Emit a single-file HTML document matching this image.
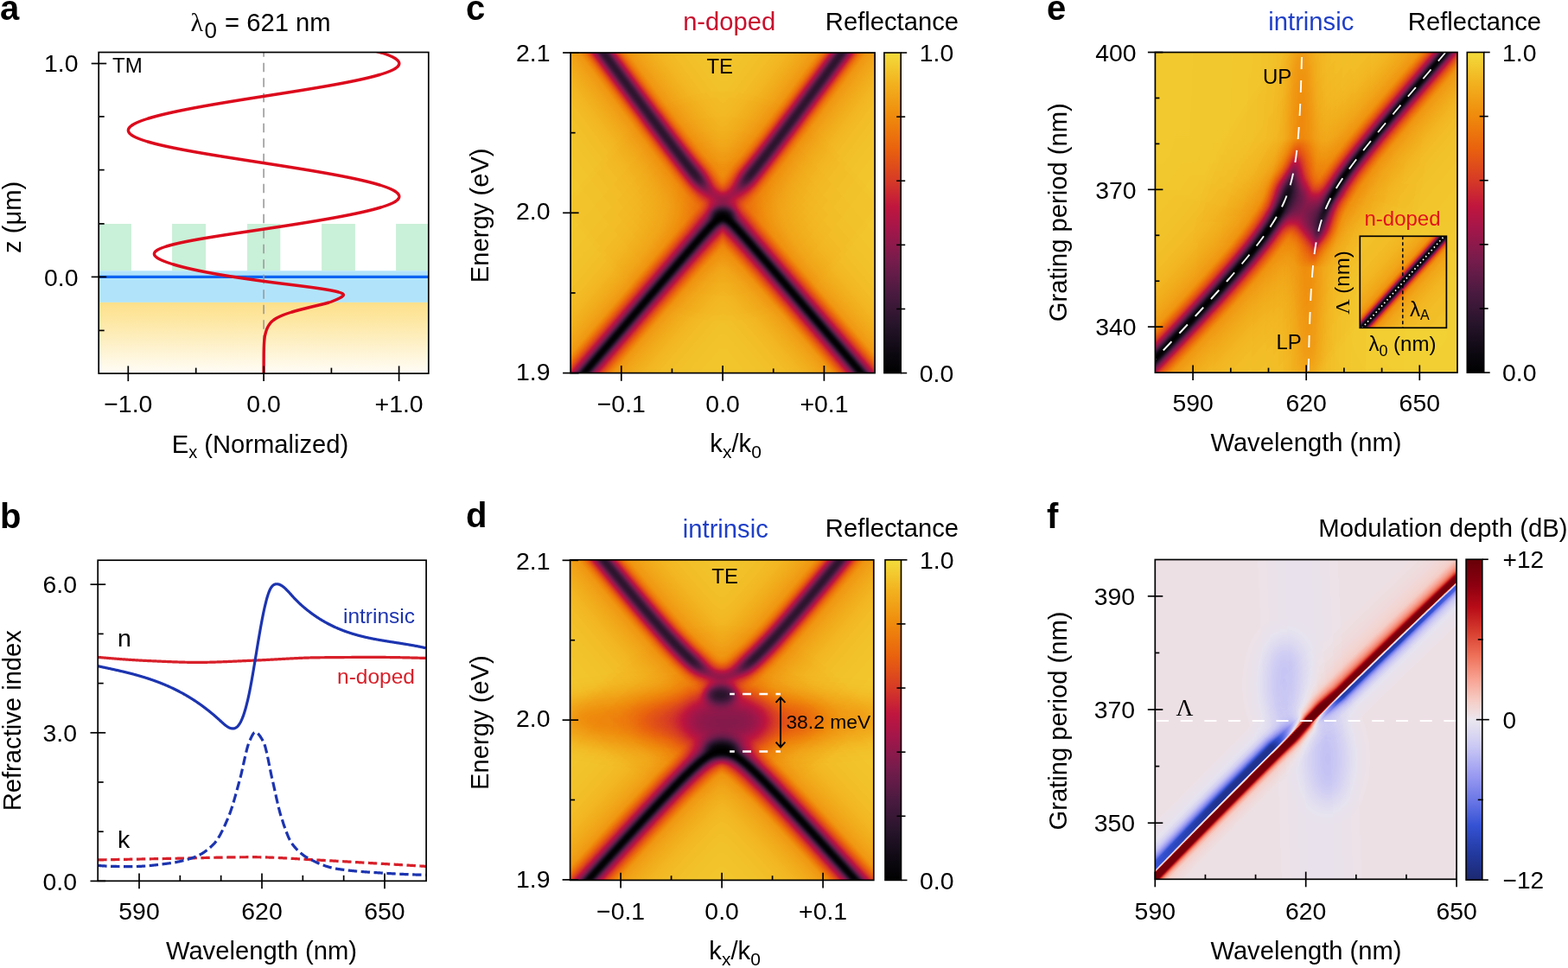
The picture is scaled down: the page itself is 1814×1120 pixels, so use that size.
<!DOCTYPE html>
<html><head><meta charset="utf-8"><title>figure</title>
<style>html,body{margin:0;padding:0;background:#fff;} svg{display:block;}</style></head>
<body><svg width="1814" height="1120" viewBox="0 0 1814 1120" font-family="'Liberation Sans', Arial, Helvetica, sans-serif">
<defs><filter id="cmR" x="0" y="0" width="1" height="1" color-interpolation-filters="sRGB"><feComponentTransfer><feFuncR type="table" tableValues="0 0.017 0.033 0.051 0.076 0.1 0.124 0.148 0.178 0.208 0.238 0.268 0.299 0.336 0.373 0.41 0.446 0.484 0.522 0.561 0.599 0.637 0.672 0.705 0.738 0.766 0.789 0.812 0.835 0.852 0.868 0.884 0.899 0.914 0.919 0.924 0.929 0.934 0.938 0.941 0.943 0.946 0.948 0.95 0.95 0.951 0.952 0.953"/><feFuncG type="table" tableValues="0 0.011 0.022 0.033 0.045 0.056 0.067 0.078 0.083 0.088 0.093 0.098 0.102 0.104 0.106 0.107 0.109 0.107 0.102 0.097 0.092 0.087 0.086 0.086 0.086 0.107 0.145 0.182 0.22 0.254 0.288 0.321 0.354 0.388 0.421 0.454 0.488 0.521 0.554 0.586 0.617 0.649 0.681 0.716 0.753 0.789 0.826 0.863"/><feFuncB type="table" tableValues="0 0.022 0.045 0.067 0.091 0.115 0.139 0.164 0.182 0.201 0.219 0.237 0.253 0.263 0.274 0.284 0.294 0.297 0.295 0.294 0.292 0.29 0.278 0.264 0.249 0.229 0.204 0.179 0.154 0.133 0.113 0.093 0.073 0.055 0.053 0.051 0.05 0.048 0.053 0.068 0.083 0.098 0.113 0.135 0.16 0.185 0.21 0.235"/></feComponentTransfer></filter><filter id="cmD" x="0" y="0" width="1" height="1" color-interpolation-filters="sRGB"><feComponentTransfer><feFuncR type="table" tableValues="0.11 0.116 0.122 0.129 0.138 0.155 0.173 0.19 0.208 0.266 0.323 0.381 0.436 0.486 0.536 0.586 0.634 0.678 0.723 0.767 0.808 0.841 0.873 0.905 0.929 0.945 0.96 0.966 0.969 0.971 0.968 0.956 0.944 0.931 0.904 0.878 0.852 0.82 0.787 0.753 0.719 0.666 0.614 0.562 0.519 0.479 0.44 0.4"/><feFuncG type="table" tableValues="0.157 0.175 0.192 0.21 0.229 0.252 0.275 0.299 0.322 0.362 0.401 0.441 0.48 0.518 0.555 0.593 0.633 0.675 0.718 0.761 0.8 0.83 0.861 0.891 0.887 0.85 0.812 0.764 0.712 0.659 0.605 0.548 0.491 0.433 0.376 0.319 0.262 0.207 0.153 0.099 0.046 0.032 0.018 0.003 0 0 0 0"/><feFuncB type="table" tableValues="0.439 0.487 0.535 0.583 0.632 0.682 0.732 0.782 0.832 0.85 0.869 0.888 0.905 0.918 0.93 0.943 0.95 0.952 0.954 0.955 0.956 0.95 0.945 0.94 0.907 0.848 0.788 0.726 0.664 0.603 0.539 0.472 0.405 0.34 0.293 0.245 0.197 0.168 0.143 0.118 0.094 0.084 0.075 0.065 0.056 0.048 0.04 0.031"/></feComponentTransfer></filter><linearGradient id="gR" x1="0" y1="1" x2="0" y2="0"><stop offset="0.000" stop-color="#000000"/><stop offset="0.060" stop-color="#0c0810"/><stop offset="0.150" stop-color="#26142a"/><stop offset="0.250" stop-color="#4a1a40"/><stop offset="0.350" stop-color="#761c4c"/><stop offset="0.450" stop-color="#a4164a"/><stop offset="0.520" stop-color="#c0163e"/><stop offset="0.600" stop-color="#d63a26"/><stop offset="0.700" stop-color="#e9620e"/><stop offset="0.800" stop-color="#ef8a0c"/><stop offset="0.900" stop-color="#f2b01e"/><stop offset="1.000" stop-color="#f3dc3c"/></linearGradient><linearGradient id="gD" x1="0" y1="1" x2="0" y2="0"><stop offset="0.000" stop-color="#1c2870"/><stop offset="0.080" stop-color="#22399e"/><stop offset="0.170" stop-color="#3552d4"/><stop offset="0.250" stop-color="#6c78e6"/><stop offset="0.330" stop-color="#9c9cf2"/><stop offset="0.420" stop-color="#cccaf4"/><stop offset="0.500" stop-color="#ebe7ef"/><stop offset="0.560" stop-color="#f6ccc4"/><stop offset="0.630" stop-color="#f8a090"/><stop offset="0.700" stop-color="#ee7058"/><stop offset="0.770" stop-color="#d84030"/><stop offset="0.850" stop-color="#b80c18"/><stop offset="0.920" stop-color="#8c0010"/><stop offset="1.000" stop-color="#660008"/></linearGradient><clipPath id="clipA"><rect x="114.2" y="60.5" width="381.6" height="371.6"/></clipPath><linearGradient id="gAu" x1="0" y1="0" x2="0" y2="1"><stop offset="0" stop-color="#fde08a"/><stop offset="0.25" stop-color="#fde7a2"/><stop offset="1" stop-color="#fffdf8"/></linearGradient><clipPath id="clipB"><rect x="113.2" y="648.2" width="379.9" height="371.1"/></clipPath><path id="cU" d="M510.1,-196.41 L512.1,-193.66 L514.1,-190.92 L516.1,-188.17 L518.1,-185.43 L520.1,-182.69 L522.1,-179.94 L524.1,-177.2 L526.1,-174.46 L528.1,-171.71 L530.1,-168.97 L532.1,-166.22 L534.1,-163.48 L536.1,-160.74 L538.1,-157.99 L540.1,-155.25 L542.1,-152.51 L544.1,-149.77 L546.1,-147.02 L548.1,-144.28 L550.1,-141.54 L552.1,-138.79 L554.1,-136.05 L556.1,-133.31 L558.1,-130.57 L560.1,-127.82 L562.1,-125.08 L564.1,-122.34 L566.1,-119.6 L568.1,-116.85 L570.1,-114.11 L572.1,-111.37 L574.1,-108.63 L576.1,-105.89 L578.1,-103.14 L580.1,-100.4 L582.1,-97.66 L584.1,-94.92 L586.1,-92.18 L588.1,-89.44 L590.1,-86.69 L592.1,-83.95 L594.1,-81.21 L596.1,-78.47 L598.1,-75.73 L600.1,-72.99 L602.1,-70.25 L604.1,-67.51 L606.1,-64.77 L608.1,-62.03 L610.1,-59.29 L612.1,-56.55 L614.1,-53.81 L616.1,-51.07 L618.1,-48.33 L620.1,-45.59 L622.1,-42.85 L624.1,-40.12 L626.1,-37.38 L628.1,-34.64 L630.1,-31.9 L632.1,-29.16 L634.1,-26.42 L636.1,-23.69 L638.1,-20.95 L640.1,-18.21 L642.1,-15.47 L644.1,-12.74 L646.1,-10 L648.1,-7.26 L650.1,-4.53 L652.1,-1.79 L654.1,0.94 L656.1,3.68 L658.1,6.41 L660.1,9.15 L662.1,11.88 L664.1,14.62 L666.1,17.35 L668.1,20.08 L670.1,22.82 L672.1,25.55 L674.1,28.28 L676.1,31.01 L678.1,33.75 L680.1,36.48 L682.1,39.21 L684.1,41.94 L686.1,44.67 L688.1,47.4 L690.1,50.13 L692.1,52.85 L694.1,55.58 L696.1,58.31 L698.1,61.04 L700.1,63.76 L702.1,66.49 L704.1,69.21 L706.1,71.93 L708.1,74.66 L710.1,77.38 L712.1,80.1 L714.1,82.82 L716.1,85.54 L718.1,88.26 L720.1,90.98 L722.1,93.7 L724.1,96.41 L726.1,99.13 L728.1,101.84 L730.1,104.55 L732.1,107.26 L734.1,109.97 L736.1,112.68 L738.1,115.39 L740.1,118.09 L742.1,120.79 L744.1,123.49 L746.1,126.19 L748.1,128.89 L750.1,131.58 L752.1,134.28 L754.1,136.96 L756.1,139.65 L758.1,142.33 L760.1,145.01 L762.1,147.69 L764.1,150.36 L766.1,153.03 L768.1,155.69 L770.1,158.35 L772.1,161.01 L774.1,163.66 L776.1,166.3 L778.1,168.93 L780.1,171.56 L782.1,174.18 L784.1,176.79 L786.1,179.39 L788.1,181.98 L790.1,184.55 L792.1,187.11 L794.1,189.66 L796.1,192.19 L798.1,194.7 L800.1,197.18 L802.1,199.64 L804.1,202.07 L806.1,204.46 L808.1,206.82 L810.1,209.12 L812.1,211.37 L814.1,213.56 L816.1,215.68 L818.1,217.7 L820.1,219.61 L822.1,221.4 L824.1,223.04 L826.1,224.51 L828.1,225.76 L830.1,226.78 L832.1,227.54 L834.1,228 L836.1,228.16 L838.1,228 L840.1,227.54 L842.1,226.78 L844.1,225.76 L846.1,224.51 L848.1,223.04 L850.1,221.4 L852.1,219.61 L854.1,217.7 L856.1,215.68 L858.1,213.56 L860.1,211.37 L862.1,209.12 L864.1,206.82 L866.1,204.46 L868.1,202.07 L870.1,199.64 L872.1,197.18 L874.1,194.7 L876.1,192.19 L878.1,189.66 L880.1,187.11 L882.1,184.55 L884.1,181.98 L886.1,179.39 L888.1,176.79 L890.1,174.18 L892.1,171.56 L894.1,168.93 L896.1,166.3 L898.1,163.66 L900.1,161.01 L902.1,158.35 L904.1,155.69 L906.1,153.03 L908.1,150.36 L910.1,147.69 L912.1,145.01 L914.1,142.33 L916.1,139.65 L918.1,136.96 L920.1,134.28 L922.1,131.58 L924.1,128.89 L926.1,126.19 L928.1,123.49 L930.1,120.79 L932.1,118.09 L934.1,115.39 L936.1,112.68 L938.1,109.97 L940.1,107.26 L942.1,104.55 L944.1,101.84 L946.1,99.13 L948.1,96.41 L950.1,93.7 L952.1,90.98 L954.1,88.26 L956.1,85.54 L958.1,82.82 L960.1,80.1 L962.1,77.38 L964.1,74.66 L966.1,71.93 L968.1,69.21 L970.1,66.49 L972.1,63.76 L974.1,61.04 L976.1,58.31 L978.1,55.58 L980.1,52.85 L982.1,50.13 L984.1,47.4 L986.1,44.67 L988.1,41.94 L990.1,39.21 L992.1,36.48 L994.1,33.75 L996.1,31.01 L998.1,28.28 L1000.1,25.55 L1002.1,22.82 L1004.1,20.08 L1006.1,17.35 L1008.1,14.62 L1010.1,11.88 L1012.1,9.15 L1014.1,6.41 L1016.1,3.68 L1018.1,0.94 L1020.1,-1.79 L1022.1,-4.53 L1024.1,-7.26 L1026.1,-10 L1028.1,-12.74 L1030.1,-15.47 L1032.1,-18.21 L1034.1,-20.95 L1036.1,-23.69 L1038.1,-26.42 L1040.1,-29.16 L1042.1,-31.9 L1044.1,-34.64 L1046.1,-37.38 L1048.1,-40.12 L1050.1,-42.85 L1052.1,-45.59 L1054.1,-48.33 L1056.1,-51.07 L1058.1,-53.81 L1060.1,-56.55 L1062.1,-59.29 L1064.1,-62.03 L1066.1,-64.77 L1068.1,-67.51 L1070.1,-70.25 L1072.1,-72.99 L1074.1,-75.73 L1076.1,-78.47 L1078.1,-81.21 L1080.1,-83.95 L1082.1,-86.69 L1084.1,-89.44 L1086.1,-92.18 L1088.1,-94.92 L1090.1,-97.66 L1092.1,-100.4 L1094.1,-103.14 L1096.1,-105.89 L1098.1,-108.63 L1100.1,-111.37 L1102.1,-114.11 L1104.1,-116.85 L1106.1,-119.6 L1108.1,-122.34 L1110.1,-125.08 L1112.1,-127.82 L1114.1,-130.57 L1116.1,-133.31 L1118.1,-136.05 L1120.1,-138.79 L1122.1,-141.54 L1124.1,-144.28 L1126.1,-147.02 L1128.1,-149.77 L1130.1,-152.51 L1132.1,-155.25 L1134.1,-157.99 L1136.1,-160.74 L1138.1,-163.48 L1140.1,-166.22 L1142.1,-168.97 L1144.1,-171.71 L1146.1,-174.46 L1148.1,-177.2 L1150.1,-179.94 L1152.1,-182.69 L1154.1,-185.43 L1156.1,-188.17 L1158.1,-190.92 L1160.1,-193.66 L1162.1,-196.41"/><path id="cL" d="M510.1,625.34 L512.1,623 L514.1,620.66 L516.1,618.32 L518.1,615.98 L520.1,613.64 L522.1,611.3 L524.1,608.96 L526.1,606.62 L528.1,604.28 L530.1,601.94 L532.1,599.6 L534.1,597.26 L536.1,594.92 L538.1,592.58 L540.1,590.24 L542.1,587.9 L544.1,585.56 L546.1,583.22 L548.1,580.89 L550.1,578.55 L552.1,576.21 L554.1,573.87 L556.1,571.53 L558.1,569.19 L560.1,566.85 L562.1,564.51 L564.1,562.17 L566.1,559.83 L568.1,557.49 L570.1,555.15 L572.1,552.81 L574.1,550.47 L576.1,548.13 L578.1,545.8 L580.1,543.46 L582.1,541.12 L584.1,538.78 L586.1,536.44 L588.1,534.1 L590.1,531.76 L592.1,529.42 L594.1,527.08 L596.1,524.74 L598.1,522.4 L600.1,520.06 L602.1,517.73 L604.1,515.39 L606.1,513.05 L608.1,510.71 L610.1,508.37 L612.1,506.03 L614.1,503.69 L616.1,501.35 L618.1,499.01 L620.1,496.67 L622.1,494.34 L624.1,492 L626.1,489.66 L628.1,487.32 L630.1,484.98 L632.1,482.64 L634.1,480.3 L636.1,477.96 L638.1,475.62 L640.1,473.29 L642.1,470.95 L644.1,468.61 L646.1,466.27 L648.1,463.93 L650.1,461.59 L652.1,459.25 L654.1,456.92 L656.1,454.58 L658.1,452.24 L660.1,449.9 L662.1,447.56 L664.1,445.22 L666.1,442.88 L668.1,440.55 L670.1,438.21 L672.1,435.87 L674.1,433.53 L676.1,431.19 L678.1,428.86 L680.1,426.52 L682.1,424.18 L684.1,421.84 L686.1,419.5 L688.1,417.17 L690.1,414.83 L692.1,412.49 L694.1,410.15 L696.1,407.82 L698.1,405.48 L700.1,403.14 L702.1,400.8 L704.1,398.47 L706.1,396.13 L708.1,393.79 L710.1,391.46 L712.1,389.12 L714.1,386.78 L716.1,384.45 L718.1,382.11 L720.1,379.77 L722.1,377.44 L724.1,375.1 L726.1,372.76 L728.1,370.43 L730.1,368.09 L732.1,365.76 L734.1,363.42 L736.1,361.09 L738.1,358.75 L740.1,356.42 L742.1,354.08 L744.1,351.75 L746.1,349.41 L748.1,347.08 L750.1,344.75 L752.1,342.41 L754.1,340.08 L756.1,337.75 L758.1,335.42 L760.1,333.08 L762.1,330.75 L764.1,328.42 L766.1,326.09 L768.1,323.76 L770.1,321.43 L772.1,319.1 L774.1,316.78 L776.1,314.45 L778.1,312.12 L780.1,309.8 L782.1,307.47 L784.1,305.15 L786.1,302.83 L788.1,300.51 L790.1,298.19 L792.1,295.88 L794.1,293.56 L796.1,291.25 L798.1,288.94 L800.1,286.64 L802.1,284.34 L804.1,282.04 L806.1,279.75 L808.1,277.47 L810.1,275.19 L812.1,272.93 L814.1,270.68 L816.1,268.44 L818.1,266.23 L820.1,264.04 L822.1,261.89 L824.1,259.8 L826.1,257.79 L828.1,255.89 L830.1,254.18 L832.1,252.76 L834.1,251.78 L836.1,251.43 L838.1,251.78 L840.1,252.76 L842.1,254.18 L844.1,255.89 L846.1,257.79 L848.1,259.8 L850.1,261.89 L852.1,264.04 L854.1,266.23 L856.1,268.44 L858.1,270.68 L860.1,272.93 L862.1,275.19 L864.1,277.47 L866.1,279.75 L868.1,282.04 L870.1,284.34 L872.1,286.64 L874.1,288.94 L876.1,291.25 L878.1,293.56 L880.1,295.88 L882.1,298.19 L884.1,300.51 L886.1,302.83 L888.1,305.15 L890.1,307.47 L892.1,309.8 L894.1,312.12 L896.1,314.45 L898.1,316.78 L900.1,319.1 L902.1,321.43 L904.1,323.76 L906.1,326.09 L908.1,328.42 L910.1,330.75 L912.1,333.08 L914.1,335.42 L916.1,337.75 L918.1,340.08 L920.1,342.41 L922.1,344.75 L924.1,347.08 L926.1,349.41 L928.1,351.75 L930.1,354.08 L932.1,356.42 L934.1,358.75 L936.1,361.09 L938.1,363.42 L940.1,365.76 L942.1,368.09 L944.1,370.43 L946.1,372.76 L948.1,375.1 L950.1,377.44 L952.1,379.77 L954.1,382.11 L956.1,384.45 L958.1,386.78 L960.1,389.12 L962.1,391.46 L964.1,393.79 L966.1,396.13 L968.1,398.47 L970.1,400.8 L972.1,403.14 L974.1,405.48 L976.1,407.82 L978.1,410.15 L980.1,412.49 L982.1,414.83 L984.1,417.17 L986.1,419.5 L988.1,421.84 L990.1,424.18 L992.1,426.52 L994.1,428.86 L996.1,431.19 L998.1,433.53 L1000.1,435.87 L1002.1,438.21 L1004.1,440.55 L1006.1,442.88 L1008.1,445.22 L1010.1,447.56 L1012.1,449.9 L1014.1,452.24 L1016.1,454.58 L1018.1,456.92 L1020.1,459.25 L1022.1,461.59 L1024.1,463.93 L1026.1,466.27 L1028.1,468.61 L1030.1,470.95 L1032.1,473.29 L1034.1,475.62 L1036.1,477.96 L1038.1,480.3 L1040.1,482.64 L1042.1,484.98 L1044.1,487.32 L1046.1,489.66 L1048.1,492 L1050.1,494.34 L1052.1,496.67 L1054.1,499.01 L1056.1,501.35 L1058.1,503.69 L1060.1,506.03 L1062.1,508.37 L1064.1,510.71 L1066.1,513.05 L1068.1,515.39 L1070.1,517.73 L1072.1,520.06 L1074.1,522.4 L1076.1,524.74 L1078.1,527.08 L1080.1,529.42 L1082.1,531.76 L1084.1,534.1 L1086.1,536.44 L1088.1,538.78 L1090.1,541.12 L1092.1,543.46 L1094.1,545.8 L1096.1,548.13 L1098.1,550.47 L1100.1,552.81 L1102.1,555.15 L1104.1,557.49 L1106.1,559.83 L1108.1,562.17 L1110.1,564.51 L1112.1,566.85 L1114.1,569.19 L1116.1,571.53 L1118.1,573.87 L1120.1,576.21 L1122.1,578.55 L1124.1,580.89 L1126.1,583.22 L1128.1,585.56 L1130.1,587.9 L1132.1,590.24 L1134.1,592.58 L1136.1,594.92 L1138.1,597.26 L1140.1,599.6 L1142.1,601.94 L1144.1,604.28 L1146.1,606.62 L1148.1,608.96 L1150.1,611.3 L1152.1,613.64 L1154.1,615.98 L1156.1,618.32 L1158.1,620.66 L1160.1,623 L1162.1,625.34"/><clipPath id="clipC"><rect x="660.1" y="61" width="352" height="370.6"/></clipPath><filter id="bl1" filterUnits="userSpaceOnUse" x="620.1" y="21" width="432" height="450.6" color-interpolation-filters="sRGB"><feGaussianBlur stdDeviation="5"/></filter><filter id="bl2" filterUnits="userSpaceOnUse" x="620.1" y="21" width="432" height="450.6" color-interpolation-filters="sRGB"><feGaussianBlur stdDeviation="1.0"/></filter><filter id="bl3" filterUnits="userSpaceOnUse" x="620.1" y="21" width="432" height="450.6" color-interpolation-filters="sRGB"><feGaussianBlur stdDeviation="9"/></filter><filter id="bl4" filterUnits="userSpaceOnUse" x="620.1" y="21" width="432" height="450.6" color-interpolation-filters="sRGB"><feGaussianBlur stdDeviation="5"/></filter><filter id="bl5" filterUnits="userSpaceOnUse" x="620.1" y="21" width="432" height="450.6" color-interpolation-filters="sRGB"><feGaussianBlur stdDeviation="1.0"/></filter><filter id="bl6" filterUnits="userSpaceOnUse" x="620.1" y="21" width="432" height="450.6" color-interpolation-filters="sRGB"><feGaussianBlur stdDeviation="4"/></filter><path id="dU" d="M509.6,412.62 L511.6,415.14 L513.6,417.65 L515.6,420.16 L517.6,422.68 L519.6,425.19 L521.6,427.7 L523.6,430.21 L525.6,432.73 L527.6,435.24 L529.6,437.75 L531.6,440.26 L533.6,442.77 L535.6,445.28 L537.6,447.79 L539.6,450.31 L541.6,452.82 L543.6,455.33 L545.6,457.84 L547.6,460.35 L549.6,462.86 L551.6,465.36 L553.6,467.87 L555.6,470.38 L557.6,472.89 L559.6,475.4 L561.6,477.91 L563.6,480.41 L565.6,482.92 L567.6,485.43 L569.6,487.94 L571.6,490.44 L573.6,492.95 L575.6,495.45 L577.6,497.96 L579.6,500.46 L581.6,502.97 L583.6,505.47 L585.6,507.98 L587.6,510.48 L589.6,512.98 L591.6,515.49 L593.6,517.99 L595.6,520.49 L597.6,522.99 L599.6,525.49 L601.6,527.99 L603.6,530.49 L605.6,532.99 L607.6,535.49 L609.6,537.99 L611.6,540.49 L613.6,542.99 L615.6,545.48 L617.6,547.98 L619.6,550.48 L621.6,552.97 L623.6,555.47 L625.6,557.96 L627.6,560.45 L629.6,562.95 L631.6,565.44 L633.6,567.93 L635.6,570.42 L637.6,572.91 L639.6,575.4 L641.6,577.89 L643.6,580.38 L645.6,582.86 L647.6,585.35 L649.6,587.84 L651.6,590.32 L653.6,592.8 L655.6,595.28 L657.6,597.77 L659.6,600.25 L661.6,602.73 L663.6,605.2 L665.6,607.68 L667.6,610.16 L669.6,612.63 L671.6,615.1 L673.6,617.58 L675.6,620.05 L677.6,622.52 L679.6,624.98 L681.6,627.45 L683.6,629.91 L685.6,632.38 L687.6,634.84 L689.6,637.3 L691.6,639.76 L693.6,642.21 L695.6,644.67 L697.6,647.12 L699.6,649.57 L701.6,652.01 L703.6,654.46 L705.6,656.9 L707.6,659.34 L709.6,661.78 L711.6,664.21 L713.6,666.65 L715.6,669.07 L717.6,671.5 L719.6,673.92 L721.6,676.34 L723.6,678.76 L725.6,681.17 L727.6,683.57 L729.6,685.98 L731.6,688.37 L733.6,690.77 L735.6,693.16 L737.6,695.54 L739.6,697.92 L741.6,700.29 L743.6,702.66 L745.6,705.02 L747.6,707.37 L749.6,709.71 L751.6,712.05 L753.6,714.38 L755.6,716.7 L757.6,719.01 L759.6,721.31 L761.6,723.6 L763.6,725.88 L765.6,728.15 L767.6,730.4 L769.6,732.64 L771.6,734.87 L773.6,737.08 L775.6,739.27 L777.6,741.44 L779.6,743.59 L781.6,745.72 L783.6,747.83 L785.6,749.91 L787.6,751.96 L789.6,753.99 L791.6,755.98 L793.6,757.93 L795.6,759.85 L797.6,761.73 L799.6,763.55 L801.6,765.33 L803.6,767.06 L805.6,768.73 L807.6,770.33 L809.6,771.86 L811.6,773.31 L813.6,774.68 L815.6,775.97 L817.6,777.15 L819.6,778.24 L821.6,779.21 L823.6,780.06 L825.6,780.79 L827.6,781.39 L829.6,781.85 L831.6,782.18 L833.6,782.36 L835.6,782.4 L837.6,782.29 L839.6,782.03 L841.6,781.64 L843.6,781.11 L845.6,780.44 L847.6,779.65 L849.6,778.74 L851.6,777.71 L853.6,776.57 L855.6,775.34 L857.6,774.01 L859.6,772.59 L861.6,771.1 L863.6,769.53 L865.6,767.9 L867.6,766.2 L869.6,764.45 L871.6,762.65 L873.6,760.79 L875.6,758.9 L877.6,756.96 L879.6,754.99 L881.6,752.98 L883.6,750.94 L885.6,748.87 L887.6,746.78 L889.6,744.66 L891.6,742.52 L893.6,740.36 L895.6,738.17 L897.6,735.97 L899.6,733.76 L901.6,731.52 L903.6,729.28 L905.6,727.02 L907.6,724.74 L909.6,722.46 L911.6,720.16 L913.6,717.86 L915.6,715.54 L917.6,713.22 L919.6,710.88 L921.6,708.54 L923.6,706.19 L925.6,703.84 L927.6,701.47 L929.6,699.11 L931.6,696.73 L933.6,694.35 L935.6,691.96 L937.6,689.57 L939.6,687.18 L941.6,684.78 L943.6,682.37 L945.6,679.96 L947.6,677.55 L949.6,675.13 L951.6,672.71 L953.6,670.29 L955.6,667.86 L957.6,665.43 L959.6,663 L961.6,660.56 L963.6,658.12 L965.6,655.68 L967.6,653.24 L969.6,650.79 L971.6,648.34 L973.6,645.89 L975.6,643.44 L977.6,640.98 L979.6,638.53 L981.6,636.07 L983.6,633.61 L985.6,631.15 L987.6,628.68 L989.6,626.22 L991.6,623.75 L993.6,621.28 L995.6,618.81 L997.6,616.34 L999.6,613.87 L1001.6,611.39 L1003.6,608.92 L1005.6,606.44 L1007.6,603.96 L1009.6,601.49 L1011.6,599.01 L1013.6,596.53 L1015.6,594.04 L1017.6,591.56 L1019.6,589.08 L1021.6,586.59 L1023.6,584.11 L1025.6,581.62 L1027.6,579.13 L1029.6,576.65 L1031.6,574.16 L1033.6,571.67 L1035.6,569.18 L1037.6,566.69 L1039.6,564.19 L1041.6,561.7 L1043.6,559.21 L1045.6,556.71 L1047.6,554.22 L1049.6,551.72 L1051.6,549.23 L1053.6,546.73 L1055.6,544.24 L1057.6,541.74 L1059.6,539.24 L1061.6,536.74 L1063.6,534.24 L1065.6,531.74 L1067.6,529.24 L1069.6,526.74 L1071.6,524.24 L1073.6,521.74 L1075.6,519.24 L1077.6,516.74 L1079.6,514.24 L1081.6,511.73 L1083.6,509.23 L1085.6,506.73 L1087.6,504.22 L1089.6,501.72 L1091.6,499.21 L1093.6,496.71 L1095.6,494.2 L1097.6,491.7 L1099.6,489.19 L1101.6,486.68 L1103.6,484.18 L1105.6,481.67 L1107.6,479.16 L1109.6,476.65 L1111.6,474.15 L1113.6,471.64 L1115.6,469.13 L1117.6,466.62 L1119.6,464.11 L1121.6,461.6 L1123.6,459.09 L1125.6,456.58 L1127.6,454.07 L1129.6,451.56 L1131.6,449.05 L1133.6,446.54 L1135.6,444.03 L1137.6,441.52 L1139.6,439.01 L1141.6,436.49 L1143.6,433.98 L1145.6,431.47 L1147.6,428.96 L1149.6,426.44 L1151.6,423.93 L1153.6,421.42 L1155.6,418.91 L1157.6,416.39 L1159.6,413.88"/><path id="dL" d="M509.6,1207.98 L511.6,1205.75 L513.6,1203.53 L515.6,1201.3 L517.6,1199.08 L519.6,1196.86 L521.6,1194.63 L523.6,1192.41 L525.6,1190.18 L527.6,1187.96 L529.6,1185.73 L531.6,1183.51 L533.6,1181.29 L535.6,1179.06 L537.6,1176.84 L539.6,1174.61 L541.6,1172.39 L543.6,1170.17 L545.6,1167.94 L547.6,1165.72 L549.6,1163.5 L551.6,1161.27 L553.6,1159.05 L555.6,1156.83 L557.6,1154.6 L559.6,1152.38 L561.6,1150.16 L563.6,1147.94 L565.6,1145.71 L567.6,1143.49 L569.6,1141.27 L571.6,1139.05 L573.6,1136.83 L575.6,1134.6 L577.6,1132.38 L579.6,1130.16 L581.6,1127.94 L583.6,1125.72 L585.6,1123.5 L587.6,1121.27 L589.6,1119.05 L591.6,1116.83 L593.6,1114.61 L595.6,1112.39 L597.6,1110.17 L599.6,1107.95 L601.6,1105.73 L603.6,1103.51 L605.6,1101.29 L607.6,1099.07 L609.6,1096.85 L611.6,1094.63 L613.6,1092.41 L615.6,1090.2 L617.6,1087.98 L619.6,1085.76 L621.6,1083.54 L623.6,1081.32 L625.6,1079.11 L627.6,1076.89 L629.6,1074.67 L631.6,1072.45 L633.6,1070.24 L635.6,1068.02 L637.6,1065.8 L639.6,1063.59 L641.6,1061.37 L643.6,1059.16 L645.6,1056.94 L647.6,1054.73 L649.6,1052.51 L651.6,1050.3 L653.6,1048.09 L655.6,1045.87 L657.6,1043.66 L659.6,1041.45 L661.6,1039.24 L663.6,1037.02 L665.6,1034.81 L667.6,1032.6 L669.6,1030.39 L671.6,1028.18 L673.6,1025.97 L675.6,1023.76 L677.6,1021.55 L679.6,1019.35 L681.6,1017.14 L683.6,1014.93 L685.6,1012.73 L687.6,1010.52 L689.6,1008.32 L691.6,1006.11 L693.6,1003.91 L695.6,1001.71 L697.6,999.51 L699.6,997.3 L701.6,995.1 L703.6,992.91 L705.6,990.71 L707.6,988.51 L709.6,986.31 L711.6,984.12 L713.6,981.92 L715.6,979.73 L717.6,977.54 L719.6,975.35 L721.6,973.16 L723.6,970.97 L725.6,968.79 L727.6,966.6 L729.6,964.42 L731.6,962.24 L733.6,960.06 L735.6,957.88 L737.6,955.71 L739.6,953.53 L741.6,951.36 L743.6,949.19 L745.6,947.03 L747.6,944.87 L749.6,942.71 L751.6,940.55 L753.6,938.4 L755.6,936.25 L757.6,934.1 L759.6,931.96 L761.6,929.82 L763.6,927.69 L765.6,925.56 L767.6,923.44 L769.6,921.33 L771.6,919.22 L773.6,917.12 L775.6,915.03 L777.6,912.94 L779.6,910.87 L781.6,908.8 L783.6,906.75 L785.6,904.71 L787.6,902.68 L789.6,900.67 L791.6,898.68 L793.6,896.7 L795.6,894.74 L797.6,892.81 L799.6,890.91 L801.6,889.04 L803.6,887.2 L805.6,885.39 L807.6,883.64 L809.6,881.93 L811.6,880.28 L813.6,878.69 L815.6,877.18 L817.6,875.76 L819.6,874.43 L821.6,873.21 L823.6,872.12 L825.6,871.17 L827.6,870.37 L829.6,869.75 L831.6,869.31 L833.6,869.06 L835.6,869.01 L837.6,869.16 L839.6,869.5 L841.6,870.04 L843.6,870.75 L845.6,871.62 L847.6,872.65 L849.6,873.8 L851.6,875.08 L853.6,876.46 L855.6,877.93 L857.6,879.48 L859.6,881.1 L861.6,882.78 L863.6,884.51 L865.6,886.29 L867.6,888.11 L869.6,889.97 L871.6,891.86 L873.6,893.78 L875.6,895.72 L877.6,897.68 L879.6,899.67 L881.6,901.67 L883.6,903.69 L885.6,905.73 L887.6,907.77 L889.6,909.83 L891.6,911.9 L893.6,913.98 L895.6,916.07 L897.6,918.17 L899.6,920.27 L901.6,922.38 L903.6,924.5 L905.6,926.63 L907.6,928.76 L909.6,930.89 L911.6,933.03 L913.6,935.17 L915.6,937.32 L917.6,939.47 L919.6,941.63 L921.6,943.78 L923.6,945.95 L925.6,948.11 L927.6,950.28 L929.6,952.45 L931.6,954.62 L933.6,956.79 L935.6,958.97 L937.6,961.15 L939.6,963.33 L941.6,965.51 L943.6,967.69 L945.6,969.88 L947.6,972.07 L949.6,974.25 L951.6,976.44 L953.6,978.63 L955.6,980.83 L957.6,983.02 L959.6,985.22 L961.6,987.41 L963.6,989.61 L965.6,991.81 L967.6,994 L969.6,996.2 L971.6,998.4 L973.6,1000.61 L975.6,1002.81 L977.6,1005.01 L979.6,1007.21 L981.6,1009.42 L983.6,1011.62 L985.6,1013.83 L987.6,1016.04 L989.6,1018.24 L991.6,1020.45 L993.6,1022.66 L995.6,1024.87 L997.6,1027.08 L999.6,1029.29 L1001.6,1031.5 L1003.6,1033.71 L1005.6,1035.92 L1007.6,1038.13 L1009.6,1040.34 L1011.6,1042.55 L1013.6,1044.77 L1015.6,1046.98 L1017.6,1049.19 L1019.6,1051.41 L1021.6,1053.62 L1023.6,1055.84 L1025.6,1058.05 L1027.6,1060.27 L1029.6,1062.48 L1031.6,1064.7 L1033.6,1066.91 L1035.6,1069.13 L1037.6,1071.35 L1039.6,1073.56 L1041.6,1075.78 L1043.6,1078 L1045.6,1080.21 L1047.6,1082.43 L1049.6,1084.65 L1051.6,1086.87 L1053.6,1089.09 L1055.6,1091.31 L1057.6,1093.52 L1059.6,1095.74 L1061.6,1097.96 L1063.6,1100.18 L1065.6,1102.4 L1067.6,1104.62 L1069.6,1106.84 L1071.6,1109.06 L1073.6,1111.28 L1075.6,1113.5 L1077.6,1115.72 L1079.6,1117.94 L1081.6,1120.16 L1083.6,1122.39 L1085.6,1124.61 L1087.6,1126.83 L1089.6,1129.05 L1091.6,1131.27 L1093.6,1133.49 L1095.6,1135.71 L1097.6,1137.94 L1099.6,1140.16 L1101.6,1142.38 L1103.6,1144.6 L1105.6,1146.83 L1107.6,1149.05 L1109.6,1151.27 L1111.6,1153.49 L1113.6,1155.72 L1115.6,1157.94 L1117.6,1160.16 L1119.6,1162.39 L1121.6,1164.61 L1123.6,1166.83 L1125.6,1169.06 L1127.6,1171.28 L1129.6,1173.5 L1131.6,1175.73 L1133.6,1177.95 L1135.6,1180.17 L1137.6,1182.4 L1139.6,1184.62 L1141.6,1186.85 L1143.6,1189.07 L1145.6,1191.29 L1147.6,1193.52 L1149.6,1195.74 L1151.6,1197.97 L1153.6,1200.19 L1155.6,1202.42 L1157.6,1204.64 L1159.6,1206.87"/><clipPath id="clipD"><rect x="659.6" y="647.8" width="351.2" height="370.6"/></clipPath><filter id="bl7" filterUnits="userSpaceOnUse" x="619.6" y="607.8" width="431.2" height="450.6" color-interpolation-filters="sRGB"><feGaussianBlur stdDeviation="14"/></filter><filter id="bl8" filterUnits="userSpaceOnUse" x="619.6" y="607.8" width="431.2" height="450.6" color-interpolation-filters="sRGB"><feGaussianBlur stdDeviation="5"/></filter><filter id="bl9" filterUnits="userSpaceOnUse" x="619.6" y="607.8" width="431.2" height="450.6" color-interpolation-filters="sRGB"><feGaussianBlur stdDeviation="1.0"/></filter><filter id="bl10" filterUnits="userSpaceOnUse" x="619.6" y="607.8" width="431.2" height="450.6" color-interpolation-filters="sRGB"><feGaussianBlur stdDeviation="9"/></filter><filter id="bl11" filterUnits="userSpaceOnUse" x="619.6" y="607.8" width="431.2" height="450.6" color-interpolation-filters="sRGB"><feGaussianBlur stdDeviation="12"/></filter><filter id="bl12" filterUnits="userSpaceOnUse" x="619.6" y="607.8" width="431.2" height="450.6" color-interpolation-filters="sRGB"><feGaussianBlur stdDeviation="15"/></filter><filter id="bl13" filterUnits="userSpaceOnUse" x="619.6" y="607.8" width="431.2" height="450.6" color-interpolation-filters="sRGB"><feGaussianBlur stdDeviation="5.5"/></filter><filter id="bl14" filterUnits="userSpaceOnUse" x="619.6" y="607.8" width="431.2" height="450.6" color-interpolation-filters="sRGB"><feGaussianBlur stdDeviation="5"/></filter><filter id="bl15" filterUnits="userSpaceOnUse" x="619.6" y="607.8" width="431.2" height="450.6" color-interpolation-filters="sRGB"><feGaussianBlur stdDeviation="1.0"/></filter><filter id="bl16" filterUnits="userSpaceOnUse" x="619.6" y="607.8" width="431.2" height="450.6" color-interpolation-filters="sRGB"><feGaussianBlur stdDeviation="5"/></filter><path id="eUP" d="M1283.39,470 L1285.35,468 L1287.3,466 L1289.26,464 L1291.21,462 L1293.16,460 L1295.11,458 L1297.05,456 L1299,454 L1300.94,452 L1302.89,450 L1304.83,448 L1306.77,446 L1308.7,444 L1310.64,442 L1312.57,440 L1314.5,438 L1316.43,436 L1318.36,434 L1320.29,432 L1322.21,430 L1324.14,428 L1326.06,426 L1327.98,424 L1329.89,422 L1331.81,420 L1333.72,418 L1335.63,416 L1337.54,414 L1339.45,412 L1341.36,410 L1343.26,408 L1345.16,406 L1347.06,404 L1348.96,402 L1350.85,400 L1352.74,398 L1354.63,396 L1356.52,394 L1358.4,392 L1360.29,390 L1362.17,388 L1364.05,386 L1365.92,384 L1367.79,382 L1369.66,380 L1371.53,378 L1373.39,376 L1375.26,374 L1377.11,372 L1378.97,370 L1380.82,368 L1382.67,366 L1384.52,364 L1386.36,362 L1388.2,360 L1390.04,358 L1391.87,356 L1393.7,354 L1395.52,352 L1397.35,350 L1399.16,348 L1400.98,346 L1402.78,344 L1404.59,342 L1406.39,340 L1408.18,338 L1409.97,336 L1411.76,334 L1413.54,332 L1415.31,330 L1417.08,328 L1418.85,326 L1420.6,324 L1422.36,322 L1424.1,320 L1425.84,318 L1427.57,316 L1429.29,314 L1431.01,312 L1432.71,310 L1434.41,308 L1436.1,306 L1437.78,304 L1439.45,302 L1441.11,300 L1442.76,298 L1444.4,296 L1446.03,294 L1447.64,292 L1449.24,290 L1450.83,288 L1452.4,286 L1453.96,284 L1455.5,282 L1457.03,280 L1458.54,278 L1460.03,276 L1461.5,274 L1462.95,272 L1464.38,270 L1465.79,268 L1467.17,266 L1468.53,264 L1469.87,262 L1471.18,260 L1472.46,258 L1473.71,256 L1474.94,254 L1476.14,252 L1477.3,250 L1478.44,248 L1479.54,246 L1480.61,244 L1481.65,242 L1482.65,240 L1483.62,238 L1484.55,236 L1485.46,234 L1486.33,232 L1487.16,230 L1487.96,228 L1488.73,226 L1489.47,224 L1490.18,222 L1490.86,220 L1491.5,218 L1492.12,216 L1492.71,214 L1493.28,212 L1493.82,210 L1494.33,208 L1494.83,206 L1495.29,204 L1495.74,202 L1496.17,200 L1496.58,198 L1496.97,196 L1497.34,194 L1497.69,192 L1498.03,190 L1498.36,188 L1498.67,186 L1498.96,184 L1499.25,182 L1499.52,180 L1499.78,178 L1500.03,176 L1500.27,174 L1500.5,172 L1500.72,170 L1500.93,168 L1501.13,166 L1501.33,164 L1501.51,162 L1501.69,160 L1501.87,158 L1502.04,156 L1502.2,154 L1502.35,152 L1502.5,150 L1502.65,148 L1502.79,146 L1502.92,144 L1503.05,142 L1503.18,140 L1503.3,138 L1503.42,136 L1503.53,134 L1503.64,132 L1503.75,130 L1503.85,128 L1503.95,126 L1504.05,124 L1504.14,122 L1504.24,120 L1504.33,118 L1504.41,116 L1504.5,114 L1504.58,112 L1504.66,110 L1504.73,108 L1504.81,106 L1504.88,104 L1504.95,102 L1505.02,100 L1505.09,98 L1505.16,96 L1505.22,94 L1505.28,92 L1505.35,90 L1505.41,88 L1505.46,86 L1505.52,84 L1505.58,82 L1505.63,80 L1505.68,78 L1505.73,76 L1505.79,74 L1505.83,72 L1505.88,70 L1505.93,68 L1505.98,66 L1506.02,64 L1506.07,62 L1506.11,60 L1506.15,58 L1506.19,56 L1506.23,54 L1506.27,52 L1506.31,50 L1506.35,48 L1506.39,46 L1506.43,44 L1506.46,42"/><path id="eLP" d="M1706.96,20 L1705.26,22 L1703.57,24 L1701.87,26 L1700.17,28 L1698.47,30 L1696.77,32 L1695.07,34 L1693.37,36 L1691.67,38 L1689.96,40 L1688.26,42 L1686.56,44 L1684.85,46 L1683.15,48 L1681.45,50 L1679.74,52 L1678.04,54 L1676.33,56 L1674.63,58 L1672.92,60 L1671.21,62 L1669.51,64 L1667.8,66 L1666.09,68 L1664.39,70 L1662.68,72 L1660.97,74 L1659.27,76 L1657.56,78 L1655.85,80 L1654.15,82 L1652.44,84 L1650.73,86 L1649.03,88 L1647.32,90 L1645.62,92 L1643.91,94 L1642.21,96 L1640.5,98 L1638.8,100 L1637.1,102 L1635.39,104 L1633.69,106 L1631.99,108 L1630.29,110 L1628.59,112 L1626.9,114 L1625.2,116 L1623.51,118 L1621.81,120 L1620.12,122 L1618.43,124 L1616.74,126 L1615.06,128 L1613.37,130 L1611.69,132 L1610.01,134 L1608.33,136 L1606.66,138 L1604.98,140 L1603.31,142 L1601.65,144 L1599.99,146 L1598.33,148 L1596.67,150 L1595.02,152 L1593.37,154 L1591.73,156 L1590.1,158 L1588.46,160 L1586.84,162 L1585.22,164 L1583.6,166 L1582,168 L1580.4,170 L1578.81,172 L1577.22,174 L1575.65,176 L1574.08,178 L1572.52,180 L1570.98,182 L1569.44,184 L1567.92,186 L1566.41,188 L1564.91,190 L1563.42,192 L1561.95,194 L1560.5,196 L1559.06,198 L1557.64,200 L1556.24,202 L1554.86,204 L1553.49,206 L1552.15,208 L1550.83,210 L1549.54,212 L1548.27,214 L1547.02,216 L1545.8,218 L1544.61,220 L1543.45,222 L1542.31,224 L1541.21,226 L1540.13,228 L1539.09,230 L1538.08,232 L1537.1,234 L1536.15,236 L1535.24,238 L1534.36,240 L1533.51,242 L1532.69,244 L1531.91,246 L1531.16,248 L1530.43,250 L1529.74,252 L1529.08,254 L1528.44,256 L1527.84,258 L1527.26,260 L1526.7,262 L1526.17,264 L1525.67,266 L1525.19,268 L1524.73,270 L1524.29,272 L1523.87,274 L1523.47,276 L1523.08,278 L1522.72,280 L1522.37,282 L1522.04,284 L1521.72,286 L1521.41,288 L1521.12,290 L1520.84,292 L1520.57,294 L1520.32,296 L1520.07,298 L1519.83,300 L1519.61,302 L1519.39,304 L1519.18,306 L1518.98,308 L1518.79,310 L1518.61,312 L1518.43,314 L1518.26,316 L1518.09,318 L1517.93,320 L1517.78,322 L1517.63,324 L1517.49,326 L1517.35,328 L1517.22,330 L1517.09,332 L1516.96,334 L1516.84,336 L1516.72,338 L1516.61,340 L1516.5,342 L1516.4,344 L1516.29,346 L1516.19,348 L1516.1,350 L1516,352 L1515.91,354 L1515.83,356 L1515.74,358 L1515.66,360 L1515.58,362 L1515.5,364 L1515.42,366 L1515.34,368 L1515.27,370 L1515.2,372 L1515.13,374 L1515.07,376 L1515,378 L1514.94,380 L1514.87,382 L1514.81,384 L1514.75,386 L1514.7,388 L1514.64,390 L1514.59,392 L1514.53,394 L1514.48,396 L1514.43,398 L1514.38,400 L1514.33,402 L1514.28,404 L1514.23,406 L1514.19,408 L1514.14,410 L1514.1,412 L1514.06,414 L1514.01,416 L1513.97,418 L1513.93,420 L1513.89,422 L1513.85,424 L1513.81,426 L1513.78,428 L1513.74,430 L1513.71,432 L1513.67,434 L1513.64,436 L1513.6,438 L1513.57,440 L1513.54,442 L1513.5,444 L1513.47,446 L1513.44,448 L1513.41,450 L1513.38,452 L1513.35,454 L1513.32,456 L1513.29,458"/><linearGradient id="lgmUP" gradientUnits="userSpaceOnUse" x1="0" y1="10.5" x2="0" y2="481.1"><stop offset="0.000" stop-color="#000000"/><stop offset="0.318" stop-color="#000000"/><stop offset="0.356" stop-color="#333333"/><stop offset="0.403" stop-color="#8c8c8c"/><stop offset="0.449" stop-color="#cccccc"/><stop offset="0.500" stop-color="#ffffff"/><stop offset="1.000" stop-color="#ffffff"/></linearGradient><mask id="mUP" maskUnits="userSpaceOnUse" x="1286.4" y="10.5" width="449.5999999999999" height="470.6"><rect x="1286.4" y="10.5" width="449.5999999999999" height="470.6" fill="url(#lgmUP)"/></mask><linearGradient id="lgmLP" gradientUnits="userSpaceOnUse" x1="0" y1="10.5" x2="0" y2="481.1"><stop offset="0.000" stop-color="#ffffff"/><stop offset="0.460" stop-color="#ffffff"/><stop offset="0.505" stop-color="#cccccc"/><stop offset="0.551" stop-color="#8c8c8c"/><stop offset="0.598" stop-color="#333333"/><stop offset="0.636" stop-color="#000000"/><stop offset="1.000" stop-color="#000000"/></linearGradient><mask id="mLP" maskUnits="userSpaceOnUse" x="1286.4" y="10.5" width="449.5999999999999" height="470.6"><rect x="1286.4" y="10.5" width="449.5999999999999" height="470.6" fill="url(#lgmLP)"/></mask><linearGradient id="lgmUPt" gradientUnits="userSpaceOnUse" x1="0" y1="10.5" x2="0" y2="481.1"><stop offset="0.000" stop-color="#333333"/><stop offset="0.318" stop-color="#404040"/><stop offset="0.403" stop-color="#999999"/><stop offset="0.449" stop-color="#d9d9d9"/><stop offset="0.500" stop-color="#ffffff"/><stop offset="1.000" stop-color="#ffffff"/></linearGradient><mask id="mUPt" maskUnits="userSpaceOnUse" x="1286.4" y="10.5" width="449.5999999999999" height="470.6"><rect x="1286.4" y="10.5" width="449.5999999999999" height="470.6" fill="url(#lgmUPt)"/></mask><linearGradient id="lgmLPt" gradientUnits="userSpaceOnUse" x1="0" y1="10.5" x2="0" y2="481.1"><stop offset="0.000" stop-color="#ffffff"/><stop offset="0.460" stop-color="#ffffff"/><stop offset="0.505" stop-color="#d9d9d9"/><stop offset="0.551" stop-color="#999999"/><stop offset="0.636" stop-color="#404040"/><stop offset="1.000" stop-color="#333333"/></linearGradient><mask id="mLPt" maskUnits="userSpaceOnUse" x="1286.4" y="10.5" width="449.5999999999999" height="470.6"><rect x="1286.4" y="10.5" width="449.5999999999999" height="470.6" fill="url(#lgmLPt)"/></mask><clipPath id="clipE"><rect x="1336.4" y="60.5" width="349.6" height="370.6"/></clipPath><filter id="bl17" filterUnits="userSpaceOnUse" x="1296.4" y="20.5" width="429.6" height="450.6" color-interpolation-filters="sRGB"><feGaussianBlur stdDeviation="8"/></filter><filter id="bl18" filterUnits="userSpaceOnUse" x="1296.4" y="20.5" width="429.6" height="450.6" color-interpolation-filters="sRGB"><feGaussianBlur stdDeviation="35"/></filter><filter id="bl19" filterUnits="userSpaceOnUse" x="1296.4" y="20.5" width="429.6" height="450.6" color-interpolation-filters="sRGB"><feGaussianBlur stdDeviation="9"/></filter><filter id="bl20" filterUnits="userSpaceOnUse" x="1296.4" y="20.5" width="429.6" height="450.6" color-interpolation-filters="sRGB"><feGaussianBlur stdDeviation="5"/></filter><filter id="bl21" filterUnits="userSpaceOnUse" x="1296.4" y="20.5" width="429.6" height="450.6" color-interpolation-filters="sRGB"><feGaussianBlur stdDeviation="1.0"/></filter><filter id="bl22" filterUnits="userSpaceOnUse" x="1296.4" y="20.5" width="429.6" height="450.6" color-interpolation-filters="sRGB"><feGaussianBlur stdDeviation="5"/></filter><filter id="bl23" filterUnits="userSpaceOnUse" x="1296.4" y="20.5" width="429.6" height="450.6" color-interpolation-filters="sRGB"><feGaussianBlur stdDeviation="1.0"/></filter><path id="eIN" d="M1553.3,404.68 L1693.4,247.92"/><clipPath id="clipEI"><rect x="1573.3" y="273.3" width="100.1" height="106"/></clipPath><filter id="bl24" filterUnits="userSpaceOnUse" x="1533.3" y="233.3" width="180.1" height="186" color-interpolation-filters="sRGB"><feGaussianBlur stdDeviation="2.5"/></filter><filter id="bl25" filterUnits="userSpaceOnUse" x="1533.3" y="233.3" width="180.1" height="186" color-interpolation-filters="sRGB"><feGaussianBlur stdDeviation="0.6"/></filter><linearGradient id="lgmBlo" gradientUnits="userSpaceOnUse" x1="1296.66" y1="1042.88" x2="1727.34" y2="625.12"><stop offset="0.000" stop-color="#8c8c8c"/><stop offset="0.133" stop-color="#cccccc"/><stop offset="0.267" stop-color="#ffffff"/><stop offset="0.417" stop-color="#ffffff"/><stop offset="0.470" stop-color="#666666"/><stop offset="0.503" stop-color="#000000"/><stop offset="1.000" stop-color="#000000"/></linearGradient><mask id="mBlo" maskUnits="userSpaceOnUse" x="1286.3" y="597.5" width="448.79999999999995" height="469.79999999999995"><rect x="1286.3" y="597.5" width="448.79999999999995" height="469.79999999999995" fill="url(#lgmBlo)"/></mask><linearGradient id="lgmBhi" gradientUnits="userSpaceOnUse" x1="1296.66" y1="1042.88" x2="1727.34" y2="625.12"><stop offset="0.000" stop-color="#000000"/><stop offset="0.497" stop-color="#000000"/><stop offset="0.530" stop-color="#666666"/><stop offset="0.583" stop-color="#ffffff"/><stop offset="0.733" stop-color="#ffffff"/><stop offset="0.850" stop-color="#cccccc"/><stop offset="1.000" stop-color="#999999"/></linearGradient><mask id="mBhi" maskUnits="userSpaceOnUse" x="1286.3" y="597.5" width="448.79999999999995" height="469.79999999999995"><rect x="1286.3" y="597.5" width="448.79999999999995" height="469.79999999999995" fill="url(#lgmBhi)"/></mask><linearGradient id="lgmHlo" gradientUnits="userSpaceOnUse" x1="1296.66" y1="1042.88" x2="1727.34" y2="625.12"><stop offset="0.000" stop-color="#ffffff"/><stop offset="0.458" stop-color="#ffffff"/><stop offset="0.500" stop-color="#666666"/><stop offset="0.533" stop-color="#000000"/><stop offset="1.000" stop-color="#000000"/></linearGradient><mask id="mHlo" maskUnits="userSpaceOnUse" x="1286.3" y="597.5" width="448.79999999999995" height="469.79999999999995"><rect x="1286.3" y="597.5" width="448.79999999999995" height="469.79999999999995" fill="url(#lgmHlo)"/></mask><linearGradient id="lgmRc" gradientUnits="userSpaceOnUse" x1="1296.66" y1="1042.88" x2="1727.34" y2="625.12"><stop offset="0.000" stop-color="#000000"/><stop offset="0.417" stop-color="#000000"/><stop offset="0.467" stop-color="#ffffff"/><stop offset="0.533" stop-color="#ffffff"/><stop offset="0.583" stop-color="#000000"/><stop offset="1.000" stop-color="#000000"/></linearGradient><mask id="mRc" maskUnits="userSpaceOnUse" x="1286.3" y="597.5" width="448.79999999999995" height="469.79999999999995"><rect x="1286.3" y="597.5" width="448.79999999999995" height="469.79999999999995" fill="url(#lgmRc)"/></mask><linearGradient id="lgmHhi" gradientUnits="userSpaceOnUse" x1="1296.66" y1="1042.88" x2="1727.34" y2="625.12"><stop offset="0.000" stop-color="#000000"/><stop offset="0.467" stop-color="#000000"/><stop offset="0.500" stop-color="#666666"/><stop offset="0.542" stop-color="#ffffff"/><stop offset="1.000" stop-color="#ffffff"/></linearGradient><mask id="mHhi" maskUnits="userSpaceOnUse" x="1286.3" y="597.5" width="448.79999999999995" height="469.79999999999995"><rect x="1286.3" y="597.5" width="448.79999999999995" height="469.79999999999995" fill="url(#lgmHhi)"/></mask><clipPath id="cpULlo"><path d="M1254.13,1093.48 L1256.13,1091.38 L1258.13,1089.29 L1260.13,1087.19 L1262.13,1085.09 L1264.13,1082.99 L1266.13,1080.9 L1268.13,1078.81 L1270.13,1076.71 L1272.13,1074.62 L1274.13,1072.53 L1276.13,1070.44 L1278.13,1068.35 L1280.13,1066.26 L1282.13,1064.18 L1284.14,1062.09 L1286.14,1060.01 L1288.14,1057.92 L1290.14,1055.84 L1292.14,1053.76 L1294.14,1051.68 L1296.14,1049.6 L1298.14,1047.52 L1300.14,1045.44 L1302.14,1043.36 L1304.14,1041.29 L1306.14,1039.21 L1308.14,1037.14 L1310.14,1035.06 L1312.14,1032.99 L1314.14,1030.92 L1316.14,1028.85 L1318.14,1026.78 L1320.14,1024.71 L1322.14,1022.65 L1324.14,1020.58 L1326.15,1018.51 L1328.15,1016.45 L1330.15,1014.39 L1332.15,1012.33 L1334.15,1010.26 L1336.15,1008.2 L1338.15,1006.14 L1340.15,1004.09 L1342.15,1002.03 L1344.15,999.97 L1346.15,997.92 L1348.15,995.86 L1350.15,993.81 L1352.15,991.76 L1354.15,989.71 L1356.15,987.66 L1358.15,985.61 L1360.15,983.56 L1362.15,981.51 L1364.15,979.46 L1366.16,977.42 L1368.16,975.37 L1370.16,973.33 L1372.16,971.29 L1374.16,969.25 L1376.16,967.21 L1378.16,965.17 L1380.16,963.13 L1382.16,961.09 L1384.16,959.05 L1386.16,957.02 L1388.16,954.98 L1390.16,952.95 L1392.16,950.92 L1394.16,948.88 L1396.16,946.85 L1398.16,944.82 L1400.16,942.8 L1402.16,940.77 L1404.17,938.74 L1406.17,936.72 L1408.17,934.69 L1410.17,932.67 L1412.17,930.64 L1414.17,928.62 L1416.17,926.6 L1418.17,924.58 L1420.17,922.56 L1422.17,920.55 L1424.17,918.53 L1426.17,916.51 L1428.17,914.5 L1430.17,912.48 L1432.17,910.47 L1434.17,908.46 L1436.17,906.45 L1438.17,904.44 L1440.17,902.43 L1442.18,900.42 L1444.18,898.41 L1446.18,896.41 L1448.18,894.4 L1450.18,892.4 L1452.18,890.4 L1454.18,888.39 L1456.18,886.39 L1458.18,884.39 L1460.18,882.39 L1462.18,880.4 L1464.18,878.4 L1466.18,876.4 L1468.18,874.41 L1470.18,872.41 L1472.18,870.42 L1474.18,868.43 L1476.18,866.44 L1478.18,864.45 L1480.18,862.46 L1482.19,860.47 L1484.19,858.48 L1486.19,856.5 L1488.19,854.51 L1490.19,852.53 L1492.19,850.54 L1494.19,848.56 L1496.19,846.58 L1498.19,844.6 L1500.19,842.62 L1502.19,840.64 L1504.19,838.66 L1506.19,836.69 L1508.19,834.71 L1510.19,832.74 L1512.19,830.76 L1514.19,828.79 L1516.19,826.82 L1518.2,824.85 L1520.2,822.88 L1522.2,820.91 L1524.2,818.94 L1526.2,816.98 L1528.2,815.01 L1530.2,813.05 L1532.2,811.08 L1534.2,809.12 L1536.2,807.16 L1538.2,805.2 L1540.2,803.24 L1542.2,801.28 L1544.2,799.32 L1546.2,797.37 L1548.2,795.41 L1550.2,793.46 L1552.2,791.5 L1554.2,789.55 L1556.21,787.6 L1558.21,785.65 L1560.21,783.7 L1562.21,781.75 L1564.21,779.8 L1566.21,777.85 L1568.21,775.91 L1570.21,773.96 L1572.21,772.02 L1574.21,770.08 L1576.21,768.14 L1578.21,766.19 L1580.21,764.25 L1582.21,762.32 L1584.21,760.38 L1586.21,758.44 L1588.21,756.5 L1590.21,754.57 L1592.22,752.64 L1594.22,750.7 L1596.22,748.77 L1598.22,746.84 L1600.22,744.91 L1602.22,742.98 L1604.22,741.05 L1606.22,739.13 L1608.22,737.2 L1610.22,735.27 L1612.22,733.35 L1614.22,731.43 L1616.22,729.51 L1618.22,727.58 L1620.22,725.66 L1622.22,723.74 L1624.22,721.83 L1626.22,719.91 L1628.23,717.99 L1630.23,716.08 L1632.23,714.16 L1634.23,712.25 L1636.23,710.34 L1638.23,708.43 L1640.23,706.52 L1642.23,704.61 L1644.23,702.7 L1646.23,700.79 L1648.23,698.89 L1650.23,696.98 L1652.23,695.08 L1654.23,693.17 L1656.23,691.27 L1658.23,689.37 L1660.23,687.47 L1662.23,685.57 L1664.24,683.67 L1666.24,681.77 L1668.24,679.88 L1670.24,677.98 L1672.24,676.09 L1674.24,674.19 L1676.24,672.3 L1678.24,670.41 L1680.24,668.52 L1682.24,666.63 L1684.24,664.74 L1686.24,662.85 L1688.24,660.97 L1690.24,659.08 L1692.24,657.2 L1694.24,655.31 L1696.24,653.43 L1698.24,651.55 L1700.25,649.67 L1702.25,647.79 L1704.25,645.91 L1706.25,644.03 L1708.25,642.15 L1710.25,640.28 L1712.25,638.4 L1714.25,636.53 L1716.25,634.66 L1718.25,632.79 L1720.25,630.91 L1722.25,629.04 L1724.25,627.18 L1726.25,625.31 L1728.25,623.44 L1730.25,621.58 L1732.25,619.71 L1734.26,617.85 L1736.26,615.98 L1738.26,614.12 L1740.26,612.26 L1742.26,610.4 L1744.26,608.54 L1746.26,606.68 L1748.26,604.83 L1750.26,602.97 L1752.26,601.12 L1754.26,599.26 L1756.26,597.41 L1758.26,595.56 L1760.26,593.71 L1762.26,591.86 L2062.26,291.86 L954.13,793.48Z"/></clipPath><clipPath id="cpLRlo"><path d="M1254.13,1093.48 L1256.13,1091.38 L1258.13,1089.29 L1260.13,1087.19 L1262.13,1085.09 L1264.13,1082.99 L1266.13,1080.9 L1268.13,1078.81 L1270.13,1076.71 L1272.13,1074.62 L1274.13,1072.53 L1276.13,1070.44 L1278.13,1068.35 L1280.13,1066.26 L1282.13,1064.18 L1284.14,1062.09 L1286.14,1060.01 L1288.14,1057.92 L1290.14,1055.84 L1292.14,1053.76 L1294.14,1051.68 L1296.14,1049.6 L1298.14,1047.52 L1300.14,1045.44 L1302.14,1043.36 L1304.14,1041.29 L1306.14,1039.21 L1308.14,1037.14 L1310.14,1035.06 L1312.14,1032.99 L1314.14,1030.92 L1316.14,1028.85 L1318.14,1026.78 L1320.14,1024.71 L1322.14,1022.65 L1324.14,1020.58 L1326.15,1018.51 L1328.15,1016.45 L1330.15,1014.39 L1332.15,1012.33 L1334.15,1010.26 L1336.15,1008.2 L1338.15,1006.14 L1340.15,1004.09 L1342.15,1002.03 L1344.15,999.97 L1346.15,997.92 L1348.15,995.86 L1350.15,993.81 L1352.15,991.76 L1354.15,989.71 L1356.15,987.66 L1358.15,985.61 L1360.15,983.56 L1362.15,981.51 L1364.15,979.46 L1366.16,977.42 L1368.16,975.37 L1370.16,973.33 L1372.16,971.29 L1374.16,969.25 L1376.16,967.21 L1378.16,965.17 L1380.16,963.13 L1382.16,961.09 L1384.16,959.05 L1386.16,957.02 L1388.16,954.98 L1390.16,952.95 L1392.16,950.92 L1394.16,948.88 L1396.16,946.85 L1398.16,944.82 L1400.16,942.8 L1402.16,940.77 L1404.17,938.74 L1406.17,936.72 L1408.17,934.69 L1410.17,932.67 L1412.17,930.64 L1414.17,928.62 L1416.17,926.6 L1418.17,924.58 L1420.17,922.56 L1422.17,920.55 L1424.17,918.53 L1426.17,916.51 L1428.17,914.5 L1430.17,912.48 L1432.17,910.47 L1434.17,908.46 L1436.17,906.45 L1438.17,904.44 L1440.17,902.43 L1442.18,900.42 L1444.18,898.41 L1446.18,896.41 L1448.18,894.4 L1450.18,892.4 L1452.18,890.4 L1454.18,888.39 L1456.18,886.39 L1458.18,884.39 L1460.18,882.39 L1462.18,880.4 L1464.18,878.4 L1466.18,876.4 L1468.18,874.41 L1470.18,872.41 L1472.18,870.42 L1474.18,868.43 L1476.18,866.44 L1478.18,864.45 L1480.18,862.46 L1482.19,860.47 L1484.19,858.48 L1486.19,856.5 L1488.19,854.51 L1490.19,852.53 L1492.19,850.54 L1494.19,848.56 L1496.19,846.58 L1498.19,844.6 L1500.19,842.62 L1502.19,840.64 L1504.19,838.66 L1506.19,836.69 L1508.19,834.71 L1510.19,832.74 L1512.19,830.76 L1514.19,828.79 L1516.19,826.82 L1518.2,824.85 L1520.2,822.88 L1522.2,820.91 L1524.2,818.94 L1526.2,816.98 L1528.2,815.01 L1530.2,813.05 L1532.2,811.08 L1534.2,809.12 L1536.2,807.16 L1538.2,805.2 L1540.2,803.24 L1542.2,801.28 L1544.2,799.32 L1546.2,797.37 L1548.2,795.41 L1550.2,793.46 L1552.2,791.5 L1554.2,789.55 L1556.21,787.6 L1558.21,785.65 L1560.21,783.7 L1562.21,781.75 L1564.21,779.8 L1566.21,777.85 L1568.21,775.91 L1570.21,773.96 L1572.21,772.02 L1574.21,770.08 L1576.21,768.14 L1578.21,766.19 L1580.21,764.25 L1582.21,762.32 L1584.21,760.38 L1586.21,758.44 L1588.21,756.5 L1590.21,754.57 L1592.22,752.64 L1594.22,750.7 L1596.22,748.77 L1598.22,746.84 L1600.22,744.91 L1602.22,742.98 L1604.22,741.05 L1606.22,739.13 L1608.22,737.2 L1610.22,735.27 L1612.22,733.35 L1614.22,731.43 L1616.22,729.51 L1618.22,727.58 L1620.22,725.66 L1622.22,723.74 L1624.22,721.83 L1626.22,719.91 L1628.23,717.99 L1630.23,716.08 L1632.23,714.16 L1634.23,712.25 L1636.23,710.34 L1638.23,708.43 L1640.23,706.52 L1642.23,704.61 L1644.23,702.7 L1646.23,700.79 L1648.23,698.89 L1650.23,696.98 L1652.23,695.08 L1654.23,693.17 L1656.23,691.27 L1658.23,689.37 L1660.23,687.47 L1662.23,685.57 L1664.24,683.67 L1666.24,681.77 L1668.24,679.88 L1670.24,677.98 L1672.24,676.09 L1674.24,674.19 L1676.24,672.3 L1678.24,670.41 L1680.24,668.52 L1682.24,666.63 L1684.24,664.74 L1686.24,662.85 L1688.24,660.97 L1690.24,659.08 L1692.24,657.2 L1694.24,655.31 L1696.24,653.43 L1698.24,651.55 L1700.25,649.67 L1702.25,647.79 L1704.25,645.91 L1706.25,644.03 L1708.25,642.15 L1710.25,640.28 L1712.25,638.4 L1714.25,636.53 L1716.25,634.66 L1718.25,632.79 L1720.25,630.91 L1722.25,629.04 L1724.25,627.18 L1726.25,625.31 L1728.25,623.44 L1730.25,621.58 L1732.25,619.71 L1734.26,617.85 L1736.26,615.98 L1738.26,614.12 L1740.26,612.26 L1742.26,610.4 L1744.26,608.54 L1746.26,606.68 L1748.26,604.83 L1750.26,602.97 L1752.26,601.12 L1754.26,599.26 L1756.26,597.41 L1758.26,595.56 L1760.26,593.71 L1762.26,591.86 L2062.26,891.86 L954.13,1393.48Z"/></clipPath><clipPath id="cpLRhi"><path d="M1259.92,1099 L1261.92,1096.9 L1263.92,1094.81 L1265.92,1092.71 L1267.92,1090.61 L1269.92,1088.52 L1271.92,1086.43 L1273.91,1084.33 L1275.91,1082.24 L1277.91,1080.15 L1279.91,1078.06 L1281.91,1075.97 L1283.91,1073.89 L1285.91,1071.8 L1287.91,1069.71 L1289.91,1067.63 L1291.91,1065.55 L1293.91,1063.46 L1295.91,1061.38 L1297.9,1059.3 L1299.9,1057.22 L1301.9,1055.14 L1303.9,1053.07 L1305.9,1050.99 L1307.9,1048.91 L1309.9,1046.84 L1311.9,1044.76 L1313.9,1042.69 L1315.9,1040.62 L1317.9,1038.55 L1319.9,1036.48 L1321.9,1034.41 L1323.89,1032.34 L1325.89,1030.28 L1327.89,1028.21 L1329.89,1026.15 L1331.89,1024.08 L1333.89,1022.02 L1335.89,1019.96 L1337.89,1017.9 L1339.89,1015.84 L1341.89,1013.78 L1343.89,1011.72 L1345.89,1009.66 L1347.88,1007.61 L1349.88,1005.55 L1351.88,1003.5 L1353.88,1001.44 L1355.88,999.39 L1357.88,997.34 L1359.88,995.29 L1361.88,993.24 L1363.88,991.19 L1365.88,989.15 L1367.88,987.1 L1369.88,985.06 L1371.87,983.01 L1373.87,980.97 L1375.87,978.93 L1377.87,976.89 L1379.87,974.85 L1381.87,972.81 L1383.87,970.77 L1385.87,968.73 L1387.87,966.7 L1389.87,964.66 L1391.87,962.63 L1393.86,960.59 L1395.86,958.56 L1397.86,956.53 L1399.86,954.5 L1401.86,952.47 L1403.86,950.44 L1405.86,948.41 L1407.86,946.39 L1409.86,944.36 L1411.86,942.34 L1413.86,940.31 L1415.86,938.29 L1417.85,936.27 L1419.85,934.25 L1421.85,932.23 L1423.85,930.21 L1425.85,928.2 L1427.85,926.18 L1429.85,924.16 L1431.85,922.15 L1433.85,920.14 L1435.85,918.12 L1437.85,916.11 L1439.85,914.1 L1441.84,912.09 L1443.84,910.08 L1445.84,908.07 L1447.84,906.07 L1449.84,904.06 L1451.84,902.06 L1453.84,900.05 L1455.84,898.05 L1457.84,896.05 L1459.84,894.05 L1461.84,892.05 L1463.83,890.05 L1465.83,888.05 L1467.83,886.06 L1469.83,884.06 L1471.83,882.07 L1473.83,880.07 L1475.83,878.08 L1477.83,876.09 L1479.83,874.1 L1481.83,872.11 L1483.83,870.12 L1485.83,868.13 L1487.82,866.14 L1489.82,864.16 L1491.82,862.17 L1493.82,860.19 L1495.82,858.21 L1497.82,856.22 L1499.82,854.24 L1501.82,852.26 L1503.82,850.28 L1505.82,848.31 L1507.82,846.33 L1509.81,844.35 L1511.81,842.38 L1513.81,840.41 L1515.81,838.43 L1517.81,836.46 L1519.81,834.49 L1521.81,832.52 L1523.81,830.55 L1525.81,828.58 L1527.81,826.61 L1529.81,824.65 L1531.8,822.68 L1533.8,820.72 L1535.8,818.76 L1537.8,816.79 L1539.8,814.83 L1541.8,812.87 L1543.8,810.91 L1545.8,808.96 L1547.8,807 L1549.8,805.04 L1551.8,803.09 L1553.79,801.13 L1555.79,799.18 L1557.79,797.23 L1559.79,795.28 L1561.79,793.33 L1563.79,791.38 L1565.79,789.43 L1567.79,787.48 L1569.79,785.53 L1571.79,783.59 L1573.79,781.64 L1575.78,779.7 L1577.78,777.76 L1579.78,775.82 L1581.78,773.88 L1583.78,771.94 L1585.78,770 L1587.78,768.06 L1589.78,766.12 L1591.78,764.19 L1593.78,762.25 L1595.78,760.32 L1597.77,758.39 L1599.77,756.46 L1601.77,754.53 L1603.77,752.6 L1605.77,750.67 L1607.77,748.74 L1609.77,746.81 L1611.77,744.89 L1613.77,742.96 L1615.77,741.04 L1617.77,739.12 L1619.76,737.2 L1621.76,735.27 L1623.76,733.36 L1625.76,731.44 L1627.76,729.52 L1629.76,727.6 L1631.76,725.69 L1633.76,723.77 L1635.76,721.86 L1637.76,719.94 L1639.76,718.03 L1641.75,716.12 L1643.75,714.21 L1645.75,712.3 L1647.75,710.4 L1649.75,708.49 L1651.75,706.58 L1653.75,704.68 L1655.75,702.77 L1657.75,700.87 L1659.75,698.97 L1661.75,697.07 L1663.74,695.17 L1665.74,693.27 L1667.74,691.37 L1669.74,689.47 L1671.74,687.58 L1673.74,685.68 L1675.74,683.79 L1677.74,681.9 L1679.74,680 L1681.74,678.11 L1683.73,676.22 L1685.73,674.33 L1687.73,672.45 L1689.73,670.56 L1691.73,668.67 L1693.73,666.79 L1695.73,664.9 L1697.73,663.02 L1699.73,661.14 L1701.73,659.26 L1703.73,657.38 L1705.72,655.5 L1707.72,653.62 L1709.72,651.74 L1711.72,649.86 L1713.72,647.99 L1715.72,646.12 L1717.72,644.24 L1719.72,642.37 L1721.72,640.5 L1723.72,638.63 L1725.71,636.76 L1727.71,634.89 L1729.71,633.02 L1731.71,631.16 L1733.71,629.29 L1735.71,627.43 L1737.71,625.56 L1739.71,623.7 L1741.71,621.84 L1743.71,619.98 L1745.7,618.12 L1747.7,616.26 L1749.7,614.4 L1751.7,612.55 L1753.7,610.69 L1755.7,608.84 L1757.7,606.98 L1759.7,605.13 L1761.7,603.28 L1763.7,601.43 L1765.7,599.58 L1767.69,597.73 L2067.69,897.73 L959.92,1399Z"/></clipPath><clipPath id="cpULhi"><path d="M1259.92,1099 L1261.92,1096.9 L1263.92,1094.81 L1265.92,1092.71 L1267.92,1090.61 L1269.92,1088.52 L1271.92,1086.43 L1273.91,1084.33 L1275.91,1082.24 L1277.91,1080.15 L1279.91,1078.06 L1281.91,1075.97 L1283.91,1073.89 L1285.91,1071.8 L1287.91,1069.71 L1289.91,1067.63 L1291.91,1065.55 L1293.91,1063.46 L1295.91,1061.38 L1297.9,1059.3 L1299.9,1057.22 L1301.9,1055.14 L1303.9,1053.07 L1305.9,1050.99 L1307.9,1048.91 L1309.9,1046.84 L1311.9,1044.76 L1313.9,1042.69 L1315.9,1040.62 L1317.9,1038.55 L1319.9,1036.48 L1321.9,1034.41 L1323.89,1032.34 L1325.89,1030.28 L1327.89,1028.21 L1329.89,1026.15 L1331.89,1024.08 L1333.89,1022.02 L1335.89,1019.96 L1337.89,1017.9 L1339.89,1015.84 L1341.89,1013.78 L1343.89,1011.72 L1345.89,1009.66 L1347.88,1007.61 L1349.88,1005.55 L1351.88,1003.5 L1353.88,1001.44 L1355.88,999.39 L1357.88,997.34 L1359.88,995.29 L1361.88,993.24 L1363.88,991.19 L1365.88,989.15 L1367.88,987.1 L1369.88,985.06 L1371.87,983.01 L1373.87,980.97 L1375.87,978.93 L1377.87,976.89 L1379.87,974.85 L1381.87,972.81 L1383.87,970.77 L1385.87,968.73 L1387.87,966.7 L1389.87,964.66 L1391.87,962.63 L1393.86,960.59 L1395.86,958.56 L1397.86,956.53 L1399.86,954.5 L1401.86,952.47 L1403.86,950.44 L1405.86,948.41 L1407.86,946.39 L1409.86,944.36 L1411.86,942.34 L1413.86,940.31 L1415.86,938.29 L1417.85,936.27 L1419.85,934.25 L1421.85,932.23 L1423.85,930.21 L1425.85,928.2 L1427.85,926.18 L1429.85,924.16 L1431.85,922.15 L1433.85,920.14 L1435.85,918.12 L1437.85,916.11 L1439.85,914.1 L1441.84,912.09 L1443.84,910.08 L1445.84,908.07 L1447.84,906.07 L1449.84,904.06 L1451.84,902.06 L1453.84,900.05 L1455.84,898.05 L1457.84,896.05 L1459.84,894.05 L1461.84,892.05 L1463.83,890.05 L1465.83,888.05 L1467.83,886.06 L1469.83,884.06 L1471.83,882.07 L1473.83,880.07 L1475.83,878.08 L1477.83,876.09 L1479.83,874.1 L1481.83,872.11 L1483.83,870.12 L1485.83,868.13 L1487.82,866.14 L1489.82,864.16 L1491.82,862.17 L1493.82,860.19 L1495.82,858.21 L1497.82,856.22 L1499.82,854.24 L1501.82,852.26 L1503.82,850.28 L1505.82,848.31 L1507.82,846.33 L1509.81,844.35 L1511.81,842.38 L1513.81,840.41 L1515.81,838.43 L1517.81,836.46 L1519.81,834.49 L1521.81,832.52 L1523.81,830.55 L1525.81,828.58 L1527.81,826.61 L1529.81,824.65 L1531.8,822.68 L1533.8,820.72 L1535.8,818.76 L1537.8,816.79 L1539.8,814.83 L1541.8,812.87 L1543.8,810.91 L1545.8,808.96 L1547.8,807 L1549.8,805.04 L1551.8,803.09 L1553.79,801.13 L1555.79,799.18 L1557.79,797.23 L1559.79,795.28 L1561.79,793.33 L1563.79,791.38 L1565.79,789.43 L1567.79,787.48 L1569.79,785.53 L1571.79,783.59 L1573.79,781.64 L1575.78,779.7 L1577.78,777.76 L1579.78,775.82 L1581.78,773.88 L1583.78,771.94 L1585.78,770 L1587.78,768.06 L1589.78,766.12 L1591.78,764.19 L1593.78,762.25 L1595.78,760.32 L1597.77,758.39 L1599.77,756.46 L1601.77,754.53 L1603.77,752.6 L1605.77,750.67 L1607.77,748.74 L1609.77,746.81 L1611.77,744.89 L1613.77,742.96 L1615.77,741.04 L1617.77,739.12 L1619.76,737.2 L1621.76,735.27 L1623.76,733.36 L1625.76,731.44 L1627.76,729.52 L1629.76,727.6 L1631.76,725.69 L1633.76,723.77 L1635.76,721.86 L1637.76,719.94 L1639.76,718.03 L1641.75,716.12 L1643.75,714.21 L1645.75,712.3 L1647.75,710.4 L1649.75,708.49 L1651.75,706.58 L1653.75,704.68 L1655.75,702.77 L1657.75,700.87 L1659.75,698.97 L1661.75,697.07 L1663.74,695.17 L1665.74,693.27 L1667.74,691.37 L1669.74,689.47 L1671.74,687.58 L1673.74,685.68 L1675.74,683.79 L1677.74,681.9 L1679.74,680 L1681.74,678.11 L1683.73,676.22 L1685.73,674.33 L1687.73,672.45 L1689.73,670.56 L1691.73,668.67 L1693.73,666.79 L1695.73,664.9 L1697.73,663.02 L1699.73,661.14 L1701.73,659.26 L1703.73,657.38 L1705.72,655.5 L1707.72,653.62 L1709.72,651.74 L1711.72,649.86 L1713.72,647.99 L1715.72,646.12 L1717.72,644.24 L1719.72,642.37 L1721.72,640.5 L1723.72,638.63 L1725.71,636.76 L1727.71,634.89 L1729.71,633.02 L1731.71,631.16 L1733.71,629.29 L1735.71,627.43 L1737.71,625.56 L1739.71,623.7 L1741.71,621.84 L1743.71,619.98 L1745.7,618.12 L1747.7,616.26 L1749.7,614.4 L1751.7,612.55 L1753.7,610.69 L1755.7,608.84 L1757.7,606.98 L1759.7,605.13 L1761.7,603.28 L1763.7,601.43 L1765.7,599.58 L1767.69,597.73 L2067.69,297.73 L959.92,799Z"/></clipPath><path id="fR" d="M1256.3,1095.55 L1258.3,1093.45 L1260.3,1091.36 L1262.3,1089.26 L1264.3,1087.16 L1266.3,1085.07 L1268.3,1082.97 L1270.3,1080.88 L1272.3,1078.79 L1274.3,1076.7 L1276.3,1074.61 L1278.3,1072.52 L1280.3,1070.43 L1282.3,1068.34 L1284.3,1066.25 L1286.3,1064.17 L1288.3,1062.08 L1290.3,1060 L1292.3,1057.92 L1294.3,1055.84 L1296.3,1053.76 L1298.3,1051.68 L1300.3,1049.6 L1302.3,1047.52 L1304.3,1045.44 L1306.3,1043.37 L1308.3,1041.29 L1310.3,1039.22 L1312.3,1037.15 L1314.3,1035.08 L1316.3,1033.01 L1318.3,1030.94 L1320.3,1028.87 L1322.3,1026.8 L1324.3,1024.73 L1326.3,1022.67 L1328.3,1020.6 L1330.3,1018.54 L1332.3,1016.48 L1334.3,1014.41 L1336.3,1012.35 L1338.3,1010.29 L1340.3,1008.23 L1342.3,1006.18 L1344.3,1004.12 L1346.3,1002.06 L1348.3,1000.01 L1350.3,997.96 L1352.3,995.9 L1354.3,993.85 L1356.3,991.8 L1358.3,989.75 L1360.3,987.7 L1362.3,985.65 L1364.3,983.61 L1366.3,981.56 L1368.3,979.52 L1370.3,977.47 L1372.3,975.43 L1374.3,973.39 L1376.3,971.35 L1378.3,969.31 L1380.3,967.27 L1382.3,965.23 L1384.3,963.19 L1386.3,961.16 L1388.3,959.12 L1390.3,957.09 L1392.3,955.05 L1394.3,953.02 L1396.3,950.99 L1398.3,948.96 L1400.3,946.93 L1402.3,944.9 L1404.3,942.88 L1406.3,940.85 L1408.3,938.82 L1410.3,936.8 L1412.3,934.78 L1414.3,932.75 L1416.3,930.73 L1418.3,928.71 L1420.3,926.69 L1422.3,924.68 L1424.3,922.66 L1426.3,920.64 L1428.3,918.63 L1430.3,916.61 L1432.3,914.6 L1434.3,912.59 L1436.3,910.57 L1438.3,908.56 L1440.3,906.55 L1442.3,904.55 L1444.3,902.54 L1446.3,900.53 L1448.3,898.53 L1450.3,896.52 L1452.3,894.52 L1454.3,892.52 L1456.3,890.51 L1458.3,888.51 L1460.3,886.51 L1462.3,884.52 L1464.3,882.52 L1466.3,880.52 L1468.3,878.53 L1470.3,876.53 L1472.3,874.54 L1474.3,872.55 L1476.3,870.55 L1478.3,868.56 L1480.3,866.57 L1482.3,864.58 L1484.3,862.6 L1486.3,860.61 L1488.3,858.62 L1490.3,856.64 L1492.3,854.66 L1494.3,852.67 L1496.3,850.69 L1498.3,848.71 L1500.3,846.73 L1502.3,844.75 L1504.3,842.77 L1506.3,840.8 L1508.3,838.82 L1510.3,836.85 L1512.3,834.87 L1514.3,832.9 L1516.3,830.93 L1518.3,828.96 L1520.3,826.99 L1522.3,825.02 L1524.3,823.05 L1526.3,821.08 L1528.3,819.12 L1530.3,817.15 L1532.3,815.19 L1534.3,813.23 L1536.3,811.26 L1538.3,809.3 L1540.3,807.34 L1542.3,805.38 L1544.3,803.42 L1546.3,801.47 L1548.3,799.51 L1550.3,797.56 L1552.3,795.6 L1554.3,793.65 L1556.3,791.7 L1558.3,789.75 L1560.3,787.8 L1562.3,785.85 L1564.3,783.9 L1566.3,781.95 L1568.3,780 L1570.3,778.06 L1572.3,776.11 L1574.3,774.17 L1576.3,772.23 L1578.3,770.29 L1580.3,768.35 L1582.3,766.41 L1584.3,764.47 L1586.3,762.53 L1588.3,760.6 L1590.3,758.66 L1592.3,756.73 L1594.3,754.79 L1596.3,752.86 L1598.3,750.93 L1600.3,749 L1602.3,747.07 L1604.3,745.14 L1606.3,743.21 L1608.3,741.29 L1610.3,739.36 L1612.3,737.44 L1614.3,735.51 L1616.3,733.59 L1618.3,731.67 L1620.3,729.75 L1622.3,727.83 L1624.3,725.91 L1626.3,723.99 L1628.3,722.08 L1630.3,720.16 L1632.3,718.25 L1634.3,716.33 L1636.3,714.42 L1638.3,712.51 L1640.3,710.6 L1642.3,708.69 L1644.3,706.78 L1646.3,704.87 L1648.3,702.96 L1650.3,701.06 L1652.3,699.15 L1654.3,697.25 L1656.3,695.35 L1658.3,693.44 L1660.3,691.54 L1662.3,689.64 L1664.3,687.74 L1666.3,685.85 L1668.3,683.95 L1670.3,682.05 L1672.3,680.16 L1674.3,678.26 L1676.3,676.37 L1678.3,674.48 L1680.3,672.59 L1682.3,670.7 L1684.3,668.81 L1686.3,666.92 L1688.3,665.03 L1690.3,663.15 L1692.3,661.26 L1694.3,659.38 L1696.3,657.5 L1698.3,655.61 L1700.3,653.73 L1702.3,651.85 L1704.3,649.97 L1706.3,648.1 L1708.3,646.22 L1710.3,644.34 L1712.3,642.47 L1714.3,640.59 L1716.3,638.72 L1718.3,636.85 L1720.3,634.98 L1722.3,633.11 L1724.3,631.24 L1726.3,629.37 L1728.3,627.5 L1730.3,625.63 L1732.3,623.77 L1734.3,621.91 L1736.3,620.04 L1738.3,618.18 L1740.3,616.32 L1742.3,614.46 L1744.3,612.6 L1746.3,610.74 L1748.3,608.88 L1750.3,607.03 L1752.3,605.17 L1754.3,603.32 L1756.3,601.46 L1758.3,599.61 L1760.3,597.76 L1762.3,595.91 L1764.3,594.06"/><path id="fH1" d="M1254.13,1093.48 L1256.13,1091.38 L1258.13,1089.29 L1260.13,1087.19 L1262.13,1085.09 L1264.13,1082.99 L1266.13,1080.9 L1268.13,1078.81 L1270.13,1076.71 L1272.13,1074.62 L1274.13,1072.53 L1276.13,1070.44 L1278.13,1068.35 L1280.13,1066.26 L1282.13,1064.18 L1284.14,1062.09 L1286.14,1060.01 L1288.14,1057.92 L1290.14,1055.84 L1292.14,1053.76 L1294.14,1051.68 L1296.14,1049.6 L1298.14,1047.52 L1300.14,1045.44 L1302.14,1043.36 L1304.14,1041.29 L1306.14,1039.21 L1308.14,1037.14 L1310.14,1035.06 L1312.14,1032.99 L1314.14,1030.92 L1316.14,1028.85 L1318.14,1026.78 L1320.14,1024.71 L1322.14,1022.65 L1324.14,1020.58 L1326.15,1018.51 L1328.15,1016.45 L1330.15,1014.39 L1332.15,1012.33 L1334.15,1010.26 L1336.15,1008.2 L1338.15,1006.14 L1340.15,1004.09 L1342.15,1002.03 L1344.15,999.97 L1346.15,997.92 L1348.15,995.86 L1350.15,993.81 L1352.15,991.76 L1354.15,989.71 L1356.15,987.66 L1358.15,985.61 L1360.15,983.56 L1362.15,981.51 L1364.15,979.46 L1366.16,977.42 L1368.16,975.37 L1370.16,973.33 L1372.16,971.29 L1374.16,969.25 L1376.16,967.21 L1378.16,965.17 L1380.16,963.13 L1382.16,961.09 L1384.16,959.05 L1386.16,957.02 L1388.16,954.98 L1390.16,952.95 L1392.16,950.92 L1394.16,948.88 L1396.16,946.85 L1398.16,944.82 L1400.16,942.8 L1402.16,940.77 L1404.17,938.74 L1406.17,936.72 L1408.17,934.69 L1410.17,932.67 L1412.17,930.64 L1414.17,928.62 L1416.17,926.6 L1418.17,924.58 L1420.17,922.56 L1422.17,920.55 L1424.17,918.53 L1426.17,916.51 L1428.17,914.5 L1430.17,912.48 L1432.17,910.47 L1434.17,908.46 L1436.17,906.45 L1438.17,904.44 L1440.17,902.43 L1442.18,900.42 L1444.18,898.41 L1446.18,896.41 L1448.18,894.4 L1450.18,892.4 L1452.18,890.4 L1454.18,888.39 L1456.18,886.39 L1458.18,884.39 L1460.18,882.39 L1462.18,880.4 L1464.18,878.4 L1466.18,876.4 L1468.18,874.41 L1470.18,872.41 L1472.18,870.42 L1474.18,868.43 L1476.18,866.44 L1478.18,864.45 L1480.18,862.46 L1482.19,860.47 L1484.19,858.48 L1486.19,856.5 L1488.19,854.51 L1490.19,852.53 L1492.19,850.54 L1494.19,848.56 L1496.19,846.58 L1498.19,844.6 L1500.19,842.62 L1502.19,840.64 L1504.19,838.66 L1506.19,836.69 L1508.19,834.71 L1510.19,832.74 L1512.19,830.76 L1514.19,828.79 L1516.19,826.82 L1518.2,824.85 L1520.2,822.88 L1522.2,820.91 L1524.2,818.94 L1526.2,816.98 L1528.2,815.01 L1530.2,813.05 L1532.2,811.08 L1534.2,809.12 L1536.2,807.16 L1538.2,805.2 L1540.2,803.24 L1542.2,801.28 L1544.2,799.32 L1546.2,797.37 L1548.2,795.41 L1550.2,793.46 L1552.2,791.5 L1554.2,789.55 L1556.21,787.6 L1558.21,785.65 L1560.21,783.7 L1562.21,781.75 L1564.21,779.8 L1566.21,777.85 L1568.21,775.91 L1570.21,773.96 L1572.21,772.02 L1574.21,770.08 L1576.21,768.14 L1578.21,766.19 L1580.21,764.25 L1582.21,762.32 L1584.21,760.38 L1586.21,758.44 L1588.21,756.5 L1590.21,754.57 L1592.22,752.64 L1594.22,750.7 L1596.22,748.77 L1598.22,746.84 L1600.22,744.91 L1602.22,742.98 L1604.22,741.05 L1606.22,739.13 L1608.22,737.2 L1610.22,735.27 L1612.22,733.35 L1614.22,731.43 L1616.22,729.51 L1618.22,727.58 L1620.22,725.66 L1622.22,723.74 L1624.22,721.83 L1626.22,719.91 L1628.23,717.99 L1630.23,716.08 L1632.23,714.16 L1634.23,712.25 L1636.23,710.34 L1638.23,708.43 L1640.23,706.52 L1642.23,704.61 L1644.23,702.7 L1646.23,700.79 L1648.23,698.89 L1650.23,696.98 L1652.23,695.08 L1654.23,693.17 L1656.23,691.27 L1658.23,689.37 L1660.23,687.47 L1662.23,685.57 L1664.24,683.67 L1666.24,681.77 L1668.24,679.88 L1670.24,677.98 L1672.24,676.09 L1674.24,674.19 L1676.24,672.3 L1678.24,670.41 L1680.24,668.52 L1682.24,666.63 L1684.24,664.74 L1686.24,662.85 L1688.24,660.97 L1690.24,659.08 L1692.24,657.2 L1694.24,655.31 L1696.24,653.43 L1698.24,651.55 L1700.25,649.67 L1702.25,647.79 L1704.25,645.91 L1706.25,644.03 L1708.25,642.15 L1710.25,640.28 L1712.25,638.4 L1714.25,636.53 L1716.25,634.66 L1718.25,632.79 L1720.25,630.91 L1722.25,629.04 L1724.25,627.18 L1726.25,625.31 L1728.25,623.44 L1730.25,621.58 L1732.25,619.71 L1734.26,617.85 L1736.26,615.98 L1738.26,614.12 L1740.26,612.26 L1742.26,610.4 L1744.26,608.54 L1746.26,606.68 L1748.26,604.83 L1750.26,602.97 L1752.26,601.12 L1754.26,599.26 L1756.26,597.41 L1758.26,595.56 L1760.26,593.71 L1762.26,591.86"/><path id="fB1" d="M1254.13,1093.48 L1256.13,1091.38 L1258.13,1089.29 L1260.13,1087.19 L1262.13,1085.09 L1264.13,1082.99 L1266.13,1080.9 L1268.13,1078.81 L1270.13,1076.71 L1272.13,1074.62 L1274.13,1072.53 L1276.13,1070.44 L1278.13,1068.35 L1280.13,1066.26 L1282.13,1064.18 L1284.14,1062.09 L1286.14,1060.01 L1288.14,1057.92 L1290.14,1055.84 L1292.14,1053.76 L1294.14,1051.68 L1296.14,1049.6 L1298.14,1047.52 L1300.14,1045.44 L1302.14,1043.36 L1304.14,1041.29 L1306.14,1039.21 L1308.14,1037.14 L1310.14,1035.06 L1312.14,1032.99 L1314.14,1030.92 L1316.14,1028.85 L1318.14,1026.78 L1320.14,1024.71 L1322.14,1022.65 L1324.14,1020.58 L1326.15,1018.51 L1328.15,1016.45 L1330.15,1014.39 L1332.15,1012.33 L1334.15,1010.26 L1336.15,1008.2 L1338.15,1006.14 L1340.15,1004.09 L1342.15,1002.03 L1344.15,999.97 L1346.15,997.92 L1348.15,995.86 L1350.15,993.81 L1352.15,991.76 L1354.15,989.71 L1356.15,987.66 L1358.15,985.61 L1360.15,983.56 L1362.15,981.51 L1364.15,979.46 L1366.16,977.42 L1368.16,975.37 L1370.16,973.33 L1372.16,971.29 L1374.16,969.25 L1376.16,967.21 L1378.16,965.17 L1380.16,963.13 L1382.16,961.09 L1384.16,959.05 L1386.16,957.02 L1388.16,954.98 L1390.16,952.95 L1392.16,950.92 L1394.16,948.88 L1396.16,946.85 L1398.16,944.82 L1400.16,942.8 L1402.16,940.77 L1404.17,938.74 L1406.17,936.72 L1408.17,934.69 L1410.17,932.67 L1412.17,930.64 L1414.17,928.62 L1416.17,926.6 L1418.17,924.58 L1420.17,922.56 L1422.17,920.55 L1424.17,918.53 L1426.17,916.51 L1428.17,914.5 L1430.17,912.48 L1432.17,910.47 L1434.17,908.46 L1436.17,906.45 L1438.17,904.44 L1440.17,902.43 L1442.18,900.42 L1444.18,898.41 L1446.18,896.41 L1448.18,894.4 L1450.18,892.4 L1452.18,890.4 L1454.18,888.39 L1456.18,886.39 L1458.18,884.39 L1460.18,882.39 L1462.18,880.4 L1464.18,878.4 L1466.18,876.4 L1468.18,874.41 L1470.18,872.41 L1472.18,870.42 L1474.18,868.43 L1476.18,866.44 L1478.18,864.45 L1480.18,862.46 L1482.19,860.47 L1484.19,858.48 L1486.19,856.5 L1488.19,854.51 L1490.19,852.53 L1492.19,850.54 L1494.19,848.56 L1496.19,846.58 L1498.19,844.6 L1500.19,842.62 L1502.19,840.64 L1504.19,838.66 L1506.19,836.69 L1508.19,834.71 L1510.19,832.74 L1512.19,830.76 L1514.19,828.79 L1516.19,826.82 L1518.2,824.85 L1520.2,822.88 L1522.2,820.91 L1524.2,818.94 L1526.2,816.98 L1528.2,815.01 L1530.2,813.05 L1532.2,811.08 L1534.2,809.12 L1536.2,807.16 L1538.2,805.2 L1540.2,803.24 L1542.2,801.28 L1544.2,799.32 L1546.2,797.37 L1548.2,795.41 L1550.2,793.46 L1552.2,791.5 L1554.2,789.55 L1556.21,787.6 L1558.21,785.65 L1560.21,783.7 L1562.21,781.75 L1564.21,779.8 L1566.21,777.85 L1568.21,775.91 L1570.21,773.96 L1572.21,772.02 L1574.21,770.08 L1576.21,768.14 L1578.21,766.19 L1580.21,764.25 L1582.21,762.32 L1584.21,760.38 L1586.21,758.44 L1588.21,756.5 L1590.21,754.57 L1592.22,752.64 L1594.22,750.7 L1596.22,748.77 L1598.22,746.84 L1600.22,744.91 L1602.22,742.98 L1604.22,741.05 L1606.22,739.13 L1608.22,737.2 L1610.22,735.27 L1612.22,733.35 L1614.22,731.43 L1616.22,729.51 L1618.22,727.58 L1620.22,725.66 L1622.22,723.74 L1624.22,721.83 L1626.22,719.91 L1628.23,717.99 L1630.23,716.08 L1632.23,714.16 L1634.23,712.25 L1636.23,710.34 L1638.23,708.43 L1640.23,706.52 L1642.23,704.61 L1644.23,702.7 L1646.23,700.79 L1648.23,698.89 L1650.23,696.98 L1652.23,695.08 L1654.23,693.17 L1656.23,691.27 L1658.23,689.37 L1660.23,687.47 L1662.23,685.57 L1664.24,683.67 L1666.24,681.77 L1668.24,679.88 L1670.24,677.98 L1672.24,676.09 L1674.24,674.19 L1676.24,672.3 L1678.24,670.41 L1680.24,668.52 L1682.24,666.63 L1684.24,664.74 L1686.24,662.85 L1688.24,660.97 L1690.24,659.08 L1692.24,657.2 L1694.24,655.31 L1696.24,653.43 L1698.24,651.55 L1700.25,649.67 L1702.25,647.79 L1704.25,645.91 L1706.25,644.03 L1708.25,642.15 L1710.25,640.28 L1712.25,638.4 L1714.25,636.53 L1716.25,634.66 L1718.25,632.79 L1720.25,630.91 L1722.25,629.04 L1724.25,627.18 L1726.25,625.31 L1728.25,623.44 L1730.25,621.58 L1732.25,619.71 L1734.26,617.85 L1736.26,615.98 L1738.26,614.12 L1740.26,612.26 L1742.26,610.4 L1744.26,608.54 L1746.26,606.68 L1748.26,604.83 L1750.26,602.97 L1752.26,601.12 L1754.26,599.26 L1756.26,597.41 L1758.26,595.56 L1760.26,593.71 L1762.26,591.86"/><path id="fH2" d="M1259.92,1099 L1261.92,1096.9 L1263.92,1094.81 L1265.92,1092.71 L1267.92,1090.61 L1269.92,1088.52 L1271.92,1086.43 L1273.91,1084.33 L1275.91,1082.24 L1277.91,1080.15 L1279.91,1078.06 L1281.91,1075.97 L1283.91,1073.89 L1285.91,1071.8 L1287.91,1069.71 L1289.91,1067.63 L1291.91,1065.55 L1293.91,1063.46 L1295.91,1061.38 L1297.9,1059.3 L1299.9,1057.22 L1301.9,1055.14 L1303.9,1053.07 L1305.9,1050.99 L1307.9,1048.91 L1309.9,1046.84 L1311.9,1044.76 L1313.9,1042.69 L1315.9,1040.62 L1317.9,1038.55 L1319.9,1036.48 L1321.9,1034.41 L1323.89,1032.34 L1325.89,1030.28 L1327.89,1028.21 L1329.89,1026.15 L1331.89,1024.08 L1333.89,1022.02 L1335.89,1019.96 L1337.89,1017.9 L1339.89,1015.84 L1341.89,1013.78 L1343.89,1011.72 L1345.89,1009.66 L1347.88,1007.61 L1349.88,1005.55 L1351.88,1003.5 L1353.88,1001.44 L1355.88,999.39 L1357.88,997.34 L1359.88,995.29 L1361.88,993.24 L1363.88,991.19 L1365.88,989.15 L1367.88,987.1 L1369.88,985.06 L1371.87,983.01 L1373.87,980.97 L1375.87,978.93 L1377.87,976.89 L1379.87,974.85 L1381.87,972.81 L1383.87,970.77 L1385.87,968.73 L1387.87,966.7 L1389.87,964.66 L1391.87,962.63 L1393.86,960.59 L1395.86,958.56 L1397.86,956.53 L1399.86,954.5 L1401.86,952.47 L1403.86,950.44 L1405.86,948.41 L1407.86,946.39 L1409.86,944.36 L1411.86,942.34 L1413.86,940.31 L1415.86,938.29 L1417.85,936.27 L1419.85,934.25 L1421.85,932.23 L1423.85,930.21 L1425.85,928.2 L1427.85,926.18 L1429.85,924.16 L1431.85,922.15 L1433.85,920.14 L1435.85,918.12 L1437.85,916.11 L1439.85,914.1 L1441.84,912.09 L1443.84,910.08 L1445.84,908.07 L1447.84,906.07 L1449.84,904.06 L1451.84,902.06 L1453.84,900.05 L1455.84,898.05 L1457.84,896.05 L1459.84,894.05 L1461.84,892.05 L1463.83,890.05 L1465.83,888.05 L1467.83,886.06 L1469.83,884.06 L1471.83,882.07 L1473.83,880.07 L1475.83,878.08 L1477.83,876.09 L1479.83,874.1 L1481.83,872.11 L1483.83,870.12 L1485.83,868.13 L1487.82,866.14 L1489.82,864.16 L1491.82,862.17 L1493.82,860.19 L1495.82,858.21 L1497.82,856.22 L1499.82,854.24 L1501.82,852.26 L1503.82,850.28 L1505.82,848.31 L1507.82,846.33 L1509.81,844.35 L1511.81,842.38 L1513.81,840.41 L1515.81,838.43 L1517.81,836.46 L1519.81,834.49 L1521.81,832.52 L1523.81,830.55 L1525.81,828.58 L1527.81,826.61 L1529.81,824.65 L1531.8,822.68 L1533.8,820.72 L1535.8,818.76 L1537.8,816.79 L1539.8,814.83 L1541.8,812.87 L1543.8,810.91 L1545.8,808.96 L1547.8,807 L1549.8,805.04 L1551.8,803.09 L1553.79,801.13 L1555.79,799.18 L1557.79,797.23 L1559.79,795.28 L1561.79,793.33 L1563.79,791.38 L1565.79,789.43 L1567.79,787.48 L1569.79,785.53 L1571.79,783.59 L1573.79,781.64 L1575.78,779.7 L1577.78,777.76 L1579.78,775.82 L1581.78,773.88 L1583.78,771.94 L1585.78,770 L1587.78,768.06 L1589.78,766.12 L1591.78,764.19 L1593.78,762.25 L1595.78,760.32 L1597.77,758.39 L1599.77,756.46 L1601.77,754.53 L1603.77,752.6 L1605.77,750.67 L1607.77,748.74 L1609.77,746.81 L1611.77,744.89 L1613.77,742.96 L1615.77,741.04 L1617.77,739.12 L1619.76,737.2 L1621.76,735.27 L1623.76,733.36 L1625.76,731.44 L1627.76,729.52 L1629.76,727.6 L1631.76,725.69 L1633.76,723.77 L1635.76,721.86 L1637.76,719.94 L1639.76,718.03 L1641.75,716.12 L1643.75,714.21 L1645.75,712.3 L1647.75,710.4 L1649.75,708.49 L1651.75,706.58 L1653.75,704.68 L1655.75,702.77 L1657.75,700.87 L1659.75,698.97 L1661.75,697.07 L1663.74,695.17 L1665.74,693.27 L1667.74,691.37 L1669.74,689.47 L1671.74,687.58 L1673.74,685.68 L1675.74,683.79 L1677.74,681.9 L1679.74,680 L1681.74,678.11 L1683.73,676.22 L1685.73,674.33 L1687.73,672.45 L1689.73,670.56 L1691.73,668.67 L1693.73,666.79 L1695.73,664.9 L1697.73,663.02 L1699.73,661.14 L1701.73,659.26 L1703.73,657.38 L1705.72,655.5 L1707.72,653.62 L1709.72,651.74 L1711.72,649.86 L1713.72,647.99 L1715.72,646.12 L1717.72,644.24 L1719.72,642.37 L1721.72,640.5 L1723.72,638.63 L1725.71,636.76 L1727.71,634.89 L1729.71,633.02 L1731.71,631.16 L1733.71,629.29 L1735.71,627.43 L1737.71,625.56 L1739.71,623.7 L1741.71,621.84 L1743.71,619.98 L1745.7,618.12 L1747.7,616.26 L1749.7,614.4 L1751.7,612.55 L1753.7,610.69 L1755.7,608.84 L1757.7,606.98 L1759.7,605.13 L1761.7,603.28 L1763.7,601.43 L1765.7,599.58 L1767.69,597.73"/><path id="fB2" d="M1259.92,1099 L1261.92,1096.9 L1263.92,1094.81 L1265.92,1092.71 L1267.92,1090.61 L1269.92,1088.52 L1271.92,1086.43 L1273.91,1084.33 L1275.91,1082.24 L1277.91,1080.15 L1279.91,1078.06 L1281.91,1075.97 L1283.91,1073.89 L1285.91,1071.8 L1287.91,1069.71 L1289.91,1067.63 L1291.91,1065.55 L1293.91,1063.46 L1295.91,1061.38 L1297.9,1059.3 L1299.9,1057.22 L1301.9,1055.14 L1303.9,1053.07 L1305.9,1050.99 L1307.9,1048.91 L1309.9,1046.84 L1311.9,1044.76 L1313.9,1042.69 L1315.9,1040.62 L1317.9,1038.55 L1319.9,1036.48 L1321.9,1034.41 L1323.89,1032.34 L1325.89,1030.28 L1327.89,1028.21 L1329.89,1026.15 L1331.89,1024.08 L1333.89,1022.02 L1335.89,1019.96 L1337.89,1017.9 L1339.89,1015.84 L1341.89,1013.78 L1343.89,1011.72 L1345.89,1009.66 L1347.88,1007.61 L1349.88,1005.55 L1351.88,1003.5 L1353.88,1001.44 L1355.88,999.39 L1357.88,997.34 L1359.88,995.29 L1361.88,993.24 L1363.88,991.19 L1365.88,989.15 L1367.88,987.1 L1369.88,985.06 L1371.87,983.01 L1373.87,980.97 L1375.87,978.93 L1377.87,976.89 L1379.87,974.85 L1381.87,972.81 L1383.87,970.77 L1385.87,968.73 L1387.87,966.7 L1389.87,964.66 L1391.87,962.63 L1393.86,960.59 L1395.86,958.56 L1397.86,956.53 L1399.86,954.5 L1401.86,952.47 L1403.86,950.44 L1405.86,948.41 L1407.86,946.39 L1409.86,944.36 L1411.86,942.34 L1413.86,940.31 L1415.86,938.29 L1417.85,936.27 L1419.85,934.25 L1421.85,932.23 L1423.85,930.21 L1425.85,928.2 L1427.85,926.18 L1429.85,924.16 L1431.85,922.15 L1433.85,920.14 L1435.85,918.12 L1437.85,916.11 L1439.85,914.1 L1441.84,912.09 L1443.84,910.08 L1445.84,908.07 L1447.84,906.07 L1449.84,904.06 L1451.84,902.06 L1453.84,900.05 L1455.84,898.05 L1457.84,896.05 L1459.84,894.05 L1461.84,892.05 L1463.83,890.05 L1465.83,888.05 L1467.83,886.06 L1469.83,884.06 L1471.83,882.07 L1473.83,880.07 L1475.83,878.08 L1477.83,876.09 L1479.83,874.1 L1481.83,872.11 L1483.83,870.12 L1485.83,868.13 L1487.82,866.14 L1489.82,864.16 L1491.82,862.17 L1493.82,860.19 L1495.82,858.21 L1497.82,856.22 L1499.82,854.24 L1501.82,852.26 L1503.82,850.28 L1505.82,848.31 L1507.82,846.33 L1509.81,844.35 L1511.81,842.38 L1513.81,840.41 L1515.81,838.43 L1517.81,836.46 L1519.81,834.49 L1521.81,832.52 L1523.81,830.55 L1525.81,828.58 L1527.81,826.61 L1529.81,824.65 L1531.8,822.68 L1533.8,820.72 L1535.8,818.76 L1537.8,816.79 L1539.8,814.83 L1541.8,812.87 L1543.8,810.91 L1545.8,808.96 L1547.8,807 L1549.8,805.04 L1551.8,803.09 L1553.79,801.13 L1555.79,799.18 L1557.79,797.23 L1559.79,795.28 L1561.79,793.33 L1563.79,791.38 L1565.79,789.43 L1567.79,787.48 L1569.79,785.53 L1571.79,783.59 L1573.79,781.64 L1575.78,779.7 L1577.78,777.76 L1579.78,775.82 L1581.78,773.88 L1583.78,771.94 L1585.78,770 L1587.78,768.06 L1589.78,766.12 L1591.78,764.19 L1593.78,762.25 L1595.78,760.32 L1597.77,758.39 L1599.77,756.46 L1601.77,754.53 L1603.77,752.6 L1605.77,750.67 L1607.77,748.74 L1609.77,746.81 L1611.77,744.89 L1613.77,742.96 L1615.77,741.04 L1617.77,739.12 L1619.76,737.2 L1621.76,735.27 L1623.76,733.36 L1625.76,731.44 L1627.76,729.52 L1629.76,727.6 L1631.76,725.69 L1633.76,723.77 L1635.76,721.86 L1637.76,719.94 L1639.76,718.03 L1641.75,716.12 L1643.75,714.21 L1645.75,712.3 L1647.75,710.4 L1649.75,708.49 L1651.75,706.58 L1653.75,704.68 L1655.75,702.77 L1657.75,700.87 L1659.75,698.97 L1661.75,697.07 L1663.74,695.17 L1665.74,693.27 L1667.74,691.37 L1669.74,689.47 L1671.74,687.58 L1673.74,685.68 L1675.74,683.79 L1677.74,681.9 L1679.74,680 L1681.74,678.11 L1683.73,676.22 L1685.73,674.33 L1687.73,672.45 L1689.73,670.56 L1691.73,668.67 L1693.73,666.79 L1695.73,664.9 L1697.73,663.02 L1699.73,661.14 L1701.73,659.26 L1703.73,657.38 L1705.72,655.5 L1707.72,653.62 L1709.72,651.74 L1711.72,649.86 L1713.72,647.99 L1715.72,646.12 L1717.72,644.24 L1719.72,642.37 L1721.72,640.5 L1723.72,638.63 L1725.71,636.76 L1727.71,634.89 L1729.71,633.02 L1731.71,631.16 L1733.71,629.29 L1735.71,627.43 L1737.71,625.56 L1739.71,623.7 L1741.71,621.84 L1743.71,619.98 L1745.7,618.12 L1747.7,616.26 L1749.7,614.4 L1751.7,612.55 L1753.7,610.69 L1755.7,608.84 L1757.7,606.98 L1759.7,605.13 L1761.7,603.28 L1763.7,601.43 L1765.7,599.58 L1767.69,597.73"/><filter id="bl26" filterUnits="userSpaceOnUse" x="1296.3" y="607.5" width="428.8" height="449.8" color-interpolation-filters="sRGB"><feGaussianBlur stdDeviation="0.6"/></filter><filter id="bl27" filterUnits="userSpaceOnUse" x="1296.3" y="607.5" width="428.8" height="449.8" color-interpolation-filters="sRGB"><feGaussianBlur stdDeviation="0.6"/></filter><filter id="bl28" filterUnits="userSpaceOnUse" x="1296.3" y="607.5" width="428.8" height="449.8" color-interpolation-filters="sRGB"><feGaussianBlur stdDeviation="0.8"/></filter><filter id="bl29" filterUnits="userSpaceOnUse" x="1296.3" y="607.5" width="428.8" height="449.8" color-interpolation-filters="sRGB"><feGaussianBlur stdDeviation="0.6"/></filter><filter id="bl30" filterUnits="userSpaceOnUse" x="1296.3" y="607.5" width="428.8" height="449.8" color-interpolation-filters="sRGB"><feGaussianBlur stdDeviation="0.6"/></filter><filter id="bl31" filterUnits="userSpaceOnUse" x="1296.3" y="607.5" width="428.8" height="449.8" color-interpolation-filters="sRGB"><feGaussianBlur stdDeviation="0.6"/></filter><filter id="bl32" filterUnits="userSpaceOnUse" x="1296.3" y="607.5" width="428.8" height="449.8" color-interpolation-filters="sRGB"><feGaussianBlur stdDeviation="0.6"/></filter><clipPath id="clipF"><rect x="1336.3" y="647.5" width="348.8" height="369.8"/></clipPath><filter id="bl33" filterUnits="userSpaceOnUse" x="1296.3" y="607.5" width="428.8" height="449.8" color-interpolation-filters="sRGB"><feGaussianBlur stdDeviation="18"/></filter><filter id="bl34" filterUnits="userSpaceOnUse" x="1296.3" y="607.5" width="428.8" height="449.8" color-interpolation-filters="sRGB"><feGaussianBlur stdDeviation="13"/></filter></defs>
<rect width="1814" height="1120" fill="#fff"/>
<g>
<g clip-path="url(#clipA)">
<rect x="114" y="259" width="37.9" height="54.4" fill="#c9f0d8"/>
<rect x="199.1" y="259" width="39" height="54.4" fill="#c9f0d8"/>
<rect x="286" y="259" width="38.3" height="54.4" fill="#c9f0d8"/>
<rect x="372.1" y="259" width="38.8" height="54.4" fill="#c9f0d8"/>
<rect x="458.1" y="259" width="38.9" height="54.4" fill="#c9f0d8"/>
<rect x="114" y="313.3" width="382" height="36.6" fill="#b1e4fb"/>
<rect x="114" y="349.9" width="382" height="83" fill="url(#gAu)"/>
<line x1="114" y1="320.4" x2="496" y2="320.4" stroke="#0a64f2" stroke-width="3.2"/>
<line x1="305.1" y1="60" x2="305.1" y2="432" stroke="#9a9a9a" stroke-width="1.6" stroke-dasharray="10.4 7.1" stroke-dashoffset="4.7"/>
<path d="M430.56,58 L432.48,58.5 L434.34,59 L436.15,59.5 L437.9,60 L439.6,60.5 L441.24,61 L442.82,61.5 L444.34,62 L445.8,62.5 L447.19,63 L448.53,63.5 L449.81,64 L451.02,64.5 L452.18,65 L453.27,65.5 L454.29,66 L455.25,66.5 L456.15,67 L456.98,67.5 L457.75,68 L458.45,68.5 L459.08,69 L459.65,69.5 L460.15,70 L460.59,70.5 L460.96,71 L461.26,71.5 L461.5,72 L461.67,72.5 L461.77,73 L461.8,73.5 L461.77,74 L461.66,74.5 L461.49,75 L461.24,75.5 L460.93,76 L460.55,76.5 L460.1,77 L459.58,77.5 L458.99,78 L458.34,78.5 L457.62,79 L456.83,79.5 L455.97,80 L455.05,80.5 L454.06,81 L453.01,81.5 L451.9,82 L450.72,82.5 L449.47,83 L448.17,83.5 L446.8,84 L445.37,84.5 L443.88,85 L442.33,85.5 L440.73,86 L439.06,86.5 L437.34,87 L435.56,87.5 L433.72,88 L431.83,88.5 L429.88,89 L427.89,89.5 L425.84,90 L423.74,90.5 L421.59,91 L419.39,91.5 L417.14,92 L414.84,92.5 L412.5,93 L410.12,93.5 L407.69,94 L405.21,94.5 L402.7,95 L400.15,95.5 L397.55,96 L394.92,96.5 L392.25,97 L389.55,97.5 L386.81,98 L384.04,98.5 L381.23,99 L378.4,99.5 L375.53,100 L372.64,100.5 L369.72,101 L366.77,101.5 L363.8,102 L360.81,102.5 L357.79,103 L354.76,103.5 L351.7,104 L348.63,104.5 L345.54,105 L342.43,105.5 L339.32,106 L336.18,106.5 L333.04,107 L329.89,107.5 L326.73,108 L323.56,108.5 L320.38,109 L317.2,109.5 L314.02,110 L310.83,110.5 L307.65,111 L304.46,111.5 L301.28,112 L298.11,112.5 L294.94,113 L291.78,113.5 L288.63,114 L285.49,114.5 L282.37,115 L279.25,115.5 L276.15,116 L273.07,116.5 L270,117 L266.95,117.5 L263.92,118 L260.91,118.5 L257.91,119 L254.94,119.5 L252,120 L249.07,120.5 L246.17,121 L243.3,121.5 L240.45,122 L237.63,122.5 L234.84,123 L232.08,123.5 L229.34,124 L226.64,124.5 L223.97,125 L221.34,125.5 L218.73,126 L216.17,126.5 L213.64,127 L211.14,127.5 L208.68,128 L206.26,128.5 L203.88,129 L201.54,129.5 L199.24,130 L196.98,130.5 L194.76,131 L192.59,131.5 L190.46,132 L188.37,132.5 L186.33,133 L184.34,133.5 L182.39,134 L180.49,134.5 L178.64,135 L176.83,135.5 L175.08,136 L173.37,136.5 L171.72,137 L170.12,137.5 L168.57,138 L167.07,138.5 L165.63,139 L164.24,139.5 L162.9,140 L161.62,140.5 L160.4,141 L159.23,141.5 L158.12,142 L157.07,142.5 L156.07,143 L155.13,143.5 L154.25,144 L153.44,144.5 L152.68,145 L151.98,145.5 L151.34,146 L150.76,146.5 L150.25,147 L149.8,147.5 L149.41,148 L149.08,148.5 L148.82,149 L148.62,149.5 L148.48,150 L148.41,150.5 L148.41,151 L148.46,151.5 L148.59,152 L148.78,152.5 L149.03,153 L149.35,153.5 L149.74,154 L150.19,154.5 L150.71,155 L151.29,155.5 L151.94,156 L152.66,156.5 L153.44,157 L154.29,157.5 L155.2,158 L156.18,158.5 L157.22,159 L158.33,159.5 L159.5,160 L160.74,160.5 L162.04,161 L163.4,161.5 L164.82,162 L166.31,162.5 L167.86,163 L169.46,163.5 L171.13,164 L172.86,164.5 L174.64,165 L176.49,165.5 L178.39,166 L180.34,166.5 L182.35,167 L184.42,167.5 L186.54,168 L188.71,168.5 L190.93,169 L193.21,169.5 L195.53,170 L197.9,170.5 L200.32,171 L202.79,171.5 L205.29,172 L207.85,172.5 L210.44,173 L213.08,173.5 L215.76,174 L218.47,174.5 L221.22,175 L224.01,175.5 L226.84,176 L229.69,176.5 L232.58,177 L235.5,177.5 L238.45,178 L241.42,178.5 L244.42,179 L247.45,179.5 L250.5,180 L253.57,180.5 L256.66,181 L259.77,181.5 L262.9,182 L266.05,182.5 L269.21,183 L272.38,183.5 L275.56,184 L278.75,184.5 L281.95,185 L285.16,185.5 L288.37,186 L291.59,186.5 L294.8,187 L298.02,187.5 L301.24,188 L304.46,188.5 L307.67,189 L310.88,189.5 L314.08,190 L317.28,190.5 L320.46,191 L323.64,191.5 L326.81,192 L329.97,192.5 L333.11,193 L336.24,193.5 L339.35,194 L342.45,194.5 L345.53,195 L348.59,195.5 L351.63,196 L354.65,196.5 L357.65,197 L360.62,197.5 L363.57,198 L366.5,198.5 L369.4,199 L372.27,199.5 L375.11,200 L377.92,200.5 L380.7,201 L383.45,201.5 L386.17,202 L388.85,202.5 L391.5,203 L394.12,203.5 L396.69,204 L399.23,204.5 L401.73,205 L404.19,205.5 L406.61,206 L408.99,206.5 L411.33,207 L413.62,207.5 L415.87,208 L418.08,208.5 L420.24,209 L422.35,209.5 L424.42,210 L426.44,210.5 L428.41,211 L430.33,211.5 L432.2,212 L434.02,212.5 L435.78,213 L437.5,213.5 L439.16,214 L440.77,214.5 L442.32,215 L443.82,215.5 L445.26,216 L446.65,216.5 L447.97,217 L449.25,217.5 L450.46,218 L451.61,218.5 L452.71,219 L453.74,219.5 L454.72,220 L455.63,220.5 L456.48,221 L457.27,221.5 L458,222 L458.67,222.5 L459.27,223 L459.81,223.5 L460.29,224 L460.7,224.5 L461.04,225 L461.33,225.5 L461.54,226 L461.69,226.5 L461.78,227 L461.8,227.5 L461.75,228 L461.64,228.5 L461.46,229 L461.22,229.5 L460.92,230 L460.54,230.5 L460.09,231 L459.57,231.5 L458.98,232 L458.31,232.5 L457.57,233 L456.77,233.5 L455.89,234 L454.95,234.5 L453.94,235 L452.86,235.5 L451.72,236 L450.51,236.5 L449.24,237 L447.9,237.5 L446.51,238 L445.05,238.5 L443.54,239 L441.96,239.5 L440.33,240 L438.64,240.5 L436.89,241 L435.09,241.5 L433.24,242 L431.33,242.5 L429.37,243 L427.35,243.5 L425.29,244 L423.18,244.5 L421.02,245 L418.81,245.5 L416.56,246 L414.26,246.5 L411.92,247 L409.53,247.5 L407.1,248 L404.63,248.5 L402.11,249 L399.56,249.5 L396.97,250 L394.34,250.5 L391.67,251 L388.97,251.5 L386.23,252 L383.46,252.5 L380.66,253 L377.82,253.5 L374.95,254 L372.05,254.5 L369.12,255 L366.16,255.5 L363.18,256 L360.16,256.5 L357.13,257 L354.06,257.5 L350.97,258 L347.86,258.5 L344.73,259 L341.58,259.5 L338.4,260 L335.21,260.5 L332,261 L328.76,261.5 L325.52,262 L322.25,262.5 L318.98,263 L315.69,263.5 L312.39,264 L309.08,264.5 L305.76,265 L302.44,265.5 L299.11,266 L295.76,266.5 L292.41,267 L289.06,267.5 L285.71,268 L282.36,268.5 L279.02,269 L275.69,269.5 L272.37,270 L269.06,270.5 L265.77,271 L262.5,271.5 L259.26,272 L256.04,272.5 L252.86,273 L249.7,273.5 L246.59,274 L243.51,274.5 L240.47,275 L237.48,275.5 L234.54,276 L231.64,276.5 L228.81,277 L226.02,277.5 L223.3,278 L220.63,278.5 L218.04,279 L215.5,279.5 L213.04,280 L210.65,280.5 L208.33,281 L206.09,281.5 L203.92,282 L201.83,282.5 L199.83,283 L197.91,283.5 L196.07,284 L194.32,284.5 L192.65,285 L191.08,285.5 L189.59,286 L188.2,286.5 L186.89,287 L185.68,287.5 L184.56,288 L183.54,288.5 L182.61,289 L181.77,289.5 L181.03,290 L180.38,290.5 L179.82,291 L179.36,291.5 L178.99,292 L178.71,292.5 L178.53,293 L178.44,293.5 L178.43,294 L178.52,294.5 L178.69,295 L178.96,295.5 L179.3,296 L179.74,296.5 L180.25,297 L180.84,297.5 L181.5,298 L182.24,298.5 L183.05,299 L183.92,299.5 L184.87,300 L185.87,300.5 L186.94,301 L188.07,301.5 L189.26,302 L190.51,302.5 L191.82,303 L193.18,303.5 L194.59,304 L196.06,304.5 L197.59,305 L199.16,305.5 L200.79,306 L202.47,306.5 L204.21,307 L205.99,307.5 L207.83,308 L209.72,308.5 L211.66,309 L213.65,309.5 L215.7,310 L217.79,310.5 L219.94,311 L222.15,311.5 L224.4,312 L226.71,312.5 L229.07,313 L231.49,313.5 L233.96,314 L236.48,314.5 L239.07,315 L241.7,315.5 L244.4,316 L247.15,316.5 L249.95,317 L252.81,317.5 L255.73,318 L258.71,318.5 L261.74,319 L264.82,319.5 L267.96,320 L271.16,320.5 L274.41,321 L277.71,321.5 L281.07,322 L284.47,322.5 L287.93,323 L291.43,323.5 L294.97,324 L298.55,324.5 L302.18,325 L305.84,325.5 L309.56,326 L313.36,326.5 L317.23,327 L321.14,327.5 L325.1,328 L329.1,328.5 L333.11,329 L337.12,329.5 L341.12,330 L345.11,330.5 L349.05,331 L352.94,331.5 L356.76,332 L360.5,332.5 L364.14,333 L367.66,333.5 L371.05,334 L374.3,334.5 L377.38,335 L380.3,335.5 L383.02,336 L385.54,336.5 L387.84,337 L389.92,337.5 L391.77,338 L393.36,338.5 L394.7,339 L395.78,339.5 L396.59,340 L397.13,340.5 L397.39,341 L397.38,341.5 L397.08,342 L396.55,342.5 L395.92,343 L395.22,343.5 L394.43,344 L393.58,344.5 L392.66,345 L391.67,345.5 L390.63,346 L389.54,346.5 L388.39,347 L387.21,347.5 L385.99,348 L384.73,348.5 L383.45,349 L382.07,349.5 L380.52,350 L378.83,350.5 L377.01,351 L375.09,351.5 L373.09,352 L371.03,352.5 L368.93,353 L366.81,353.5 L364.69,354 L362.59,354.5 L360.53,355 L358.53,355.5 L356.59,356 L354.61,356.5 L352.61,357 L350.59,357.5 L348.6,358 L346.63,358.5 L344.72,359 L342.88,359.5 L341.14,360 L339.46,360.5 L337.81,361 L336.19,361.5 L334.62,362 L333.09,362.5 L331.61,363 L330.2,363.5 L328.86,364 L327.59,364.5 L326.39,365 L325.23,365.5 L324.1,366 L323.01,366.5 L321.98,367 L320.99,367.5 L320.07,368 L319.21,368.5 L318.42,369 L317.68,369.5 L316.97,370 L316.28,370.5 L315.63,371 L315.02,371.5 L314.45,372 L313.92,372.5 L313.44,373 L313.01,373.5 L312.63,374 L312.26,374.5 L311.9,375 L311.55,375.5 L311.22,376 L310.9,376.5 L310.6,377 L310.3,377.5 L310.02,378 L309.76,378.5 L309.5,379 L309.26,379.5 L309.04,380 L308.82,380.5 L308.62,381 L308.42,381.5 L308.24,382 L308.08,382.5 L307.92,383 L307.76,383.5 L307.61,384 L307.47,384.5 L307.32,385 L307.19,385.5 L307.06,386 L306.93,386.5 L306.81,387 L306.7,387.5 L306.59,388 L306.49,388.5 L306.39,389 L306.31,389.5 L306.23,390 L306.15,390.5 L306.09,391 L306.03,391.5 L305.98,392 L305.92,392.5 L305.88,393 L305.83,393.5 L305.78,394 L305.74,394.5 L305.7,395 L305.66,395.5 L305.63,396 L305.59,396.5 L305.56,397 L305.53,397.5 L305.5,398 L305.48,398.5 L305.45,399 L305.43,399.5 L305.41,400 L305.4,400.5 L305.38,401 L305.36,401.5 L305.34,402 L305.33,402.5 L305.31,403 L305.3,403.5 L305.28,404 L305.27,404.5 L305.26,405 L305.25,405.5 L305.24,406 L305.23,406.5 L305.22,407 L305.21,407.5 L305.2,408 L305.19,408.5 L305.19,409 L305.18,409.5 L305.18,410 L305.18,410.5 L305.17,411 L305.17,411.5 L305.17,412 L305.16,412.5 L305.16,413 L305.16,413.5 L305.15,414 L305.15,414.5 L305.15,415 L305.15,415.5 L305.14,416 L305.14,416.5 L305.14,417 L305.14,417.5 L305.14,418 L305.13,418.5 L305.13,419 L305.13,419.5 L305.13,420 L305.13,420.5 L305.12,421 L305.12,421.5 L305.12,422 L305.12,422.5 L305.12,423 L305.12,423.5 L305.11,424 L305.11,424.5 L305.11,425 L305.11,425.5 L305.11,426 L305.11,426.5 L305.11,427 L305.11,427.5 L305.11,428 L305.1,428.5 L305.1,429 L305.1,429.5 L305.1,430 L305.1,430.5 L305.1,431 L305.1,431.5 L305.1,432 L305.1,432.5 L305.1,433 L305.1,433.5 L305.1,434" fill="none" stroke="#dc0a1c" stroke-width="3.4" stroke-linejoin="round"/>
</g>
<rect x="114.2" y="60.5" width="381.6" height="371.6" fill="none" stroke="#000" stroke-width="1.7"/>
<line x1="105.7" y1="73.5" x2="123.2" y2="73.5" stroke="#000" stroke-width="1.7"/>
<line x1="105.7" y1="320.4" x2="123.2" y2="320.4" stroke="#000" stroke-width="1.7"/>
<line x1="114.2" y1="134.9" x2="120.7" y2="134.9" stroke="#000" stroke-width="1.7"/>
<line x1="114.2" y1="196.6" x2="120.7" y2="196.6" stroke="#000" stroke-width="1.7"/>
<line x1="114.2" y1="258.9" x2="120.7" y2="258.9" stroke="#000" stroke-width="1.7"/>
<line x1="114.2" y1="382.4" x2="120.7" y2="382.4" stroke="#000" stroke-width="1.7"/>
<line x1="148.3" y1="423.4" x2="148.3" y2="441.1" stroke="#000" stroke-width="1.7"/>
<line x1="305.1" y1="423.4" x2="305.1" y2="441.1" stroke="#000" stroke-width="1.7"/>
<line x1="461.6" y1="423.4" x2="461.6" y2="441.1" stroke="#000" stroke-width="1.7"/>
<line x1="226.7" y1="425.6" x2="226.7" y2="432.1" stroke="#000" stroke-width="1.7"/>
<line x1="383.4" y1="425.6" x2="383.4" y2="432.1" stroke="#000" stroke-width="1.7"/>
<text x="90.5" y="83.3" font-size="28.4" text-anchor="end" fill="#000">1.0</text>
<text x="90.5" y="330.5" font-size="28.4" text-anchor="end" fill="#000">0.0</text>
<text x="148.3" y="476.8" font-size="28.4" text-anchor="middle" fill="#000">−1.0</text>
<text x="305.1" y="476.8" font-size="28.4" text-anchor="middle" fill="#000">0.0</text>
<text x="461.6" y="476.8" font-size="28.4" text-anchor="middle" fill="#000">+1.0</text>
<text x="130" y="83.5" font-size="24" text-anchor="start" fill="#000">TM</text>
<text x="301" y="524.3" font-size="29.2" text-anchor="middle">E<tspan font-size="20" dy="6">x</tspan><tspan dy="-6"> (Normalized)</tspan></text>
<text transform="translate(23.8,251.3) rotate(-90)" font-size="29.2" text-anchor="middle">z (μm)</text>
<text x="220.5" y="36" font-size="29.2"><tspan font-size="30" font-family="'Liberation Serif', 'Times New Roman', serif">λ</tspan><tspan font-size="26" dy="8.3" dx="1.5">0</tspan><tspan dy="-8.3" dx="1"> = 621 nm</tspan></text>
<text x="0" y="23" font-size="40" text-anchor="start" fill="#000" font-weight="bold">a</text>
</g>
<g clip-path="url(#clipB)" fill="none" stroke-width="3.2">
<path d="M113.2,994.9 L113.7,994.89 L114.2,994.88 L114.7,994.87 L115.2,994.86 L115.7,994.85 L116.2,994.84 L116.7,994.84 L117.2,994.83 L117.7,994.82 L118.2,994.81 L118.7,994.8 L119.2,994.79 L119.7,994.78 L120.2,994.77 L120.7,994.76 L121.2,994.75 L121.7,994.74 L122.2,994.73 L122.7,994.73 L123.2,994.72 L123.7,994.71 L124.2,994.7 L124.7,994.69 L125.2,994.68 L125.7,994.67 L126.2,994.66 L126.7,994.65 L127.2,994.64 L127.7,994.63 L128.2,994.63 L128.7,994.62 L129.2,994.61 L129.7,994.6 L130.2,994.59 L130.7,994.58 L131.2,994.57 L131.7,994.56 L132.2,994.55 L132.7,994.54 L133.2,994.53 L133.7,994.52 L134.2,994.52 L134.7,994.51 L135.2,994.5 L135.7,994.49 L136.2,994.48 L136.7,994.47 L137.2,994.46 L137.7,994.45 L138.2,994.44 L138.7,994.43 L139.2,994.42 L139.7,994.42 L140.2,994.41 L140.7,994.4 L141.2,994.39 L141.7,994.38 L142.2,994.37 L142.7,994.36 L143.2,994.35 L143.7,994.34 L144.2,994.33 L144.7,994.32 L145.2,994.32 L145.7,994.31 L146.2,994.3 L146.7,994.29 L147.2,994.28 L147.7,994.27 L148.2,994.26 L148.7,994.25 L149.2,994.24 L149.7,994.23 L150.2,994.22 L150.7,994.22 L151.2,994.21 L151.7,994.2 L152.2,994.19 L152.7,994.18 L153.2,994.17 L153.7,994.16 L154.2,994.15 L154.7,994.14 L155.2,994.13 L155.7,994.12 L156.2,994.12 L156.7,994.11 L157.2,994.1 L157.7,994.09 L158.2,994.08 L158.7,994.07 L159.2,994.06 L159.7,994.05 L160.2,994.04 L160.7,994.03 L161.2,994.03 L161.7,994.02 L162.2,994.01 L162.7,994 L163.2,993.99 L163.7,993.98 L164.2,993.97 L164.7,993.96 L165.2,993.95 L165.7,993.94 L166.2,993.93 L166.7,993.93 L167.2,993.92 L167.7,993.91 L168.2,993.9 L168.7,993.89 L169.2,993.88 L169.7,993.87 L170.2,993.86 L170.7,993.85 L171.2,993.84 L171.7,993.84 L172.2,993.83 L172.7,993.82 L173.2,993.81 L173.7,993.8 L174.2,993.79 L174.7,993.78 L175.2,993.77 L175.7,993.76 L176.2,993.75 L176.7,993.75 L177.2,993.74 L177.7,993.73 L178.2,993.72 L178.7,993.71 L179.2,993.7 L179.7,993.69 L180.2,993.68 L180.7,993.67 L181.2,993.66 L181.7,993.66 L182.2,993.65 L182.7,993.64 L183.2,993.63 L183.7,993.62 L184.2,993.61 L184.7,993.6 L185.2,993.59 L185.7,993.58 L186.2,993.58 L186.7,993.57 L187.2,993.56 L187.7,993.55 L188.2,993.54 L188.7,993.53 L189.2,993.52 L189.7,993.51 L190.2,993.5 L190.7,993.49 L191.2,993.49 L191.7,993.48 L192.2,993.47 L192.7,993.46 L193.2,993.45 L193.7,993.44 L194.2,993.43 L194.7,993.42 L195.2,993.41 L195.7,993.41 L196.2,993.4 L196.7,993.39 L197.2,993.38 L197.7,993.37 L198.2,993.36 L198.7,993.35 L199.2,993.34 L199.7,993.33 L200.2,993.32 L200.7,993.31 L201.2,993.3 L201.7,993.29 L202.2,993.28 L202.7,993.27 L203.2,993.26 L203.7,993.25 L204.2,993.24 L204.7,993.23 L205.2,993.22 L205.7,993.21 L206.2,993.2 L206.7,993.19 L207.2,993.18 L207.7,993.17 L208.2,993.16 L208.7,993.15 L209.2,993.14 L209.7,993.13 L210.2,993.12 L210.7,993.11 L211.2,993.09 L211.7,993.08 L212.2,993.07 L212.7,993.06 L213.2,993.05 L213.7,993.04 L214.2,993.03 L214.7,993.02 L215.2,993.01 L215.7,992.99 L216.2,992.98 L216.7,992.97 L217.2,992.96 L217.7,992.95 L218.2,992.94 L218.7,992.93 L219.2,992.91 L219.7,992.9 L220.2,992.89 L220.7,992.88 L221.2,992.87 L221.7,992.86 L222.2,992.85 L222.7,992.83 L223.2,992.82 L223.7,992.81 L224.2,992.8 L224.7,992.79 L225.2,992.78 L225.7,992.76 L226.2,992.75 L226.7,992.74 L227.2,992.73 L227.7,992.72 L228.2,992.7 L228.7,992.69 L229.2,992.68 L229.7,992.67 L230.2,992.66 L230.7,992.65 L231.2,992.63 L231.7,992.62 L232.2,992.61 L232.7,992.6 L233.2,992.59 L233.7,992.58 L234.2,992.56 L234.7,992.55 L235.2,992.54 L235.7,992.53 L236.2,992.52 L236.7,992.51 L237.2,992.5 L237.7,992.48 L238.2,992.47 L238.7,992.46 L239.2,992.45 L239.7,992.44 L240.2,992.43 L240.7,992.42 L241.2,992.41 L241.7,992.39 L242.2,992.38 L242.7,992.37 L243.2,992.36 L243.7,992.35 L244.2,992.34 L244.7,992.33 L245.2,992.32 L245.7,992.31 L246.2,992.3 L246.7,992.28 L247.2,992.27 L247.7,992.26 L248.2,992.25 L248.7,992.24 L249.2,992.23 L249.7,992.22 L250.2,992.21 L250.7,992.2 L251.2,992.19 L251.7,992.18 L252.2,992.17 L252.7,992.16 L253.2,992.15 L253.7,992.14 L254.2,992.13 L254.7,992.12 L255.2,992.11 L255.7,992.1 L256.2,992.09 L256.7,992.08 L257.2,992.07 L257.7,992.06 L258.2,992.05 L258.7,992.05 L259.2,992.04 L259.7,992.03 L260.2,992.02 L260.7,992.01 L261.2,992 L261.7,991.99 L262.2,991.98 L262.7,991.98 L263.2,991.97 L263.7,991.96 L264.2,991.95 L264.7,991.94 L265.2,991.94 L265.7,991.93 L266.2,991.92 L266.7,991.91 L267.2,991.9 L267.7,991.9 L268.2,991.89 L268.7,991.88 L269.2,991.88 L269.7,991.87 L270.2,991.86 L270.7,991.86 L271.2,991.85 L271.7,991.84 L272.2,991.84 L272.7,991.83 L273.2,991.82 L273.7,991.82 L274.2,991.81 L274.7,991.81 L275.2,991.8 L275.7,991.8 L276.2,991.79 L276.7,991.79 L277.2,991.78 L277.7,991.78 L278.2,991.77 L278.7,991.77 L279.2,991.76 L279.7,991.76 L280.2,991.75 L280.7,991.75 L281.2,991.75 L281.7,991.74 L282.2,991.74 L282.7,991.73 L283.2,991.73 L283.7,991.73 L284.2,991.73 L284.7,991.72 L285.2,991.72 L285.7,991.72 L286.2,991.72 L286.7,991.71 L287.2,991.71 L287.7,991.71 L288.2,991.71 L288.7,991.71 L289.2,991.7 L289.7,991.7 L290.2,991.7 L290.7,991.7 L291.2,991.7 L291.7,991.7 L292.2,991.7 L292.7,991.7 L293.2,991.7 L293.7,991.7 L294.2,991.7 L294.7,991.7 L295.2,991.71 L295.7,991.71 L296.2,991.71 L296.7,991.72 L297.2,991.72 L297.7,991.73 L298.2,991.73 L298.7,991.74 L299.2,991.74 L299.7,991.75 L300.2,991.76 L300.7,991.77 L301.2,991.78 L301.7,991.78 L302.2,991.79 L302.7,991.8 L303.2,991.81 L303.7,991.83 L304.2,991.84 L304.7,991.85 L305.2,991.86 L305.7,991.87 L306.2,991.89 L306.7,991.9 L307.2,991.91 L307.7,991.93 L308.2,991.94 L308.7,991.96 L309.2,991.97 L309.7,991.99 L310.2,992 L310.7,992.02 L311.2,992.04 L311.7,992.06 L312.2,992.07 L312.7,992.09 L313.2,992.11 L313.7,992.13 L314.2,992.15 L314.7,992.17 L315.2,992.19 L315.7,992.21 L316.2,992.23 L316.7,992.25 L317.2,992.27 L317.7,992.29 L318.2,992.31 L318.7,992.34 L319.2,992.36 L319.7,992.38 L320.2,992.4 L320.7,992.43 L321.2,992.45 L321.7,992.47 L322.2,992.5 L322.7,992.52 L323.2,992.55 L323.7,992.57 L324.2,992.6 L324.7,992.62 L325.2,992.65 L325.7,992.67 L326.2,992.7 L326.7,992.72 L327.2,992.75 L327.7,992.78 L328.2,992.8 L328.7,992.83 L329.2,992.86 L329.7,992.88 L330.2,992.91 L330.7,992.94 L331.2,992.97 L331.7,993 L332.2,993.02 L332.7,993.05 L333.2,993.08 L333.7,993.11 L334.2,993.14 L334.7,993.17 L335.2,993.19 L335.7,993.22 L336.2,993.25 L336.7,993.28 L337.2,993.31 L337.7,993.34 L338.2,993.37 L338.7,993.4 L339.2,993.43 L339.7,993.46 L340.2,993.49 L340.7,993.52 L341.2,993.55 L341.7,993.58 L342.2,993.61 L342.7,993.64 L343.2,993.67 L343.7,993.7 L344.2,993.73 L344.7,993.76 L345.2,993.79 L345.7,993.82 L346.2,993.85 L346.7,993.88 L347.2,993.91 L347.7,993.94 L348.2,993.97 L348.7,994 L349.2,994.03 L349.7,994.06 L350.2,994.09 L350.7,994.12 L351.2,994.15 L351.7,994.18 L352.2,994.21 L352.7,994.24 L353.2,994.27 L353.7,994.3 L354.2,994.33 L354.7,994.36 L355.2,994.39 L355.7,994.42 L356.2,994.45 L356.7,994.48 L357.2,994.51 L357.7,994.54 L358.2,994.57 L358.7,994.59 L359.2,994.62 L359.7,994.65 L360.2,994.68 L360.7,994.71 L361.2,994.74 L361.7,994.76 L362.2,994.79 L362.7,994.82 L363.2,994.85 L363.7,994.87 L364.2,994.9 L364.7,994.93 L365.2,994.95 L365.7,994.98 L366.2,995.01 L366.7,995.03 L367.2,995.06 L367.7,995.08 L368.2,995.11 L368.7,995.14 L369.2,995.16 L369.7,995.19 L370.2,995.21 L370.7,995.24 L371.2,995.26 L371.7,995.29 L372.2,995.32 L372.7,995.34 L373.2,995.37 L373.7,995.4 L374.2,995.42 L374.7,995.45 L375.2,995.47 L375.7,995.5 L376.2,995.53 L376.7,995.55 L377.2,995.58 L377.7,995.61 L378.2,995.64 L378.7,995.66 L379.2,995.69 L379.7,995.72 L380.2,995.74 L380.7,995.77 L381.2,995.8 L381.7,995.83 L382.2,995.85 L382.7,995.88 L383.2,995.91 L383.7,995.94 L384.2,995.97 L384.7,995.99 L385.2,996.02 L385.7,996.05 L386.2,996.08 L386.7,996.11 L387.2,996.13 L387.7,996.16 L388.2,996.19 L388.7,996.22 L389.2,996.25 L389.7,996.28 L390.2,996.3 L390.7,996.33 L391.2,996.36 L391.7,996.39 L392.2,996.42 L392.7,996.45 L393.2,996.48 L393.7,996.51 L394.2,996.54 L394.7,996.56 L395.2,996.59 L395.7,996.62 L396.2,996.65 L396.7,996.68 L397.2,996.71 L397.7,996.74 L398.2,996.77 L398.7,996.8 L399.2,996.83 L399.7,996.86 L400.2,996.89 L400.7,996.91 L401.2,996.94 L401.7,996.97 L402.2,997 L402.7,997.03 L403.2,997.06 L403.7,997.09 L404.2,997.12 L404.7,997.15 L405.2,997.18 L405.7,997.21 L406.2,997.24 L406.7,997.27 L407.2,997.3 L407.7,997.33 L408.2,997.36 L408.7,997.39 L409.2,997.42 L409.7,997.45 L410.2,997.48 L410.7,997.51 L411.2,997.54 L411.7,997.57 L412.2,997.6 L412.7,997.63 L413.2,997.66 L413.7,997.69 L414.2,997.72 L414.7,997.75 L415.2,997.78 L415.7,997.81 L416.2,997.84 L416.7,997.87 L417.2,997.89 L417.7,997.92 L418.2,997.95 L418.7,997.98 L419.2,998.01 L419.7,998.04 L420.2,998.07 L420.7,998.1 L421.2,998.13 L421.7,998.16 L422.2,998.19 L422.7,998.22 L423.2,998.25 L423.7,998.28 L424.2,998.31 L424.7,998.34 L425.2,998.37 L425.7,998.4 L426.2,998.43 L426.7,998.46 L427.2,998.49 L427.7,998.52 L428.2,998.55 L428.7,998.58 L429.2,998.61 L429.7,998.64 L430.2,998.67 L430.7,998.69 L431.2,998.72 L431.7,998.75 L432.2,998.78 L432.7,998.81 L433.2,998.84 L433.7,998.87 L434.2,998.9 L434.7,998.93 L435.2,998.96 L435.7,998.99 L436.2,999.02 L436.7,999.05 L437.2,999.07 L437.7,999.1 L438.2,999.13 L438.7,999.16 L439.2,999.19 L439.7,999.22 L440.2,999.25 L440.7,999.28 L441.2,999.31 L441.7,999.34 L442.2,999.37 L442.7,999.4 L443.2,999.43 L443.7,999.46 L444.2,999.49 L444.7,999.51 L445.2,999.54 L445.7,999.57 L446.2,999.6 L446.7,999.63 L447.2,999.66 L447.7,999.69 L448.2,999.72 L448.7,999.75 L449.2,999.78 L449.7,999.81 L450.2,999.84 L450.7,999.87 L451.2,999.9 L451.7,999.93 L452.2,999.96 L452.7,999.99 L453.2,1000.02 L453.7,1000.05 L454.2,1000.07 L454.7,1000.1 L455.2,1000.13 L455.7,1000.16 L456.2,1000.19 L456.7,1000.22 L457.2,1000.25 L457.7,1000.28 L458.2,1000.31 L458.7,1000.34 L459.2,1000.37 L459.7,1000.4 L460.2,1000.43 L460.7,1000.46 L461.2,1000.49 L461.7,1000.52 L462.2,1000.55 L462.7,1000.58 L463.2,1000.61 L463.7,1000.64 L464.2,1000.67 L464.7,1000.7 L465.2,1000.73 L465.7,1000.76 L466.2,1000.79 L466.7,1000.82 L467.2,1000.85 L467.7,1000.88 L468.2,1000.91 L468.7,1000.94 L469.2,1000.97 L469.7,1001 L470.2,1001.03 L470.7,1001.06 L471.2,1001.08 L471.7,1001.11 L472.2,1001.14 L472.7,1001.17 L473.2,1001.2 L473.7,1001.23 L474.2,1001.26 L474.7,1001.29 L475.2,1001.32 L475.7,1001.35 L476.2,1001.38 L476.7,1001.41 L477.2,1001.44 L477.7,1001.47 L478.2,1001.5 L478.7,1001.53 L479.2,1001.56 L479.7,1001.59 L480.2,1001.62 L480.7,1001.65 L481.2,1001.68 L481.7,1001.71 L482.2,1001.74 L482.7,1001.77 L483.2,1001.8 L483.7,1001.83 L484.2,1001.86 L484.7,1001.89 L485.2,1001.92 L485.7,1001.95 L486.2,1001.98 L486.7,1002.01 L487.2,1002.04 L487.7,1002.07 L488.2,1002.1 L488.7,1002.13 L489.2,1002.16 L489.7,1002.19 L490.2,1002.22 L490.7,1002.26 L491.2,1002.29 L491.7,1002.32 L492.2,1002.35 L492.7,1002.38" stroke="#d8202a" stroke-dasharray="10.4 4.5"/>
<path d="M113.2,1001.4 L113.7,1001.44 L114.2,1001.49 L114.7,1001.53 L115.2,1001.57 L115.7,1001.6 L116.2,1001.64 L116.7,1001.68 L117.2,1001.72 L117.7,1001.75 L118.2,1001.79 L118.7,1001.82 L119.2,1001.85 L119.7,1001.88 L120.2,1001.91 L120.7,1001.94 L121.2,1001.97 L121.7,1002 L122.2,1002.03 L122.7,1002.05 L123.2,1002.08 L123.7,1002.1 L124.2,1002.13 L124.7,1002.15 L125.2,1002.17 L125.7,1002.19 L126.2,1002.21 L126.7,1002.23 L127.2,1002.25 L127.7,1002.27 L128.2,1002.29 L128.7,1002.31 L129.2,1002.32 L129.7,1002.34 L130.2,1002.36 L130.7,1002.37 L131.2,1002.38 L131.7,1002.4 L132.2,1002.41 L132.7,1002.42 L133.2,1002.44 L133.7,1002.45 L134.2,1002.46 L134.7,1002.47 L135.2,1002.48 L135.7,1002.49 L136.2,1002.5 L136.7,1002.5 L137.2,1002.51 L137.7,1002.52 L138.2,1002.53 L138.7,1002.53 L139.2,1002.54 L139.7,1002.55 L140.2,1002.55 L140.7,1002.56 L141.2,1002.56 L141.7,1002.56 L142.2,1002.57 L142.7,1002.57 L143.2,1002.58 L143.7,1002.58 L144.2,1002.58 L144.7,1002.58 L145.2,1002.59 L145.7,1002.59 L146.2,1002.59 L146.7,1002.59 L147.2,1002.59 L147.7,1002.6 L148.2,1002.6 L148.7,1002.6 L149.2,1002.6 L149.7,1002.6 L150.2,1002.6 L150.7,1002.6 L151.2,1002.6 L151.7,1002.6 L152.2,1002.6 L152.7,1002.6 L153.2,1002.6 L153.7,1002.6 L154.2,1002.6 L154.7,1002.59 L155.2,1002.59 L155.7,1002.58 L156.2,1002.57 L156.7,1002.56 L157.2,1002.55 L157.7,1002.54 L158.2,1002.52 L158.7,1002.51 L159.2,1002.49 L159.7,1002.47 L160.2,1002.45 L160.7,1002.43 L161.2,1002.41 L161.7,1002.38 L162.2,1002.36 L162.7,1002.33 L163.2,1002.31 L163.7,1002.28 L164.2,1002.25 L164.7,1002.22 L165.2,1002.19 L165.7,1002.16 L166.2,1002.12 L166.7,1002.09 L167.2,1002.05 L167.7,1002.02 L168.2,1001.98 L168.7,1001.94 L169.2,1001.9 L169.7,1001.86 L170.2,1001.82 L170.7,1001.77 L171.2,1001.73 L171.7,1001.69 L172.2,1001.64 L172.7,1001.59 L173.2,1001.55 L173.7,1001.5 L174.2,1001.45 L174.7,1001.4 L175.2,1001.35 L175.7,1001.3 L176.2,1001.25 L176.7,1001.2 L177.2,1001.14 L177.7,1001.09 L178.2,1001.03 L178.7,1000.98 L179.2,1000.92 L179.7,1000.87 L180.2,1000.81 L180.7,1000.75 L181.2,1000.7 L181.7,1000.64 L182.2,1000.58 L182.7,1000.52 L183.2,1000.46 L183.7,1000.4 L184.2,1000.34 L184.7,1000.27 L185.2,1000.21 L185.7,1000.15 L186.2,1000.09 L186.7,1000.02 L187.2,999.96 L187.7,999.9 L188.2,999.83 L188.7,999.77 L189.2,999.7 L189.7,999.64 L190.2,999.57 L190.7,999.51 L191.2,999.44 L191.7,999.37 L192.2,999.31 L192.7,999.24 L193.2,999.17 L193.7,999.11 L194.2,999.04 L194.7,998.97 L195.2,998.91 L195.7,998.84 L196.2,998.77 L196.7,998.7 L197.2,998.63 L197.7,998.56 L198.2,998.49 L198.7,998.41 L199.2,998.34 L199.7,998.26 L200.2,998.18 L200.7,998.09 L201.2,998.01 L201.7,997.92 L202.2,997.83 L202.7,997.75 L203.2,997.65 L203.7,997.56 L204.2,997.46 L204.7,997.37 L205.2,997.27 L205.7,997.17 L206.2,997.06 L206.7,996.96 L207.2,996.85 L207.7,996.74 L208.2,996.63 L208.7,996.52 L209.2,996.41 L209.7,996.29 L210.2,996.17 L210.7,996.05 L211.2,995.93 L211.7,995.81 L212.2,995.68 L212.7,995.55 L213.2,995.42 L213.7,995.29 L214.2,995.15 L214.7,995.01 L215.2,994.88 L215.7,994.73 L216.2,994.59 L216.7,994.45 L217.2,994.3 L217.7,994.15 L218.2,994 L218.7,993.84 L219.2,993.69 L219.7,993.53 L220.2,993.37 L220.7,993.2 L221.2,993.04 L221.7,992.87 L222.2,992.7 L222.7,992.53 L223.2,992.36 L223.7,992.18 L224.2,992 L224.7,991.82 L225.2,991.64 L225.7,991.45 L226.2,991.26 L226.7,991.07 L227.2,990.87 L227.7,990.66 L228.2,990.44 L228.7,990.22 L229.2,989.99 L229.7,989.75 L230.2,989.5 L230.7,989.25 L231.2,988.99 L231.7,988.72 L232.2,988.45 L232.7,988.17 L233.2,987.88 L233.7,987.58 L234.2,987.27 L234.7,986.96 L235.2,986.64 L235.7,986.31 L236.2,985.97 L236.7,985.63 L237.2,985.28 L237.7,984.92 L238.2,984.55 L238.7,984.18 L239.2,983.8 L239.7,983.41 L240.2,983.01 L240.7,982.61 L241.2,982.19 L241.7,981.77 L242.2,981.34 L242.7,980.9 L243.2,980.46 L243.7,980.01 L244.2,979.55 L244.7,979.08 L245.2,978.6 L245.7,978.12 L246.2,977.62 L246.7,977.12 L247.2,976.61 L247.7,976.1 L248.2,975.55 L248.7,974.98 L249.2,974.38 L249.7,973.74 L250.2,973.08 L250.7,972.39 L251.2,971.67 L251.7,970.92 L252.2,970.15 L252.7,969.35 L253.2,968.52 L253.7,967.68 L254.2,966.8 L254.7,965.91 L255.2,964.99 L255.7,964.05 L256.2,963.09 L256.7,962.11 L257.2,961.11 L257.7,960.09 L258.2,959.05 L258.7,958 L259.2,956.93 L259.7,955.84 L260.2,954.74 L260.7,953.62 L261.2,952.49 L261.7,951.35 L262.2,950.19 L262.7,949.02 L263.2,947.84 L263.7,946.65 L264.2,945.45 L264.7,944.24 L265.2,943.01 L265.7,941.72 L266.2,940.38 L266.7,938.99 L267.2,937.55 L267.7,936.06 L268.2,934.53 L268.7,932.97 L269.2,931.36 L269.7,929.72 L270.2,928.05 L270.7,926.35 L271.2,924.62 L271.7,922.87 L272.2,921.1 L272.7,919.31 L273.2,917.5 L273.7,915.69 L274.2,913.86 L274.7,912.02 L275.2,910.18 L275.7,908.34 L276.2,906.5 L276.7,904.66 L277.2,902.82 L277.7,901 L278.2,899.13 L278.7,897.15 L279.2,895.09 L279.7,892.95 L280.2,890.76 L280.7,888.52 L281.2,886.25 L281.7,883.96 L282.2,881.66 L282.7,879.37 L283.2,877.11 L283.7,874.88 L284.2,872.7 L284.7,870.58 L285.2,868.54 L285.7,866.59 L286.2,864.75 L286.7,863.02 L287.2,861.43 L287.7,859.98 L288.2,858.69 L288.7,857.56 L289.2,856.44 L289.7,855.32 L290.2,854.21 L290.7,853.13 L291.2,852.09 L291.7,851.1 L292.2,850.2 L292.7,849.38 L293.2,848.67 L293.7,848.08 L294.2,847.63 L294.7,847.33 L295.2,847.2 L295.7,847.23 L296.2,847.34 L296.7,847.54 L297.2,847.81 L297.7,848.16 L298.2,848.58 L298.7,849.06 L299.2,849.6 L299.7,850.19 L300.2,850.84 L300.7,851.53 L301.2,852.27 L301.7,853.04 L302.2,853.84 L302.7,854.67 L303.2,855.52 L303.7,856.4 L304.2,857.28 L304.7,858.18 L305.2,859.24 L305.7,860.5 L306.2,861.95 L306.7,863.57 L307.2,865.36 L307.7,867.28 L308.2,869.34 L308.7,871.51 L309.2,873.77 L309.7,876.12 L310.2,878.53 L310.7,880.98 L311.2,883.47 L311.7,885.98 L312.2,888.49 L312.7,890.98 L313.2,893.45 L313.7,895.86 L314.2,898.22 L314.7,900.49 L315.2,902.68 L315.7,904.8 L316.2,906.97 L316.7,909.18 L317.2,911.42 L317.7,913.68 L318.2,915.96 L318.7,918.24 L319.2,920.52 L319.7,922.79 L320.2,925.04 L320.7,927.26 L321.2,929.44 L321.7,931.58 L322.2,933.67 L322.7,935.7 L323.2,937.65 L323.7,939.53 L324.2,941.33 L324.7,943.03 L325.2,944.63 L325.7,946.21 L326.2,947.78 L326.7,949.34 L327.2,950.87 L327.7,952.4 L328.2,953.9 L328.7,955.38 L329.2,956.83 L329.7,958.27 L330.2,959.67 L330.7,961.04 L331.2,962.38 L331.7,963.69 L332.2,964.96 L332.7,966.19 L333.2,967.38 L333.7,968.53 L334.2,969.63 L334.7,970.69 L335.2,971.7 L335.7,972.65 L336.2,973.56 L336.7,974.4 L337.2,975.19 L337.7,975.92 L338.2,976.6 L338.7,977.26 L339.2,977.91 L339.7,978.54 L340.2,979.15 L340.7,979.76 L341.2,980.35 L341.7,980.92 L342.2,981.48 L342.7,982.03 L343.2,982.57 L343.7,983.09 L344.2,983.6 L344.7,984.1 L345.2,984.59 L345.7,985.07 L346.2,985.53 L346.7,985.99 L347.2,986.43 L347.7,986.86 L348.2,987.28 L348.7,987.69 L349.2,988.1 L349.7,988.49 L350.2,988.87 L350.7,989.24 L351.2,989.61 L351.7,989.96 L352.2,990.31 L352.7,990.64 L353.2,990.97 L353.7,991.3 L354.2,991.61 L354.7,991.92 L355.2,992.22 L355.7,992.51 L356.2,992.79 L356.7,993.07 L357.2,993.35 L357.7,993.61 L358.2,993.88 L358.7,994.14 L359.2,994.4 L359.7,994.66 L360.2,994.92 L360.7,995.18 L361.2,995.43 L361.7,995.68 L362.2,995.93 L362.7,996.17 L363.2,996.41 L363.7,996.65 L364.2,996.89 L364.7,997.13 L365.2,997.36 L365.7,997.59 L366.2,997.82 L366.7,998.05 L367.2,998.27 L367.7,998.49 L368.2,998.71 L368.7,998.92 L369.2,999.14 L369.7,999.35 L370.2,999.55 L370.7,999.76 L371.2,999.96 L371.7,1000.16 L372.2,1000.35 L372.7,1000.55 L373.2,1000.74 L373.7,1000.92 L374.2,1001.11 L374.7,1001.29 L375.2,1001.47 L375.7,1001.64 L376.2,1001.81 L376.7,1001.98 L377.2,1002.15 L377.7,1002.31 L378.2,1002.47 L378.7,1002.63 L379.2,1002.78 L379.7,1002.93 L380.2,1003.08 L380.7,1003.23 L381.2,1003.37 L381.7,1003.5 L382.2,1003.64 L382.7,1003.77 L383.2,1003.9 L383.7,1004.02 L384.2,1004.14 L384.7,1004.26 L385.2,1004.37 L385.7,1004.48 L386.2,1004.59 L386.7,1004.69 L387.2,1004.79 L387.7,1004.89 L388.2,1004.98 L388.7,1005.07 L389.2,1005.15 L389.7,1005.23 L390.2,1005.31 L390.7,1005.39 L391.2,1005.47 L391.7,1005.55 L392.2,1005.62 L392.7,1005.7 L393.2,1005.77 L393.7,1005.84 L394.2,1005.92 L394.7,1005.99 L395.2,1006.06 L395.7,1006.13 L396.2,1006.2 L396.7,1006.26 L397.2,1006.33 L397.7,1006.4 L398.2,1006.46 L398.7,1006.52 L399.2,1006.59 L399.7,1006.65 L400.2,1006.71 L400.7,1006.77 L401.2,1006.83 L401.7,1006.89 L402.2,1006.95 L402.7,1007.01 L403.2,1007.07 L403.7,1007.12 L404.2,1007.18 L404.7,1007.23 L405.2,1007.29 L405.7,1007.34 L406.2,1007.4 L406.7,1007.45 L407.2,1007.5 L407.7,1007.55 L408.2,1007.6 L408.7,1007.65 L409.2,1007.7 L409.7,1007.75 L410.2,1007.8 L410.7,1007.84 L411.2,1007.89 L411.7,1007.94 L412.2,1007.98 L412.7,1008.03 L413.2,1008.07 L413.7,1008.12 L414.2,1008.16 L414.7,1008.2 L415.2,1008.25 L415.7,1008.29 L416.2,1008.33 L416.7,1008.37 L417.2,1008.41 L417.7,1008.45 L418.2,1008.49 L418.7,1008.53 L419.2,1008.57 L419.7,1008.61 L420.2,1008.65 L420.7,1008.68 L421.2,1008.72 L421.7,1008.76 L422.2,1008.8 L422.7,1008.83 L423.2,1008.87 L423.7,1008.91 L424.2,1008.94 L424.7,1008.98 L425.2,1009.01 L425.7,1009.05 L426.2,1009.08 L426.7,1009.12 L427.2,1009.15 L427.7,1009.18 L428.2,1009.22 L428.7,1009.25 L429.2,1009.28 L429.7,1009.32 L430.2,1009.35 L430.7,1009.38 L431.2,1009.42 L431.7,1009.45 L432.2,1009.48 L432.7,1009.51 L433.2,1009.55 L433.7,1009.58 L434.2,1009.61 L434.7,1009.64 L435.2,1009.67 L435.7,1009.71 L436.2,1009.74 L436.7,1009.77 L437.2,1009.8 L437.7,1009.83 L438.2,1009.86 L438.7,1009.9 L439.2,1009.93 L439.7,1009.96 L440.2,1009.99 L440.7,1010.02 L441.2,1010.05 L441.7,1010.08 L442.2,1010.11 L442.7,1010.15 L443.2,1010.18 L443.7,1010.21 L444.2,1010.24 L444.7,1010.27 L445.2,1010.3 L445.7,1010.33 L446.2,1010.36 L446.7,1010.39 L447.2,1010.42 L447.7,1010.45 L448.2,1010.48 L448.7,1010.51 L449.2,1010.54 L449.7,1010.57 L450.2,1010.6 L450.7,1010.62 L451.2,1010.65 L451.7,1010.68 L452.2,1010.71 L452.7,1010.74 L453.2,1010.77 L453.7,1010.8 L454.2,1010.82 L454.7,1010.85 L455.2,1010.88 L455.7,1010.91 L456.2,1010.93 L456.7,1010.96 L457.2,1010.99 L457.7,1011.01 L458.2,1011.04 L458.7,1011.07 L459.2,1011.09 L459.7,1011.12 L460.2,1011.15 L460.7,1011.17 L461.2,1011.2 L461.7,1011.22 L462.2,1011.25 L462.7,1011.27 L463.2,1011.3 L463.7,1011.32 L464.2,1011.35 L464.7,1011.37 L465.2,1011.39 L465.7,1011.42 L466.2,1011.44 L466.7,1011.46 L467.2,1011.49 L467.7,1011.51 L468.2,1011.53 L468.7,1011.55 L469.2,1011.58 L469.7,1011.6 L470.2,1011.62 L470.7,1011.64 L471.2,1011.66 L471.7,1011.68 L472.2,1011.7 L472.7,1011.72 L473.2,1011.74 L473.7,1011.76 L474.2,1011.78 L474.7,1011.8 L475.2,1011.82 L475.7,1011.84 L476.2,1011.86 L476.7,1011.88 L477.2,1011.89 L477.7,1011.91 L478.2,1011.93 L478.7,1011.95 L479.2,1011.96 L479.7,1011.98 L480.2,1012 L480.7,1012.01 L481.2,1012.03 L481.7,1012.04 L482.2,1012.06 L482.7,1012.07 L483.2,1012.09 L483.7,1012.1 L484.2,1012.11 L484.7,1012.13 L485.2,1012.14 L485.7,1012.15 L486.2,1012.16 L486.7,1012.18 L487.2,1012.19 L487.7,1012.2 L488.2,1012.21 L488.7,1012.22 L489.2,1012.23 L489.7,1012.24 L490.2,1012.25 L490.7,1012.26 L491.2,1012.27 L491.7,1012.28 L492.2,1012.29 L492.7,1012.29" stroke="#1c34b0" stroke-dasharray="10.4 4.5"/>
<path d="M113.2,760.4 L113.7,760.45 L114.2,760.49 L114.7,760.54 L115.2,760.58 L115.7,760.63 L116.2,760.67 L116.7,760.71 L117.2,760.76 L117.7,760.8 L118.2,760.85 L118.7,760.89 L119.2,760.94 L119.7,760.98 L120.2,761.02 L120.7,761.07 L121.2,761.11 L121.7,761.15 L122.2,761.2 L122.7,761.24 L123.2,761.28 L123.7,761.32 L124.2,761.37 L124.7,761.41 L125.2,761.45 L125.7,761.49 L126.2,761.54 L126.7,761.58 L127.2,761.62 L127.7,761.66 L128.2,761.7 L128.7,761.74 L129.2,761.78 L129.7,761.83 L130.2,761.87 L130.7,761.91 L131.2,761.95 L131.7,761.99 L132.2,762.03 L132.7,762.07 L133.2,762.11 L133.7,762.15 L134.2,762.19 L134.7,762.23 L135.2,762.27 L135.7,762.3 L136.2,762.34 L136.7,762.38 L137.2,762.42 L137.7,762.46 L138.2,762.5 L138.7,762.53 L139.2,762.57 L139.7,762.61 L140.2,762.65 L140.7,762.68 L141.2,762.72 L141.7,762.76 L142.2,762.79 L142.7,762.83 L143.2,762.87 L143.7,762.9 L144.2,762.94 L144.7,762.97 L145.2,763.01 L145.7,763.05 L146.2,763.08 L146.7,763.11 L147.2,763.15 L147.7,763.18 L148.2,763.22 L148.7,763.25 L149.2,763.29 L149.7,763.32 L150.2,763.35 L150.7,763.39 L151.2,763.42 L151.7,763.45 L152.2,763.48 L152.7,763.52 L153.2,763.55 L153.7,763.58 L154.2,763.61 L154.7,763.64 L155.2,763.68 L155.7,763.71 L156.2,763.74 L156.7,763.77 L157.2,763.8 L157.7,763.83 L158.2,763.86 L158.7,763.89 L159.2,763.92 L159.7,763.95 L160.2,763.98 L160.7,764 L161.2,764.03 L161.7,764.06 L162.2,764.09 L162.7,764.12 L163.2,764.14 L163.7,764.17 L164.2,764.2 L164.7,764.23 L165.2,764.25 L165.7,764.28 L166.2,764.3 L166.7,764.33 L167.2,764.36 L167.7,764.38 L168.2,764.41 L168.7,764.43 L169.2,764.46 L169.7,764.48 L170.2,764.5 L170.7,764.53 L171.2,764.55 L171.7,764.57 L172.2,764.6 L172.7,764.62 L173.2,764.64 L173.7,764.67 L174.2,764.69 L174.7,764.71 L175.2,764.73 L175.7,764.75 L176.2,764.77 L176.7,764.8 L177.2,764.82 L177.7,764.84 L178.2,764.86 L178.7,764.88 L179.2,764.91 L179.7,764.93 L180.2,764.95 L180.7,764.97 L181.2,764.99 L181.7,765.02 L182.2,765.04 L182.7,765.06 L183.2,765.08 L183.7,765.11 L184.2,765.13 L184.7,765.15 L185.2,765.17 L185.7,765.19 L186.2,765.22 L186.7,765.24 L187.2,765.26 L187.7,765.28 L188.2,765.3 L188.7,765.33 L189.2,765.35 L189.7,765.37 L190.2,765.39 L190.7,765.41 L191.2,765.43 L191.7,765.45 L192.2,765.48 L192.7,765.5 L193.2,765.52 L193.7,765.54 L194.2,765.56 L194.7,765.58 L195.2,765.6 L195.7,765.62 L196.2,765.64 L196.7,765.66 L197.2,765.68 L197.7,765.7 L198.2,765.72 L198.7,765.74 L199.2,765.76 L199.7,765.78 L200.2,765.8 L200.7,765.81 L201.2,765.83 L201.7,765.85 L202.2,765.87 L202.7,765.89 L203.2,765.91 L203.7,765.92 L204.2,765.94 L204.7,765.96 L205.2,765.97 L205.7,765.99 L206.2,766.01 L206.7,766.02 L207.2,766.04 L207.7,766.05 L208.2,766.07 L208.7,766.08 L209.2,766.1 L209.7,766.11 L210.2,766.13 L210.7,766.14 L211.2,766.15 L211.7,766.17 L212.2,766.18 L212.7,766.19 L213.2,766.21 L213.7,766.22 L214.2,766.23 L214.7,766.24 L215.2,766.25 L215.7,766.26 L216.2,766.27 L216.7,766.28 L217.2,766.29 L217.7,766.3 L218.2,766.31 L218.7,766.32 L219.2,766.33 L219.7,766.33 L220.2,766.34 L220.7,766.35 L221.2,766.35 L221.7,766.36 L222.2,766.37 L222.7,766.37 L223.2,766.38 L223.7,766.38 L224.2,766.38 L224.7,766.39 L225.2,766.39 L225.7,766.39 L226.2,766.4 L226.7,766.4 L227.2,766.4 L227.7,766.4 L228.2,766.4 L228.7,766.4 L229.2,766.4 L229.7,766.4 L230.2,766.4 L230.7,766.39 L231.2,766.39 L231.7,766.39 L232.2,766.39 L232.7,766.38 L233.2,766.38 L233.7,766.37 L234.2,766.37 L234.7,766.36 L235.2,766.36 L235.7,766.35 L236.2,766.34 L236.7,766.34 L237.2,766.33 L237.7,766.32 L238.2,766.31 L238.7,766.3 L239.2,766.29 L239.7,766.28 L240.2,766.27 L240.7,766.26 L241.2,766.25 L241.7,766.24 L242.2,766.23 L242.7,766.22 L243.2,766.21 L243.7,766.19 L244.2,766.18 L244.7,766.17 L245.2,766.16 L245.7,766.14 L246.2,766.13 L246.7,766.11 L247.2,766.1 L247.7,766.08 L248.2,766.07 L248.7,766.05 L249.2,766.04 L249.7,766.02 L250.2,766.01 L250.7,765.99 L251.2,765.97 L251.7,765.96 L252.2,765.94 L252.7,765.92 L253.2,765.9 L253.7,765.89 L254.2,765.87 L254.7,765.85 L255.2,765.83 L255.7,765.81 L256.2,765.79 L256.7,765.77 L257.2,765.75 L257.7,765.73 L258.2,765.71 L258.7,765.69 L259.2,765.67 L259.7,765.65 L260.2,765.63 L260.7,765.61 L261.2,765.59 L261.7,765.57 L262.2,765.55 L262.7,765.53 L263.2,765.51 L263.7,765.49 L264.2,765.46 L264.7,765.44 L265.2,765.42 L265.7,765.4 L266.2,765.38 L266.7,765.35 L267.2,765.33 L267.7,765.31 L268.2,765.29 L268.7,765.26 L269.2,765.24 L269.7,765.22 L270.2,765.2 L270.7,765.17 L271.2,765.15 L271.7,765.13 L272.2,765.1 L272.7,765.08 L273.2,765.06 L273.7,765.04 L274.2,765.01 L274.7,764.99 L275.2,764.97 L275.7,764.94 L276.2,764.92 L276.7,764.9 L277.2,764.87 L277.7,764.85 L278.2,764.83 L278.7,764.8 L279.2,764.78 L279.7,764.76 L280.2,764.74 L280.7,764.71 L281.2,764.69 L281.7,764.67 L282.2,764.64 L282.7,764.62 L283.2,764.6 L283.7,764.58 L284.2,764.55 L284.7,764.53 L285.2,764.51 L285.7,764.49 L286.2,764.46 L286.7,764.44 L287.2,764.42 L287.7,764.4 L288.2,764.38 L288.7,764.36 L289.2,764.33 L289.7,764.31 L290.2,764.29 L290.7,764.27 L291.2,764.25 L291.7,764.23 L292.2,764.21 L292.7,764.19 L293.2,764.17 L293.7,764.15 L294.2,764.13 L294.7,764.11 L295.2,764.09 L295.7,764.07 L296.2,764.05 L296.7,764.03 L297.2,764.01 L297.7,763.99 L298.2,763.96 L298.7,763.94 L299.2,763.92 L299.7,763.9 L300.2,763.88 L300.7,763.85 L301.2,763.83 L301.7,763.81 L302.2,763.78 L302.7,763.76 L303.2,763.74 L303.7,763.71 L304.2,763.69 L304.7,763.66 L305.2,763.64 L305.7,763.61 L306.2,763.59 L306.7,763.56 L307.2,763.54 L307.7,763.51 L308.2,763.49 L308.7,763.46 L309.2,763.43 L309.7,763.41 L310.2,763.38 L310.7,763.35 L311.2,763.33 L311.7,763.3 L312.2,763.27 L312.7,763.25 L313.2,763.22 L313.7,763.19 L314.2,763.16 L314.7,763.14 L315.2,763.11 L315.7,763.08 L316.2,763.05 L316.7,763.02 L317.2,763 L317.7,762.97 L318.2,762.94 L318.7,762.91 L319.2,762.88 L319.7,762.86 L320.2,762.83 L320.7,762.8 L321.2,762.77 L321.7,762.74 L322.2,762.71 L322.7,762.68 L323.2,762.66 L323.7,762.63 L324.2,762.6 L324.7,762.57 L325.2,762.54 L325.7,762.51 L326.2,762.49 L326.7,762.46 L327.2,762.43 L327.7,762.4 L328.2,762.37 L328.7,762.34 L329.2,762.32 L329.7,762.29 L330.2,762.26 L330.7,762.23 L331.2,762.21 L331.7,762.18 L332.2,762.15 L332.7,762.12 L333.2,762.1 L333.7,762.07 L334.2,762.04 L334.7,762.01 L335.2,761.99 L335.7,761.96 L336.2,761.93 L336.7,761.91 L337.2,761.88 L337.7,761.86 L338.2,761.83 L338.7,761.8 L339.2,761.78 L339.7,761.75 L340.2,761.73 L340.7,761.7 L341.2,761.68 L341.7,761.65 L342.2,761.63 L342.7,761.6 L343.2,761.58 L343.7,761.56 L344.2,761.53 L344.7,761.51 L345.2,761.49 L345.7,761.46 L346.2,761.44 L346.7,761.42 L347.2,761.4 L347.7,761.38 L348.2,761.36 L348.7,761.33 L349.2,761.31 L349.7,761.29 L350.2,761.27 L350.7,761.25 L351.2,761.23 L351.7,761.21 L352.2,761.2 L352.7,761.18 L353.2,761.16 L353.7,761.14 L354.2,761.12 L354.7,761.11 L355.2,761.09 L355.7,761.07 L356.2,761.06 L356.7,761.04 L357.2,761.03 L357.7,761.01 L358.2,761 L358.7,760.98 L359.2,760.97 L359.7,760.96 L360.2,760.94 L360.7,760.93 L361.2,760.92 L361.7,760.91 L362.2,760.9 L362.7,760.88 L363.2,760.87 L363.7,760.86 L364.2,760.86 L364.7,760.85 L365.2,760.84 L365.7,760.83 L366.2,760.82 L366.7,760.82 L367.2,760.81 L367.7,760.8 L368.2,760.8 L368.7,760.79 L369.2,760.79 L369.7,760.78 L370.2,760.78 L370.7,760.77 L371.2,760.77 L371.7,760.76 L372.2,760.76 L372.7,760.75 L373.2,760.75 L373.7,760.74 L374.2,760.74 L374.7,760.73 L375.2,760.73 L375.7,760.72 L376.2,760.72 L376.7,760.71 L377.2,760.71 L377.7,760.7 L378.2,760.7 L378.7,760.69 L379.2,760.69 L379.7,760.68 L380.2,760.68 L380.7,760.67 L381.2,760.67 L381.7,760.66 L382.2,760.66 L382.7,760.65 L383.2,760.65 L383.7,760.64 L384.2,760.64 L384.7,760.63 L385.2,760.63 L385.7,760.63 L386.2,760.62 L386.7,760.62 L387.2,760.61 L387.7,760.61 L388.2,760.6 L388.7,760.6 L389.2,760.6 L389.7,760.59 L390.2,760.59 L390.7,760.58 L391.2,760.58 L391.7,760.58 L392.2,760.57 L392.7,760.57 L393.2,760.56 L393.7,760.56 L394.2,760.56 L394.7,760.55 L395.2,760.55 L395.7,760.55 L396.2,760.54 L396.7,760.54 L397.2,760.53 L397.7,760.53 L398.2,760.53 L398.7,760.52 L399.2,760.52 L399.7,760.52 L400.2,760.51 L400.7,760.51 L401.2,760.51 L401.7,760.5 L402.2,760.5 L402.7,760.5 L403.2,760.49 L403.7,760.49 L404.2,760.49 L404.7,760.49 L405.2,760.48 L405.7,760.48 L406.2,760.48 L406.7,760.47 L407.2,760.47 L407.7,760.47 L408.2,760.47 L408.7,760.46 L409.2,760.46 L409.7,760.46 L410.2,760.46 L410.7,760.45 L411.2,760.45 L411.7,760.45 L412.2,760.45 L412.7,760.44 L413.2,760.44 L413.7,760.44 L414.2,760.44 L414.7,760.44 L415.2,760.43 L415.7,760.43 L416.2,760.43 L416.7,760.43 L417.2,760.43 L417.7,760.43 L418.2,760.42 L418.7,760.42 L419.2,760.42 L419.7,760.42 L420.2,760.42 L420.7,760.42 L421.2,760.42 L421.7,760.41 L422.2,760.41 L422.7,760.41 L423.2,760.41 L423.7,760.41 L424.2,760.41 L424.7,760.41 L425.2,760.41 L425.7,760.41 L426.2,760.4 L426.7,760.4 L427.2,760.4 L427.7,760.4 L428.2,760.4 L428.7,760.4 L429.2,760.4 L429.7,760.4 L430.2,760.4 L430.7,760.4 L431.2,760.4 L431.7,760.4 L432.2,760.4 L432.7,760.4 L433.2,760.4 L433.7,760.4 L434.2,760.4 L434.7,760.4 L435.2,760.4 L435.7,760.4 L436.2,760.41 L436.7,760.41 L437.2,760.41 L437.7,760.41 L438.2,760.41 L438.7,760.42 L439.2,760.42 L439.7,760.42 L440.2,760.42 L440.7,760.43 L441.2,760.43 L441.7,760.43 L442.2,760.44 L442.7,760.44 L443.2,760.44 L443.7,760.45 L444.2,760.45 L444.7,760.46 L445.2,760.46 L445.7,760.47 L446.2,760.47 L446.7,760.48 L447.2,760.48 L447.7,760.49 L448.2,760.49 L448.7,760.5 L449.2,760.5 L449.7,760.51 L450.2,760.52 L450.7,760.52 L451.2,760.53 L451.7,760.54 L452.2,760.54 L452.7,760.55 L453.2,760.56 L453.7,760.57 L454.2,760.57 L454.7,760.58 L455.2,760.59 L455.7,760.6 L456.2,760.6 L456.7,760.61 L457.2,760.62 L457.7,760.63 L458.2,760.64 L458.7,760.65 L459.2,760.66 L459.7,760.66 L460.2,760.67 L460.7,760.68 L461.2,760.69 L461.7,760.7 L462.2,760.71 L462.7,760.72 L463.2,760.73 L463.7,760.74 L464.2,760.75 L464.7,760.76 L465.2,760.77 L465.7,760.78 L466.2,760.79 L466.7,760.8 L467.2,760.81 L467.7,760.83 L468.2,760.84 L468.7,760.85 L469.2,760.86 L469.7,760.87 L470.2,760.88 L470.7,760.89 L471.2,760.91 L471.7,760.92 L472.2,760.93 L472.7,760.94 L473.2,760.95 L473.7,760.97 L474.2,760.98 L474.7,760.99 L475.2,761 L475.7,761.02 L476.2,761.03 L476.7,761.04 L477.2,761.05 L477.7,761.07 L478.2,761.08 L478.7,761.09 L479.2,761.11 L479.7,761.12 L480.2,761.13 L480.7,761.15 L481.2,761.16 L481.7,761.17 L482.2,761.19 L482.7,761.2 L483.2,761.21 L483.7,761.23 L484.2,761.24 L484.7,761.26 L485.2,761.27 L485.7,761.28 L486.2,761.3 L486.7,761.31 L487.2,761.33 L487.7,761.34 L488.2,761.36 L488.7,761.37 L489.2,761.38 L489.7,761.4 L490.2,761.41 L490.7,761.43 L491.2,761.44 L491.7,761.46 L492.2,761.47 L492.7,761.49" stroke="#d8202a"/>
<path d="M113.2,770.71 L113.7,770.81 L114.2,770.92 L114.7,771.02 L115.2,771.13 L115.7,771.23 L116.2,771.34 L116.7,771.44 L117.2,771.55 L117.7,771.65 L118.2,771.76 L118.7,771.86 L119.2,771.97 L119.7,772.07 L120.2,772.18 L120.7,772.28 L121.2,772.39 L121.7,772.5 L122.2,772.6 L122.7,772.71 L123.2,772.81 L123.7,772.92 L124.2,773.03 L124.7,773.13 L125.2,773.24 L125.7,773.35 L126.2,773.45 L126.7,773.56 L127.2,773.67 L127.7,773.78 L128.2,773.88 L128.7,773.99 L129.2,774.1 L129.7,774.21 L130.2,774.32 L130.7,774.43 L131.2,774.54 L131.7,774.65 L132.2,774.76 L132.7,774.87 L133.2,774.98 L133.7,775.09 L134.2,775.2 L134.7,775.32 L135.2,775.43 L135.7,775.54 L136.2,775.65 L136.7,775.77 L137.2,775.88 L137.7,775.99 L138.2,776.11 L138.7,776.22 L139.2,776.34 L139.7,776.46 L140.2,776.57 L140.7,776.69 L141.2,776.81 L141.7,776.92 L142.2,777.04 L142.7,777.16 L143.2,777.28 L143.7,777.4 L144.2,777.52 L144.7,777.64 L145.2,777.76 L145.7,777.88 L146.2,778.01 L146.7,778.13 L147.2,778.25 L147.7,778.38 L148.2,778.5 L148.7,778.63 L149.2,778.75 L149.7,778.88 L150.2,779.01 L150.7,779.14 L151.2,779.27 L151.7,779.39 L152.2,779.52 L152.7,779.66 L153.2,779.79 L153.7,779.92 L154.2,780.05 L154.7,780.19 L155.2,780.32 L155.7,780.45 L156.2,780.59 L156.7,780.73 L157.2,780.86 L157.7,781 L158.2,781.14 L158.7,781.28 L159.2,781.42 L159.7,781.56 L160.2,781.7 L160.7,781.85 L161.2,781.99 L161.7,782.13 L162.2,782.28 L162.7,782.43 L163.2,782.57 L163.7,782.72 L164.2,782.87 L164.7,783.02 L165.2,783.17 L165.7,783.32 L166.2,783.48 L166.7,783.63 L167.2,783.78 L167.7,783.94 L168.2,784.1 L168.7,784.25 L169.2,784.41 L169.7,784.57 L170.2,784.73 L170.7,784.89 L171.2,785.05 L171.7,785.22 L172.2,785.38 L172.7,785.55 L173.2,785.71 L173.7,785.88 L174.2,786.05 L174.7,786.22 L175.2,786.39 L175.7,786.56 L176.2,786.74 L176.7,786.91 L177.2,787.09 L177.7,787.26 L178.2,787.44 L178.7,787.62 L179.2,787.8 L179.7,787.98 L180.2,788.16 L180.7,788.35 L181.2,788.53 L181.7,788.72 L182.2,788.91 L182.7,789.09 L183.2,789.28 L183.7,789.48 L184.2,789.67 L184.7,789.86 L185.2,790.06 L185.7,790.25 L186.2,790.45 L186.7,790.65 L187.2,790.85 L187.7,791.05 L188.2,791.25 L188.7,791.46 L189.2,791.66 L189.7,791.87 L190.2,792.08 L190.7,792.29 L191.2,792.5 L191.7,792.71 L192.2,792.92 L192.7,793.14 L193.2,793.36 L193.7,793.57 L194.2,793.79 L194.7,794.01 L195.2,794.24 L195.7,794.46 L196.2,794.69 L196.7,794.91 L197.2,795.14 L197.7,795.37 L198.2,795.6 L198.7,795.84 L199.2,796.07 L199.7,796.31 L200.2,796.54 L200.7,796.78 L201.2,797.02 L201.7,797.27 L202.2,797.51 L202.7,797.76 L203.2,798 L203.7,798.25 L204.2,798.5 L204.7,798.75 L205.2,799.01 L205.7,799.26 L206.2,799.52 L206.7,799.78 L207.2,800.04 L207.7,800.3 L208.2,800.57 L208.7,800.83 L209.2,801.1 L209.7,801.37 L210.2,801.64 L210.7,801.91 L211.2,802.18 L211.7,802.46 L212.2,802.74 L212.7,803.02 L213.2,803.3 L213.7,803.58 L214.2,803.87 L214.7,804.15 L215.2,804.44 L215.7,804.73 L216.2,805.03 L216.7,805.32 L217.2,805.62 L217.7,805.91 L218.2,806.21 L218.7,806.52 L219.2,806.82 L219.7,807.13 L220.2,807.43 L220.7,807.74 L221.2,808.05 L221.7,808.37 L222.2,808.68 L222.7,809 L223.2,809.32 L223.7,809.64 L224.2,809.96 L224.7,810.29 L225.2,810.62 L225.7,810.95 L226.2,811.28 L226.7,811.61 L227.2,811.95 L227.7,812.28 L228.2,812.62 L228.7,812.97 L229.2,813.31 L229.7,813.66 L230.2,814 L230.7,814.35 L231.2,814.71 L231.7,815.06 L232.2,815.42 L232.7,815.78 L233.2,816.14 L233.7,816.5 L234.2,816.87 L234.7,817.23 L235.2,817.6 L235.7,817.98 L236.2,818.35 L236.7,818.73 L237.2,819.1 L237.7,819.49 L238.2,819.87 L238.7,820.25 L239.2,820.64 L239.7,821.03 L240.2,821.42 L240.7,821.82 L241.2,822.22 L241.7,822.61 L242.2,823.02 L242.7,823.42 L243.2,823.83 L243.7,824.23 L244.2,824.64 L244.7,825.06 L245.2,825.47 L245.7,825.89 L246.2,826.31 L246.7,826.73 L247.2,827.16 L247.7,827.58 L248.2,828.01 L248.7,828.44 L249.2,828.88 L249.7,829.31 L250.2,829.75 L250.7,830.19 L251.2,830.63 L251.7,831.08 L252.2,831.52 L252.7,831.97 L253.2,832.42 L253.7,832.88 L254.2,833.33 L254.7,833.79 L255.2,834.25 L255.7,834.71 L256.2,835.17 L256.7,835.63 L257.2,836.08 L257.7,836.53 L258.2,836.97 L258.7,837.41 L259.2,837.83 L259.7,838.25 L260.2,838.66 L260.7,839.06 L261.2,839.44 L261.7,839.82 L262.2,840.17 L262.7,840.51 L263.2,840.83 L263.7,841.14 L264.2,841.42 L264.7,841.69 L265.2,841.93 L265.7,842.15 L266.2,842.35 L266.7,842.52 L267.2,842.66 L267.7,842.78 L268.2,842.86 L268.7,842.92 L269.2,842.95 L269.7,842.94 L270.2,842.89 L270.7,842.81 L271.2,842.69 L271.7,842.53 L272.2,842.33 L272.7,842.07 L273.2,841.77 L273.7,841.42 L274.2,841.02 L274.7,840.56 L275.2,840.05 L275.7,839.48 L276.2,838.85 L276.7,838.15 L277.2,837.39 L277.7,836.56 L278.2,835.67 L278.7,834.7 L279.2,833.67 L279.7,832.56 L280.2,831.39 L280.7,830.14 L281.2,828.83 L281.7,827.44 L282.2,825.98 L282.7,824.45 L283.2,822.85 L283.7,821.17 L284.2,819.42 L284.7,817.6 L285.2,815.7 L285.7,813.73 L286.2,811.68 L286.7,809.56 L287.2,807.36 L287.7,805.09 L288.2,802.74 L288.7,800.31 L289.2,797.8 L289.7,795.22 L290.2,792.57 L290.7,789.85 L291.2,787.08 L291.7,784.25 L292.2,781.38 L292.7,778.46 L293.2,775.51 L293.7,772.53 L294.2,769.54 L294.7,766.52 L295.2,763.49 L295.7,760.46 L296.2,757.42 L296.7,754.39 L297.2,751.36 L297.7,748.34 L298.2,745.33 L298.7,742.35 L299.2,739.38 L299.7,736.44 L300.2,733.53 L300.7,730.66 L301.2,727.83 L301.7,725.04 L302.2,722.29 L302.7,719.6 L303.2,716.96 L303.7,714.38 L304.2,711.87 L304.7,709.42 L305.2,707.04 L305.7,704.73 L306.2,702.5 L306.7,700.34 L307.2,698.26 L307.7,696.27 L308.2,694.36 L308.7,692.54 L309.2,690.81 L309.7,689.17 L310.2,687.63 L310.7,686.19 L311.2,684.85 L311.7,683.62 L312.2,682.5 L312.7,681.48 L313.2,680.57 L313.7,679.76 L314.2,679.05 L314.7,678.42 L315.2,677.88 L315.7,677.41 L316.2,677.02 L316.7,676.69 L317.2,676.42 L317.7,676.2 L318.2,676.03 L318.7,675.9 L319.2,675.81 L319.7,675.76 L320.2,675.74 L320.7,675.75 L321.2,675.8 L321.7,675.88 L322.2,675.98 L322.7,676.12 L323.2,676.29 L323.7,676.48 L324.2,676.71 L324.7,676.95 L325.2,677.22 L325.7,677.52 L326.2,677.84 L326.7,678.17 L327.2,678.53 L327.7,678.91 L328.2,679.31 L328.7,679.73 L329.2,680.16 L329.7,680.61 L330.2,681.07 L330.7,681.54 L331.2,682.03 L331.7,682.53 L332.2,683.04 L332.7,683.56 L333.2,684.09 L333.7,684.63 L334.2,685.17 L334.7,685.72 L335.2,686.27 L335.7,686.82 L336.2,687.38 L336.7,687.94 L337.2,688.5 L337.7,689.06 L338.2,689.62 L338.7,690.17 L339.2,690.72 L339.7,691.27 L340.2,691.81 L340.7,692.34 L341.2,692.87 L341.7,693.4 L342.2,693.91 L342.7,694.42 L343.2,694.93 L343.7,695.43 L344.2,695.92 L344.7,696.41 L345.2,696.9 L345.7,697.38 L346.2,697.85 L346.7,698.32 L347.2,698.78 L347.7,699.24 L348.2,699.7 L348.7,700.15 L349.2,700.59 L349.7,701.04 L350.2,701.47 L350.7,701.91 L351.2,702.34 L351.7,702.76 L352.2,703.18 L352.7,703.6 L353.2,704.02 L353.7,704.43 L354.2,704.84 L354.7,705.24 L355.2,705.64 L355.7,706.04 L356.2,706.44 L356.7,706.83 L357.2,707.22 L357.7,707.6 L358.2,707.99 L358.7,708.37 L359.2,708.74 L359.7,709.12 L360.2,709.49 L360.7,709.85 L361.2,710.22 L361.7,710.58 L362.2,710.94 L362.7,711.3 L363.2,711.65 L363.7,712 L364.2,712.35 L364.7,712.69 L365.2,713.03 L365.7,713.37 L366.2,713.71 L366.7,714.04 L367.2,714.37 L367.7,714.7 L368.2,715.02 L368.7,715.34 L369.2,715.66 L369.7,715.98 L370.2,716.29 L370.7,716.6 L371.2,716.91 L371.7,717.22 L372.2,717.52 L372.7,717.82 L373.2,718.12 L373.7,718.41 L374.2,718.7 L374.7,718.99 L375.2,719.28 L375.7,719.57 L376.2,719.85 L376.7,720.13 L377.2,720.41 L377.7,720.68 L378.2,720.95 L378.7,721.22 L379.2,721.49 L379.7,721.75 L380.2,722.02 L380.7,722.28 L381.2,722.54 L381.7,722.79 L382.2,723.04 L382.7,723.3 L383.2,723.54 L383.7,723.79 L384.2,724.03 L384.7,724.28 L385.2,724.52 L385.7,724.75 L386.2,724.99 L386.7,725.22 L387.2,725.45 L387.7,725.68 L388.2,725.91 L388.7,726.13 L389.2,726.35 L389.7,726.57 L390.2,726.79 L390.7,727.01 L391.2,727.22 L391.7,727.43 L392.2,727.64 L392.7,727.85 L393.2,728.06 L393.7,728.26 L394.2,728.46 L394.7,728.66 L395.2,728.86 L395.7,729.05 L396.2,729.25 L396.7,729.44 L397.2,729.63 L397.7,729.82 L398.2,730.01 L398.7,730.19 L399.2,730.37 L399.7,730.55 L400.2,730.73 L400.7,730.91 L401.2,731.09 L401.7,731.26 L402.2,731.43 L402.7,731.6 L403.2,731.77 L403.7,731.94 L404.2,732.11 L404.7,732.27 L405.2,732.43 L405.7,732.59 L406.2,732.75 L406.7,732.91 L407.2,733.07 L407.7,733.22 L408.2,733.37 L408.7,733.52 L409.2,733.67 L409.7,733.82 L410.2,733.97 L410.7,734.11 L411.2,734.26 L411.7,734.4 L412.2,734.54 L412.7,734.68 L413.2,734.82 L413.7,734.96 L414.2,735.09 L414.7,735.23 L415.2,735.36 L415.7,735.49 L416.2,735.62 L416.7,735.75 L417.2,735.88 L417.7,736.01 L418.2,736.13 L418.7,736.26 L419.2,736.38 L419.7,736.5 L420.2,736.62 L420.7,736.74 L421.2,736.86 L421.7,736.98 L422.2,737.09 L422.7,737.21 L423.2,737.32 L423.7,737.44 L424.2,737.55 L424.7,737.66 L425.2,737.77 L425.7,737.88 L426.2,737.99 L426.7,738.09 L427.2,738.2 L427.7,738.3 L428.2,738.41 L428.7,738.51 L429.2,738.61 L429.7,738.71 L430.2,738.82 L430.7,738.92 L431.2,739.01 L431.7,739.11 L432.2,739.21 L432.7,739.31 L433.2,739.4 L433.7,739.5 L434.2,739.59 L434.7,739.69 L435.2,739.78 L435.7,739.87 L436.2,739.96 L436.7,740.05 L437.2,740.14 L437.7,740.23 L438.2,740.32 L438.7,740.41 L439.2,740.5 L439.7,740.59 L440.2,740.67 L440.7,740.76 L441.2,740.84 L441.7,740.93 L442.2,741.01 L442.7,741.1 L443.2,741.18 L443.7,741.27 L444.2,741.35 L444.7,741.43 L445.2,741.51 L445.7,741.6 L446.2,741.68 L446.7,741.76 L447.2,741.84 L447.7,741.92 L448.2,742 L448.7,742.08 L449.2,742.16 L449.7,742.24 L450.2,742.32 L450.7,742.4 L451.2,742.47 L451.7,742.55 L452.2,742.63 L452.7,742.71 L453.2,742.79 L453.7,742.87 L454.2,742.94 L454.7,743.02 L455.2,743.1 L455.7,743.18 L456.2,743.25 L456.7,743.33 L457.2,743.41 L457.7,743.49 L458.2,743.56 L458.7,743.64 L459.2,743.72 L459.7,743.8 L460.2,743.87 L460.7,743.95 L461.2,744.03 L461.7,744.11 L462.2,744.18 L462.7,744.26 L463.2,744.34 L463.7,744.42 L464.2,744.5 L464.7,744.58 L465.2,744.66 L465.7,744.74 L466.2,744.82 L466.7,744.9 L467.2,744.98 L467.7,745.06 L468.2,745.14 L468.7,745.22 L469.2,745.3 L469.7,745.38 L470.2,745.46 L470.7,745.55 L471.2,745.63 L471.7,745.71 L472.2,745.8 L472.7,745.88 L473.2,745.97 L473.7,746.05 L474.2,746.14 L474.7,746.22 L475.2,746.31 L475.7,746.4 L476.2,746.49 L476.7,746.57 L477.2,746.66 L477.7,746.75 L478.2,746.84 L478.7,746.93 L479.2,747.03 L479.7,747.12 L480.2,747.21 L480.7,747.31 L481.2,747.4 L481.7,747.5 L482.2,747.59 L482.7,747.69 L483.2,747.79 L483.7,747.88 L484.2,747.98 L484.7,748.08 L485.2,748.18 L485.7,748.29 L486.2,748.39 L486.7,748.49 L487.2,748.6 L487.7,748.7 L488.2,748.81 L488.7,748.92 L489.2,749.02 L489.7,749.13 L490.2,749.24 L490.7,749.35 L491.2,749.47 L491.7,749.58 L492.2,749.69 L492.7,749.81" stroke="#1c34b0"/>
</g>
<rect x="113.2" y="648.2" width="379.9" height="371.1" fill="none" stroke="#000" stroke-width="1.7"/>
<line x1="104.5" y1="1019.4" x2="122.2" y2="1019.4" stroke="#000" stroke-width="1.7"/>
<line x1="104.5" y1="847.8" x2="122.2" y2="847.8" stroke="#000" stroke-width="1.7"/>
<line x1="104.5" y1="676.2" x2="122.2" y2="676.2" stroke="#000" stroke-width="1.7"/>
<line x1="113.2" y1="962.2" x2="119.7" y2="962.2" stroke="#000" stroke-width="1.7"/>
<line x1="113.2" y1="905" x2="119.7" y2="905" stroke="#000" stroke-width="1.7"/>
<line x1="113.2" y1="790.6" x2="119.7" y2="790.6" stroke="#000" stroke-width="1.7"/>
<line x1="113.2" y1="733.4" x2="119.7" y2="733.4" stroke="#000" stroke-width="1.7"/>
<line x1="161" y1="1010.6" x2="161" y2="1028.3" stroke="#000" stroke-width="1.7"/>
<line x1="302.99" y1="1010.6" x2="302.99" y2="1028.3" stroke="#000" stroke-width="1.7"/>
<line x1="444.98" y1="1010.6" x2="444.98" y2="1028.3" stroke="#000" stroke-width="1.7"/>
<line x1="208.33" y1="1012.8" x2="208.33" y2="1019.3" stroke="#000" stroke-width="1.7"/>
<line x1="255.66" y1="1012.8" x2="255.66" y2="1019.3" stroke="#000" stroke-width="1.7"/>
<line x1="350.32" y1="1012.8" x2="350.32" y2="1019.3" stroke="#000" stroke-width="1.7"/>
<line x1="397.65" y1="1012.8" x2="397.65" y2="1019.3" stroke="#000" stroke-width="1.7"/>
<text x="89" y="1029.6" font-size="28.4" text-anchor="end" fill="#000">0.0</text>
<text x="89" y="858" font-size="28.4" text-anchor="end" fill="#000">3.0</text>
<text x="89" y="686.4" font-size="28.4" text-anchor="end" fill="#000">6.0</text>
<text x="161" y="1063.8" font-size="28.4" text-anchor="middle" fill="#000">590</text>
<text x="302.99" y="1063.8" font-size="28.4" text-anchor="middle" fill="#000">620</text>
<text x="444.98" y="1063.8" font-size="28.4" text-anchor="middle" fill="#000">650</text>
<text x="302.5" y="1110.3" font-size="29.2" text-anchor="middle" fill="#000">Wavelength (nm)</text>
<text transform="translate(23.8,833.7) rotate(-90)" font-size="29.2" text-anchor="middle">Refractive index</text>
<text x="136" y="747.6" font-size="28.5" text-anchor="start" fill="#000">n</text>
<text x="136" y="980.5" font-size="28.5" text-anchor="start" fill="#000">k</text>
<text x="480" y="720.6" font-size="24.5" text-anchor="end" fill="#1c34b0">intrinsic</text>
<text x="480" y="790.5" font-size="24.5" text-anchor="end" fill="#d8202a">n-doped</text>
<text x="0" y="611" font-size="40" text-anchor="start" fill="#000" font-weight="bold">b</text>
<g clip-path="url(#clipC)"><g filter="url(#cmR)">
<rect x="652.1" y="53" width="368" height="386.6" fill="#f5f5f5"/>
<g><g filter="url(#bl1)" fill="none" stroke="#000" stroke-linejoin="round"><use href="#cU" stroke-width="280.7" stroke-opacity="0.0071"/><use href="#cU" stroke-width="228.2" stroke-opacity="0.0072"/><use href="#cU" stroke-width="198.9" stroke-opacity="0.0072"/><use href="#cU" stroke-width="179.1" stroke-opacity="0.0073"/><use href="#cU" stroke-width="162.6" stroke-opacity="0.0074"/><use href="#cU" stroke-width="148.8" stroke-opacity="0.0074"/><use href="#cU" stroke-width="138.0" stroke-opacity="0.0075"/><use href="#cU" stroke-width="128.9" stroke-opacity="0.0075"/><use href="#cU" stroke-width="120.9" stroke-opacity="0.0076"/><use href="#cU" stroke-width="113.9" stroke-opacity="0.0076"/><use href="#cU" stroke-width="107.6" stroke-opacity="0.0077"/><use href="#cU" stroke-width="102.5" stroke-opacity="0.0078"/><use href="#cU" stroke-width="98.0" stroke-opacity="0.0078"/><use href="#cU" stroke-width="93.9" stroke-opacity="0.0079"/><use href="#cU" stroke-width="90.2" stroke-opacity="0.0079"/><use href="#cU" stroke-width="86.6" stroke-opacity="0.0080"/><use href="#cU" stroke-width="83.3" stroke-opacity="0.0081"/><use href="#cU" stroke-width="80.0" stroke-opacity="0.0081"/><use href="#cU" stroke-width="77.0" stroke-opacity="0.0082"/><use href="#cU" stroke-width="74.2" stroke-opacity="0.0083"/><use href="#cU" stroke-width="71.6" stroke-opacity="0.0083"/><use href="#cU" stroke-width="69.2" stroke-opacity="0.0084"/><use href="#cU" stroke-width="66.9" stroke-opacity="0.0085"/><use href="#cU" stroke-width="64.7" stroke-opacity="0.0085"/><use href="#cU" stroke-width="62.6" stroke-opacity="0.0086"/><use href="#cU" stroke-width="60.6" stroke-opacity="0.0087"/><use href="#cU" stroke-width="58.8" stroke-opacity="0.0088"/><use href="#cU" stroke-width="56.9" stroke-opacity="0.0088"/><use href="#cU" stroke-width="55.1" stroke-opacity="0.0089"/><use href="#cU" stroke-width="53.4" stroke-opacity="0.0090"/><use href="#cU" stroke-width="51.8" stroke-opacity="0.0091"/><use href="#cU" stroke-width="50.2" stroke-opacity="0.0092"/><use href="#cU" stroke-width="48.7" stroke-opacity="0.0093"/><use href="#cU" stroke-width="47.2" stroke-opacity="0.0093"/><use href="#cU" stroke-width="45.9" stroke-opacity="0.0094"/></g></g>
<g><g filter="url(#bl2)" fill="none" stroke="#000" stroke-linejoin="round"><use href="#cU" stroke-width="43.4" stroke-opacity="0.0273"/><use href="#cU" stroke-width="40.1" stroke-opacity="0.0281"/><use href="#cU" stroke-width="37.2" stroke-opacity="0.0289"/><use href="#cU" stroke-width="34.7" stroke-opacity="0.0298"/><use href="#cU" stroke-width="32.7" stroke-opacity="0.0307"/><use href="#cU" stroke-width="31.1" stroke-opacity="0.0316"/><use href="#cU" stroke-width="29.8" stroke-opacity="0.0327"/><use href="#cU" stroke-width="28.5" stroke-opacity="0.0338"/><use href="#cU" stroke-width="27.3" stroke-opacity="0.0350"/><use href="#cU" stroke-width="26.1" stroke-opacity="0.0362"/><use href="#cU" stroke-width="24.9" stroke-opacity="0.0376"/><use href="#cU" stroke-width="23.6" stroke-opacity="0.0390"/><use href="#cU" stroke-width="22.4" stroke-opacity="0.0406"/><use href="#cU" stroke-width="21.2" stroke-opacity="0.0424"/><use href="#cU" stroke-width="20.0" stroke-opacity="0.0442"/><use href="#cU" stroke-width="18.9" stroke-opacity="0.0463"/><use href="#cU" stroke-width="17.8" stroke-opacity="0.0485"/><use href="#cU" stroke-width="16.7" stroke-opacity="0.0510"/><use href="#cU" stroke-width="15.7" stroke-opacity="0.0537"/><use href="#cU" stroke-width="14.7" stroke-opacity="0.0568"/><use href="#cU" stroke-width="13.8" stroke-opacity="0.0602"/><use href="#cU" stroke-width="12.8" stroke-opacity="0.0641"/><use href="#cU" stroke-width="11.8" stroke-opacity="0.0684"/><use href="#cU" stroke-width="10.9" stroke-opacity="0.0735"/><use href="#cU" stroke-width="10.0" stroke-opacity="0.0793"/><use href="#cU" stroke-width="9.1" stroke-opacity="0.0861"/><use href="#cU" stroke-width="7.9" stroke-opacity="0.0942"/><use href="#cU" stroke-width="6.8" stroke-opacity="0.1041"/><use href="#cU" stroke-width="5.5" stroke-opacity="0.1161"/><use href="#cU" stroke-width="3.1" stroke-opacity="0.1314"/></g></g>
<g><g filter="url(#bl3)" fill="none" stroke="#000" stroke-linejoin="round"><ellipse cx="836.1" cy="224" rx="26" ry="20" fill="#fff" fill-opacity="0.45" stroke="none"/></g></g>
<g><g filter="url(#bl4)" fill="none" stroke="#000" stroke-linejoin="round"><use href="#cL" stroke-width="284.7" stroke-opacity="0.0071"/><use href="#cL" stroke-width="234.1" stroke-opacity="0.0072"/><use href="#cL" stroke-width="202.8" stroke-opacity="0.0072"/><use href="#cL" stroke-width="181.5" stroke-opacity="0.0073"/><use href="#cL" stroke-width="164.0" stroke-opacity="0.0074"/><use href="#cL" stroke-width="150.6" stroke-opacity="0.0074"/><use href="#cL" stroke-width="140.0" stroke-opacity="0.0075"/><use href="#cL" stroke-width="131.0" stroke-opacity="0.0075"/><use href="#cL" stroke-width="123.0" stroke-opacity="0.0076"/><use href="#cL" stroke-width="115.9" stroke-opacity="0.0076"/><use href="#cL" stroke-width="109.8" stroke-opacity="0.0077"/><use href="#cL" stroke-width="104.6" stroke-opacity="0.0078"/><use href="#cL" stroke-width="100.0" stroke-opacity="0.0078"/><use href="#cL" stroke-width="95.9" stroke-opacity="0.0079"/><use href="#cL" stroke-width="92.1" stroke-opacity="0.0079"/><use href="#cL" stroke-width="88.5" stroke-opacity="0.0080"/><use href="#cL" stroke-width="85.2" stroke-opacity="0.0081"/><use href="#cL" stroke-width="82.0" stroke-opacity="0.0081"/><use href="#cL" stroke-width="79.1" stroke-opacity="0.0082"/><use href="#cL" stroke-width="76.5" stroke-opacity="0.0083"/><use href="#cL" stroke-width="74.0" stroke-opacity="0.0083"/><use href="#cL" stroke-width="71.8" stroke-opacity="0.0084"/><use href="#cL" stroke-width="69.7" stroke-opacity="0.0085"/><use href="#cL" stroke-width="67.7" stroke-opacity="0.0085"/><use href="#cL" stroke-width="65.7" stroke-opacity="0.0086"/><use href="#cL" stroke-width="64.0" stroke-opacity="0.0087"/><use href="#cL" stroke-width="62.2" stroke-opacity="0.0088"/><use href="#cL" stroke-width="60.6" stroke-opacity="0.0088"/><use href="#cL" stroke-width="59.1" stroke-opacity="0.0089"/><use href="#cL" stroke-width="57.5" stroke-opacity="0.0090"/><use href="#cL" stroke-width="56.2" stroke-opacity="0.0091"/><use href="#cL" stroke-width="54.9" stroke-opacity="0.0092"/><use href="#cL" stroke-width="53.6" stroke-opacity="0.0093"/><use href="#cL" stroke-width="52.5" stroke-opacity="0.0093"/><use href="#cL" stroke-width="51.4" stroke-opacity="0.0094"/></g></g>
<g><g filter="url(#bl5)" fill="none" stroke="#000" stroke-linejoin="round"><use href="#cL" stroke-width="49.4" stroke-opacity="0.0278"/><use href="#cL" stroke-width="46.6" stroke-opacity="0.0286"/><use href="#cL" stroke-width="44.0" stroke-opacity="0.0294"/><use href="#cL" stroke-width="41.6" stroke-opacity="0.0303"/><use href="#cL" stroke-width="39.3" stroke-opacity="0.0312"/><use href="#cL" stroke-width="37.3" stroke-opacity="0.0323"/><use href="#cL" stroke-width="35.5" stroke-opacity="0.0333"/><use href="#cL" stroke-width="33.7" stroke-opacity="0.0345"/><use href="#cL" stroke-width="32.0" stroke-opacity="0.0357"/><use href="#cL" stroke-width="30.4" stroke-opacity="0.0370"/><use href="#cL" stroke-width="28.8" stroke-opacity="0.0385"/><use href="#cL" stroke-width="27.3" stroke-opacity="0.0400"/><use href="#cL" stroke-width="25.8" stroke-opacity="0.0417"/><use href="#cL" stroke-width="24.4" stroke-opacity="0.0435"/><use href="#cL" stroke-width="23.0" stroke-opacity="0.0455"/><use href="#cL" stroke-width="21.7" stroke-opacity="0.0476"/><use href="#cL" stroke-width="20.4" stroke-opacity="0.0500"/><use href="#cL" stroke-width="19.2" stroke-opacity="0.0526"/><use href="#cL" stroke-width="18.0" stroke-opacity="0.0556"/><use href="#cL" stroke-width="16.8" stroke-opacity="0.0588"/><use href="#cL" stroke-width="15.6" stroke-opacity="0.0625"/><use href="#cL" stroke-width="14.6" stroke-opacity="0.0667"/><use href="#cL" stroke-width="13.7" stroke-opacity="0.0714"/><use href="#cL" stroke-width="12.8" stroke-opacity="0.0769"/><use href="#cL" stroke-width="12.1" stroke-opacity="0.0833"/><use href="#cL" stroke-width="11.4" stroke-opacity="0.0909"/><use href="#cL" stroke-width="10.8" stroke-opacity="0.1000"/><use href="#cL" stroke-width="10.1" stroke-opacity="0.1111"/><use href="#cL" stroke-width="9.5" stroke-opacity="0.1250"/><use href="#cL" stroke-width="8.8" stroke-opacity="0.1429"/><use href="#cL" stroke-width="8.1" stroke-opacity="0.1667"/><use href="#cL" stroke-width="7.4" stroke-opacity="0.2000"/><use href="#cL" stroke-width="6.7" stroke-opacity="0.2500"/><use href="#cL" stroke-width="5.8" stroke-opacity="0.3333"/><use href="#cL" stroke-width="4.4" stroke-opacity="0.5000"/><use href="#cL" stroke-width="2.4" stroke-opacity="1.0000"/></g></g>
<g><g filter="url(#bl6)" fill="none" stroke="#000" stroke-linejoin="round"><ellipse cx="836.1" cy="249" rx="13" ry="8" fill="#000" fill-opacity="0.85" stroke="none"/></g></g>
</g></g>
<rect x="660.1" y="61" width="352" height="370.6" fill="none" stroke="#000" stroke-width="1.7"/>
<line x1="651.1" y1="61" x2="669.6" y2="61" stroke="#000" stroke-width="1.7"/>
<line x1="651.1" y1="246.3" x2="669.6" y2="246.3" stroke="#000" stroke-width="1.7"/>
<line x1="651.1" y1="431.6" x2="669.6" y2="431.6" stroke="#000" stroke-width="1.7"/>
<line x1="660.1" y1="153.65" x2="665.6" y2="153.65" stroke="#000" stroke-width="1.7"/>
<line x1="660.1" y1="338.95" x2="665.6" y2="338.95" stroke="#000" stroke-width="1.7"/>
<line x1="718.8" y1="423" x2="718.8" y2="440.8" stroke="#000" stroke-width="1.7"/>
<line x1="836.1" y1="423" x2="836.1" y2="440.8" stroke="#000" stroke-width="1.7"/>
<line x1="953.4" y1="423" x2="953.4" y2="440.8" stroke="#000" stroke-width="1.7"/>
<line x1="777.45" y1="426.4" x2="777.45" y2="431.6" stroke="#000" stroke-width="1.7"/>
<line x1="894.75" y1="426.4" x2="894.75" y2="431.6" stroke="#000" stroke-width="1.7"/>
<text x="636.5" y="71.2" font-size="28.4" text-anchor="end" fill="#000">2.1</text>
<text x="636.5" y="254.3" font-size="28.4" text-anchor="end" fill="#000">2.0</text>
<text x="636.5" y="440.2" font-size="28.4" text-anchor="end" fill="#000">1.9</text>
<text x="718.8" y="477.1" font-size="28.4" text-anchor="middle" fill="#000">−0.1</text>
<text x="836.1" y="477.1" font-size="28.4" text-anchor="middle" fill="#000">0.0</text>
<text x="953.4" y="477.1" font-size="28.4" text-anchor="middle" fill="#000">+0.1</text>
<text x="851.1" y="523.1" font-size="29.2" text-anchor="middle">k<tspan font-size="21" dy="7">x</tspan><tspan dy="-7">/k</tspan><tspan font-size="21" dy="7">0</tspan></text>
<text transform="translate(565,249.3) rotate(-90)" font-size="29.2" text-anchor="middle">Energy (eV)</text>
<rect x="1022.9" y="61" width="19.3" height="370.6" fill="url(#gR)" stroke="#000" stroke-width="1.6"/>
<line x1="1042.2" y1="431.6" x2="1049.2" y2="431.6" stroke="#000" stroke-width="1.6"/>
<line x1="1037.2" y1="357.48" x2="1047.2" y2="357.48" stroke="#000" stroke-width="1.6"/>
<line x1="1037.2" y1="283.36" x2="1047.2" y2="283.36" stroke="#000" stroke-width="1.6"/>
<line x1="1037.2" y1="209.24" x2="1047.2" y2="209.24" stroke="#000" stroke-width="1.6"/>
<line x1="1037.2" y1="135.12" x2="1047.2" y2="135.12" stroke="#000" stroke-width="1.6"/>
<line x1="1042.2" y1="61" x2="1049.2" y2="61" stroke="#000" stroke-width="1.6"/>
<text x="1103.2" y="71.2" font-size="28.4" text-anchor="end" fill="#000">1.0</text>
<text x="1103.2" y="441.8" font-size="28.4" text-anchor="end" fill="#000">0.0</text>
<text x="843.7" y="34.7" font-size="29.2" text-anchor="middle" fill="#c8102e">n-doped</text>
<text x="1109" y="34.5" font-size="29.2" text-anchor="end" fill="#000">Reflectance</text>
<text x="832.8" y="84.6" font-size="24" text-anchor="middle" fill="#000">TE</text>
<text x="539" y="23" font-size="40" text-anchor="start" fill="#000" font-weight="bold">c</text>
<g clip-path="url(#clipD)"><g filter="url(#cmR)">
<rect x="651.6" y="639.8" width="367.2" height="386.6" fill="#f5f5f5"/>
<g><g filter="url(#bl7)" fill="none" stroke="#000" stroke-linejoin="round"><rect x="639.6" y="813" width="391.2" height="40" fill="#000" fill-opacity="0.06" stroke="none"/><ellipse cx="770" cy="833" rx="120" ry="30" fill="#000" fill-opacity="0.12" stroke="none"/><ellipse cx="930" cy="833" rx="90" ry="26" fill="#000" fill-opacity="0.06" stroke="none"/></g></g>
<g><g filter="url(#bl8)" fill="none" stroke="#000" stroke-linejoin="round"><use href="#dU" stroke-width="280.7" stroke-opacity="0.0071"/><use href="#dU" stroke-width="228.2" stroke-opacity="0.0072"/><use href="#dU" stroke-width="198.9" stroke-opacity="0.0072"/><use href="#dU" stroke-width="179.1" stroke-opacity="0.0073"/><use href="#dU" stroke-width="162.6" stroke-opacity="0.0074"/><use href="#dU" stroke-width="148.8" stroke-opacity="0.0074"/><use href="#dU" stroke-width="138.0" stroke-opacity="0.0075"/><use href="#dU" stroke-width="128.9" stroke-opacity="0.0075"/><use href="#dU" stroke-width="120.9" stroke-opacity="0.0076"/><use href="#dU" stroke-width="113.9" stroke-opacity="0.0076"/><use href="#dU" stroke-width="107.6" stroke-opacity="0.0077"/><use href="#dU" stroke-width="102.5" stroke-opacity="0.0078"/><use href="#dU" stroke-width="98.0" stroke-opacity="0.0078"/><use href="#dU" stroke-width="93.9" stroke-opacity="0.0079"/><use href="#dU" stroke-width="90.2" stroke-opacity="0.0079"/><use href="#dU" stroke-width="86.6" stroke-opacity="0.0080"/><use href="#dU" stroke-width="83.3" stroke-opacity="0.0081"/><use href="#dU" stroke-width="80.0" stroke-opacity="0.0081"/><use href="#dU" stroke-width="77.0" stroke-opacity="0.0082"/><use href="#dU" stroke-width="74.2" stroke-opacity="0.0083"/><use href="#dU" stroke-width="71.6" stroke-opacity="0.0083"/><use href="#dU" stroke-width="69.2" stroke-opacity="0.0084"/><use href="#dU" stroke-width="66.9" stroke-opacity="0.0085"/><use href="#dU" stroke-width="64.7" stroke-opacity="0.0085"/><use href="#dU" stroke-width="62.6" stroke-opacity="0.0086"/><use href="#dU" stroke-width="60.6" stroke-opacity="0.0087"/><use href="#dU" stroke-width="58.8" stroke-opacity="0.0088"/><use href="#dU" stroke-width="56.9" stroke-opacity="0.0088"/><use href="#dU" stroke-width="55.1" stroke-opacity="0.0089"/><use href="#dU" stroke-width="53.4" stroke-opacity="0.0090"/><use href="#dU" stroke-width="51.8" stroke-opacity="0.0091"/><use href="#dU" stroke-width="50.2" stroke-opacity="0.0092"/><use href="#dU" stroke-width="48.7" stroke-opacity="0.0093"/><use href="#dU" stroke-width="47.2" stroke-opacity="0.0093"/><use href="#dU" stroke-width="45.9" stroke-opacity="0.0094"/></g></g>
<g><g filter="url(#bl9)" fill="none" stroke="#000" stroke-linejoin="round"><use href="#dU" stroke-width="43.4" stroke-opacity="0.0273"/><use href="#dU" stroke-width="40.1" stroke-opacity="0.0281"/><use href="#dU" stroke-width="37.2" stroke-opacity="0.0289"/><use href="#dU" stroke-width="34.7" stroke-opacity="0.0298"/><use href="#dU" stroke-width="32.7" stroke-opacity="0.0307"/><use href="#dU" stroke-width="31.1" stroke-opacity="0.0316"/><use href="#dU" stroke-width="29.8" stroke-opacity="0.0327"/><use href="#dU" stroke-width="28.5" stroke-opacity="0.0338"/><use href="#dU" stroke-width="27.3" stroke-opacity="0.0350"/><use href="#dU" stroke-width="26.1" stroke-opacity="0.0362"/><use href="#dU" stroke-width="24.9" stroke-opacity="0.0376"/><use href="#dU" stroke-width="23.6" stroke-opacity="0.0390"/><use href="#dU" stroke-width="22.4" stroke-opacity="0.0406"/><use href="#dU" stroke-width="21.2" stroke-opacity="0.0424"/><use href="#dU" stroke-width="20.0" stroke-opacity="0.0442"/><use href="#dU" stroke-width="18.9" stroke-opacity="0.0463"/><use href="#dU" stroke-width="17.8" stroke-opacity="0.0485"/><use href="#dU" stroke-width="16.7" stroke-opacity="0.0510"/><use href="#dU" stroke-width="15.7" stroke-opacity="0.0537"/><use href="#dU" stroke-width="14.7" stroke-opacity="0.0568"/><use href="#dU" stroke-width="13.8" stroke-opacity="0.0602"/><use href="#dU" stroke-width="12.8" stroke-opacity="0.0641"/><use href="#dU" stroke-width="11.8" stroke-opacity="0.0684"/><use href="#dU" stroke-width="10.9" stroke-opacity="0.0735"/><use href="#dU" stroke-width="10.0" stroke-opacity="0.0793"/><use href="#dU" stroke-width="9.1" stroke-opacity="0.0861"/><use href="#dU" stroke-width="7.9" stroke-opacity="0.0942"/><use href="#dU" stroke-width="6.8" stroke-opacity="0.1041"/><use href="#dU" stroke-width="5.5" stroke-opacity="0.1161"/><use href="#dU" stroke-width="3.1" stroke-opacity="0.1314"/></g></g>
<g><g filter="url(#bl10)" fill="none" stroke="#000" stroke-linejoin="round"><ellipse cx="835.1" cy="783" rx="28.4" ry="20" fill="#fff" fill-opacity="0.35" stroke="none"/></g></g>
<g><g filter="url(#bl11)" fill="none" stroke="#000" stroke-linejoin="round"><ellipse cx="839.1" cy="834" rx="50" ry="35" fill="#000" fill-opacity="0.3" stroke="none"/></g></g>
<g><g filter="url(#bl12)" fill="none" stroke="#000" stroke-linejoin="round"><ellipse cx="845.1" cy="834" rx="110" ry="28" fill="#000" fill-opacity="0.2" stroke="none"/></g></g>
<g><g filter="url(#bl13)" fill="none" stroke="#000" stroke-linejoin="round"><ellipse cx="834" cy="803.5" rx="18" ry="11" fill="#000" fill-opacity="0.75" stroke="none"/></g></g>
<g><g filter="url(#bl14)" fill="none" stroke="#000" stroke-linejoin="round"><use href="#dL" stroke-width="284.7" stroke-opacity="0.0071"/><use href="#dL" stroke-width="234.1" stroke-opacity="0.0072"/><use href="#dL" stroke-width="202.8" stroke-opacity="0.0072"/><use href="#dL" stroke-width="181.5" stroke-opacity="0.0073"/><use href="#dL" stroke-width="164.0" stroke-opacity="0.0074"/><use href="#dL" stroke-width="150.6" stroke-opacity="0.0074"/><use href="#dL" stroke-width="140.0" stroke-opacity="0.0075"/><use href="#dL" stroke-width="131.0" stroke-opacity="0.0075"/><use href="#dL" stroke-width="123.0" stroke-opacity="0.0076"/><use href="#dL" stroke-width="115.9" stroke-opacity="0.0076"/><use href="#dL" stroke-width="109.8" stroke-opacity="0.0077"/><use href="#dL" stroke-width="104.6" stroke-opacity="0.0078"/><use href="#dL" stroke-width="100.0" stroke-opacity="0.0078"/><use href="#dL" stroke-width="95.9" stroke-opacity="0.0079"/><use href="#dL" stroke-width="92.1" stroke-opacity="0.0079"/><use href="#dL" stroke-width="88.5" stroke-opacity="0.0080"/><use href="#dL" stroke-width="85.2" stroke-opacity="0.0081"/><use href="#dL" stroke-width="82.0" stroke-opacity="0.0081"/><use href="#dL" stroke-width="79.1" stroke-opacity="0.0082"/><use href="#dL" stroke-width="76.5" stroke-opacity="0.0083"/><use href="#dL" stroke-width="74.0" stroke-opacity="0.0083"/><use href="#dL" stroke-width="71.8" stroke-opacity="0.0084"/><use href="#dL" stroke-width="69.7" stroke-opacity="0.0085"/><use href="#dL" stroke-width="67.7" stroke-opacity="0.0085"/><use href="#dL" stroke-width="65.7" stroke-opacity="0.0086"/><use href="#dL" stroke-width="64.0" stroke-opacity="0.0087"/><use href="#dL" stroke-width="62.2" stroke-opacity="0.0088"/><use href="#dL" stroke-width="60.6" stroke-opacity="0.0088"/><use href="#dL" stroke-width="59.1" stroke-opacity="0.0089"/><use href="#dL" stroke-width="57.5" stroke-opacity="0.0090"/><use href="#dL" stroke-width="56.2" stroke-opacity="0.0091"/><use href="#dL" stroke-width="54.9" stroke-opacity="0.0092"/><use href="#dL" stroke-width="53.6" stroke-opacity="0.0093"/><use href="#dL" stroke-width="52.5" stroke-opacity="0.0093"/><use href="#dL" stroke-width="51.4" stroke-opacity="0.0094"/></g></g>
<g><g filter="url(#bl15)" fill="none" stroke="#000" stroke-linejoin="round"><use href="#dL" stroke-width="49.4" stroke-opacity="0.0278"/><use href="#dL" stroke-width="46.6" stroke-opacity="0.0286"/><use href="#dL" stroke-width="44.0" stroke-opacity="0.0294"/><use href="#dL" stroke-width="41.6" stroke-opacity="0.0303"/><use href="#dL" stroke-width="39.3" stroke-opacity="0.0312"/><use href="#dL" stroke-width="37.3" stroke-opacity="0.0323"/><use href="#dL" stroke-width="35.5" stroke-opacity="0.0333"/><use href="#dL" stroke-width="33.7" stroke-opacity="0.0345"/><use href="#dL" stroke-width="32.0" stroke-opacity="0.0357"/><use href="#dL" stroke-width="30.4" stroke-opacity="0.0370"/><use href="#dL" stroke-width="28.8" stroke-opacity="0.0385"/><use href="#dL" stroke-width="27.3" stroke-opacity="0.0400"/><use href="#dL" stroke-width="25.8" stroke-opacity="0.0417"/><use href="#dL" stroke-width="24.4" stroke-opacity="0.0435"/><use href="#dL" stroke-width="23.0" stroke-opacity="0.0455"/><use href="#dL" stroke-width="21.7" stroke-opacity="0.0476"/><use href="#dL" stroke-width="20.4" stroke-opacity="0.0500"/><use href="#dL" stroke-width="19.2" stroke-opacity="0.0526"/><use href="#dL" stroke-width="18.0" stroke-opacity="0.0556"/><use href="#dL" stroke-width="16.8" stroke-opacity="0.0588"/><use href="#dL" stroke-width="15.6" stroke-opacity="0.0625"/><use href="#dL" stroke-width="14.6" stroke-opacity="0.0667"/><use href="#dL" stroke-width="13.7" stroke-opacity="0.0714"/><use href="#dL" stroke-width="12.8" stroke-opacity="0.0769"/><use href="#dL" stroke-width="12.1" stroke-opacity="0.0833"/><use href="#dL" stroke-width="11.4" stroke-opacity="0.0909"/><use href="#dL" stroke-width="10.8" stroke-opacity="0.1000"/><use href="#dL" stroke-width="10.1" stroke-opacity="0.1111"/><use href="#dL" stroke-width="9.5" stroke-opacity="0.1250"/><use href="#dL" stroke-width="8.8" stroke-opacity="0.1429"/><use href="#dL" stroke-width="8.1" stroke-opacity="0.1667"/><use href="#dL" stroke-width="7.4" stroke-opacity="0.2000"/><use href="#dL" stroke-width="6.7" stroke-opacity="0.2500"/><use href="#dL" stroke-width="5.8" stroke-opacity="0.3333"/><use href="#dL" stroke-width="4.4" stroke-opacity="0.5000"/><use href="#dL" stroke-width="2.4" stroke-opacity="1.0000"/></g></g>
<g><g filter="url(#bl16)" fill="none" stroke="#000" stroke-linejoin="round"><ellipse cx="835.1" cy="866" rx="18" ry="9" fill="#000" fill-opacity="0.85" stroke="none"/></g></g>
</g></g>
<rect x="659.6" y="647.8" width="351.2" height="370.6" fill="none" stroke="#000" stroke-width="1.7"/>
<line x1="650.6" y1="648.3" x2="669.1" y2="648.3" stroke="#000" stroke-width="1.7"/>
<line x1="650.6" y1="833.1" x2="669.1" y2="833.1" stroke="#000" stroke-width="1.7"/>
<line x1="650.6" y1="1017.9" x2="669.1" y2="1017.9" stroke="#000" stroke-width="1.7"/>
<line x1="659.6" y1="740.7" x2="665.1" y2="740.7" stroke="#000" stroke-width="1.7"/>
<line x1="659.6" y1="925.5" x2="665.1" y2="925.5" stroke="#000" stroke-width="1.7"/>
<line x1="718.1" y1="1009.8" x2="718.1" y2="1027.6" stroke="#000" stroke-width="1.7"/>
<line x1="835.1" y1="1009.8" x2="835.1" y2="1027.6" stroke="#000" stroke-width="1.7"/>
<line x1="952.1" y1="1009.8" x2="952.1" y2="1027.6" stroke="#000" stroke-width="1.7"/>
<line x1="776.6" y1="1013.2" x2="776.6" y2="1018.4" stroke="#000" stroke-width="1.7"/>
<line x1="893.6" y1="1013.2" x2="893.6" y2="1018.4" stroke="#000" stroke-width="1.7"/>
<text x="636.5" y="658.5" font-size="28.4" text-anchor="end" fill="#000">2.1</text>
<text x="636.5" y="841.1" font-size="28.4" text-anchor="end" fill="#000">2.0</text>
<text x="636.5" y="1026.5" font-size="28.4" text-anchor="end" fill="#000">1.9</text>
<text x="718.1" y="1063.9" font-size="28.4" text-anchor="middle" fill="#000">−0.1</text>
<text x="835.1" y="1063.9" font-size="28.4" text-anchor="middle" fill="#000">0.0</text>
<text x="952.1" y="1063.9" font-size="28.4" text-anchor="middle" fill="#000">+0.1</text>
<text x="850.1" y="1109.9" font-size="29.2" text-anchor="middle">k<tspan font-size="21" dy="7">x</tspan><tspan dy="-7">/k</tspan><tspan font-size="21" dy="7">0</tspan></text>
<text transform="translate(565,836.1) rotate(-90)" font-size="29.2" text-anchor="middle">Energy (eV)</text>
<rect x="1024" y="647.8" width="18.5" height="370.6" fill="url(#gR)" stroke="#000" stroke-width="1.6"/>
<line x1="1042.5" y1="1018.4" x2="1049.5" y2="1018.4" stroke="#000" stroke-width="1.6"/>
<line x1="1037.5" y1="944.28" x2="1047.5" y2="944.28" stroke="#000" stroke-width="1.6"/>
<line x1="1037.5" y1="870.16" x2="1047.5" y2="870.16" stroke="#000" stroke-width="1.6"/>
<line x1="1037.5" y1="796.04" x2="1047.5" y2="796.04" stroke="#000" stroke-width="1.6"/>
<line x1="1037.5" y1="721.92" x2="1047.5" y2="721.92" stroke="#000" stroke-width="1.6"/>
<line x1="1042.5" y1="647.8" x2="1049.5" y2="647.8" stroke="#000" stroke-width="1.6"/>
<text x="1103.5" y="658" font-size="28.4" text-anchor="end" fill="#000">1.0</text>
<text x="1103.5" y="1028.6" font-size="28.4" text-anchor="end" fill="#000">0.0</text>
<text x="839.3" y="621.5" font-size="29.2" text-anchor="middle" fill="#1f3fc8">intrinsic</text>
<text x="1109" y="621.3" font-size="29.2" text-anchor="end" fill="#000">Reflectance</text>
<text x="838.6" y="674.8" font-size="24" text-anchor="middle" fill="#000">TE</text>
<text x="539" y="609.8" font-size="40" text-anchor="start" fill="#000" font-weight="bold">d</text>
<line x1="844.2" y1="803" x2="903" y2="803" stroke="#fff" stroke-width="2.6" stroke-dasharray="9.9 9.3" stroke-dashoffset="4.3"/>
<line x1="844.2" y1="869.5" x2="903" y2="869.5" stroke="#fff" stroke-width="2.6" stroke-dasharray="9.9 9.3" stroke-dashoffset="4.3"/>
<line x1="903" y1="807.5" x2="903" y2="864" stroke="#000" stroke-width="1.9"/>
<path d="M897.6 812.8 L903.0 806.8 L908.4 812.8 M897.6 858.7 L903.0 864.7 L908.4 858.7" fill="none" stroke="#000" stroke-width="1.9"/>
<text x="909.4" y="843.3" font-size="22.9" text-anchor="start" fill="#000">38.2 meV</text>
<g clip-path="url(#clipE)"><g filter="url(#cmR)">
<rect x="1328.4" y="52.5" width="365.6" height="386.6" fill="#f5f5f5"/>
<g><g filter="url(#bl17)" fill="none" stroke="#000" stroke-linejoin="round"><rect x="1498" y="40.5" width="22" height="410.6" fill="#000" fill-opacity="0.045" stroke="none"/><ellipse cx="1504" cy="150" rx="11" ry="95" fill="#000" fill-opacity="0.1" stroke="none"/><ellipse cx="1517" cy="335" rx="11" ry="95" fill="#000" fill-opacity="0.07" stroke="none"/></g></g>
<g><g filter="url(#bl18)" fill="none" stroke="#000" stroke-linejoin="round"><ellipse cx="1650" cy="390" rx="90" ry="70" fill="#fff" fill-opacity="0.4" stroke="none"/><ellipse cx="1600" cy="300" rx="60" ry="60" fill="#fff" fill-opacity="0.2" stroke="none"/></g></g>
<g><g filter="url(#bl19)" fill="none" stroke="#000" stroke-linejoin="round"><ellipse cx="1507" cy="241" rx="40" ry="21" transform="rotate(52 1507 241)" fill="#000" fill-opacity="0.45" stroke="none"/></g></g>
<g mask="url(#mUPt)"><g filter="url(#bl20)" fill="none" stroke="#000" stroke-linejoin="round"><use href="#eUP" stroke-width="292.6" stroke-opacity="0.0071"/><use href="#eUP" stroke-width="253.1" stroke-opacity="0.0072"/><use href="#eUP" stroke-width="222.2" stroke-opacity="0.0072"/><use href="#eUP" stroke-width="195.5" stroke-opacity="0.0073"/><use href="#eUP" stroke-width="176.7" stroke-opacity="0.0074"/><use href="#eUP" stroke-width="161.7" stroke-opacity="0.0074"/><use href="#eUP" stroke-width="149.0" stroke-opacity="0.0075"/><use href="#eUP" stroke-width="137.8" stroke-opacity="0.0075"/><use href="#eUP" stroke-width="128.9" stroke-opacity="0.0076"/><use href="#eUP" stroke-width="121.5" stroke-opacity="0.0076"/><use href="#eUP" stroke-width="115.1" stroke-opacity="0.0077"/><use href="#eUP" stroke-width="109.3" stroke-opacity="0.0078"/><use href="#eUP" stroke-width="104.0" stroke-opacity="0.0078"/><use href="#eUP" stroke-width="99.1" stroke-opacity="0.0079"/><use href="#eUP" stroke-width="94.4" stroke-opacity="0.0079"/><use href="#eUP" stroke-width="90.2" stroke-opacity="0.0080"/><use href="#eUP" stroke-width="86.6" stroke-opacity="0.0081"/><use href="#eUP" stroke-width="83.3" stroke-opacity="0.0081"/><use href="#eUP" stroke-width="80.3" stroke-opacity="0.0082"/><use href="#eUP" stroke-width="77.5" stroke-opacity="0.0083"/><use href="#eUP" stroke-width="74.9" stroke-opacity="0.0083"/><use href="#eUP" stroke-width="72.3" stroke-opacity="0.0084"/><use href="#eUP" stroke-width="69.9" stroke-opacity="0.0085"/><use href="#eUP" stroke-width="67.7" stroke-opacity="0.0085"/><use href="#eUP" stroke-width="65.5" stroke-opacity="0.0086"/><use href="#eUP" stroke-width="63.5" stroke-opacity="0.0087"/><use href="#eUP" stroke-width="61.6" stroke-opacity="0.0088"/><use href="#eUP" stroke-width="59.8" stroke-opacity="0.0088"/><use href="#eUP" stroke-width="58.1" stroke-opacity="0.0089"/><use href="#eUP" stroke-width="56.6" stroke-opacity="0.0090"/><use href="#eUP" stroke-width="55.1" stroke-opacity="0.0091"/><use href="#eUP" stroke-width="53.6" stroke-opacity="0.0092"/><use href="#eUP" stroke-width="52.3" stroke-opacity="0.0093"/><use href="#eUP" stroke-width="51.0" stroke-opacity="0.0093"/><use href="#eUP" stroke-width="49.8" stroke-opacity="0.0094"/></g></g>
<g mask="url(#mUP)"><g filter="url(#bl21)" fill="none" stroke="#000" stroke-linejoin="round"><use href="#eUP" stroke-width="47.6" stroke-opacity="0.0278"/><use href="#eUP" stroke-width="44.9" stroke-opacity="0.0286"/><use href="#eUP" stroke-width="42.5" stroke-opacity="0.0294"/><use href="#eUP" stroke-width="40.2" stroke-opacity="0.0303"/><use href="#eUP" stroke-width="38.1" stroke-opacity="0.0312"/><use href="#eUP" stroke-width="36.0" stroke-opacity="0.0323"/><use href="#eUP" stroke-width="34.1" stroke-opacity="0.0333"/><use href="#eUP" stroke-width="32.4" stroke-opacity="0.0345"/><use href="#eUP" stroke-width="30.7" stroke-opacity="0.0357"/><use href="#eUP" stroke-width="29.2" stroke-opacity="0.0370"/><use href="#eUP" stroke-width="27.7" stroke-opacity="0.0385"/><use href="#eUP" stroke-width="26.4" stroke-opacity="0.0400"/><use href="#eUP" stroke-width="25.2" stroke-opacity="0.0417"/><use href="#eUP" stroke-width="24.0" stroke-opacity="0.0435"/><use href="#eUP" stroke-width="23.0" stroke-opacity="0.0455"/><use href="#eUP" stroke-width="21.9" stroke-opacity="0.0476"/><use href="#eUP" stroke-width="20.9" stroke-opacity="0.0500"/><use href="#eUP" stroke-width="19.9" stroke-opacity="0.0526"/><use href="#eUP" stroke-width="19.0" stroke-opacity="0.0556"/><use href="#eUP" stroke-width="18.0" stroke-opacity="0.0588"/><use href="#eUP" stroke-width="17.0" stroke-opacity="0.0625"/><use href="#eUP" stroke-width="16.0" stroke-opacity="0.0667"/><use href="#eUP" stroke-width="15.1" stroke-opacity="0.0714"/><use href="#eUP" stroke-width="14.1" stroke-opacity="0.0769"/><use href="#eUP" stroke-width="13.1" stroke-opacity="0.0833"/><use href="#eUP" stroke-width="12.3" stroke-opacity="0.0909"/><use href="#eUP" stroke-width="11.4" stroke-opacity="0.1000"/><use href="#eUP" stroke-width="10.7" stroke-opacity="0.1111"/><use href="#eUP" stroke-width="10.0" stroke-opacity="0.1250"/><use href="#eUP" stroke-width="9.5" stroke-opacity="0.1429"/><use href="#eUP" stroke-width="8.9" stroke-opacity="0.1667"/><use href="#eUP" stroke-width="8.3" stroke-opacity="0.2000"/><use href="#eUP" stroke-width="7.6" stroke-opacity="0.2500"/><use href="#eUP" stroke-width="6.6" stroke-opacity="0.3333"/><use href="#eUP" stroke-width="4.9" stroke-opacity="0.5000"/><use href="#eUP" stroke-width="2.7" stroke-opacity="1.0000"/></g></g>
<g mask="url(#mLPt)"><g filter="url(#bl22)" fill="none" stroke="#000" stroke-linejoin="round"><use href="#eLP" stroke-width="276.4" stroke-opacity="0.0071"/><use href="#eLP" stroke-width="221.7" stroke-opacity="0.0072"/><use href="#eLP" stroke-width="184.1" stroke-opacity="0.0072"/><use href="#eLP" stroke-width="161.6" stroke-opacity="0.0073"/><use href="#eLP" stroke-width="144.7" stroke-opacity="0.0074"/><use href="#eLP" stroke-width="131.3" stroke-opacity="0.0074"/><use href="#eLP" stroke-width="122.2" stroke-opacity="0.0075"/><use href="#eLP" stroke-width="115.1" stroke-opacity="0.0075"/><use href="#eLP" stroke-width="109.0" stroke-opacity="0.0076"/><use href="#eLP" stroke-width="103.5" stroke-opacity="0.0076"/><use href="#eLP" stroke-width="98.6" stroke-opacity="0.0077"/><use href="#eLP" stroke-width="93.9" stroke-opacity="0.0078"/><use href="#eLP" stroke-width="89.6" stroke-opacity="0.0078"/><use href="#eLP" stroke-width="85.9" stroke-opacity="0.0079"/><use href="#eLP" stroke-width="82.7" stroke-opacity="0.0079"/><use href="#eLP" stroke-width="80.0" stroke-opacity="0.0080"/><use href="#eLP" stroke-width="77.4" stroke-opacity="0.0081"/><use href="#eLP" stroke-width="75.0" stroke-opacity="0.0081"/><use href="#eLP" stroke-width="72.7" stroke-opacity="0.0082"/><use href="#eLP" stroke-width="70.5" stroke-opacity="0.0083"/><use href="#eLP" stroke-width="68.4" stroke-opacity="0.0083"/><use href="#eLP" stroke-width="66.3" stroke-opacity="0.0084"/><use href="#eLP" stroke-width="64.2" stroke-opacity="0.0085"/><use href="#eLP" stroke-width="62.3" stroke-opacity="0.0085"/><use href="#eLP" stroke-width="60.4" stroke-opacity="0.0086"/><use href="#eLP" stroke-width="58.6" stroke-opacity="0.0087"/><use href="#eLP" stroke-width="56.9" stroke-opacity="0.0088"/><use href="#eLP" stroke-width="55.3" stroke-opacity="0.0088"/><use href="#eLP" stroke-width="53.7" stroke-opacity="0.0089"/><use href="#eLP" stroke-width="52.3" stroke-opacity="0.0090"/><use href="#eLP" stroke-width="50.8" stroke-opacity="0.0091"/><use href="#eLP" stroke-width="49.5" stroke-opacity="0.0092"/><use href="#eLP" stroke-width="48.2" stroke-opacity="0.0093"/><use href="#eLP" stroke-width="46.9" stroke-opacity="0.0093"/><use href="#eLP" stroke-width="45.7" stroke-opacity="0.0094"/></g></g>
<g mask="url(#mLP)"><g filter="url(#bl23)" fill="none" stroke="#000" stroke-linejoin="round"><use href="#eLP" stroke-width="43.6" stroke-opacity="0.0278"/><use href="#eLP" stroke-width="40.9" stroke-opacity="0.0286"/><use href="#eLP" stroke-width="38.4" stroke-opacity="0.0294"/><use href="#eLP" stroke-width="36.1" stroke-opacity="0.0303"/><use href="#eLP" stroke-width="34.0" stroke-opacity="0.0312"/><use href="#eLP" stroke-width="32.1" stroke-opacity="0.0323"/><use href="#eLP" stroke-width="30.5" stroke-opacity="0.0333"/><use href="#eLP" stroke-width="29.0" stroke-opacity="0.0345"/><use href="#eLP" stroke-width="27.5" stroke-opacity="0.0357"/><use href="#eLP" stroke-width="26.1" stroke-opacity="0.0370"/><use href="#eLP" stroke-width="24.7" stroke-opacity="0.0385"/><use href="#eLP" stroke-width="23.4" stroke-opacity="0.0400"/><use href="#eLP" stroke-width="22.0" stroke-opacity="0.0417"/><use href="#eLP" stroke-width="20.9" stroke-opacity="0.0435"/><use href="#eLP" stroke-width="19.7" stroke-opacity="0.0455"/><use href="#eLP" stroke-width="18.6" stroke-opacity="0.0476"/><use href="#eLP" stroke-width="17.5" stroke-opacity="0.0500"/><use href="#eLP" stroke-width="16.5" stroke-opacity="0.0526"/><use href="#eLP" stroke-width="15.5" stroke-opacity="0.0556"/><use href="#eLP" stroke-width="14.6" stroke-opacity="0.0588"/><use href="#eLP" stroke-width="13.7" stroke-opacity="0.0625"/><use href="#eLP" stroke-width="12.8" stroke-opacity="0.0667"/><use href="#eLP" stroke-width="12.0" stroke-opacity="0.0714"/><use href="#eLP" stroke-width="11.3" stroke-opacity="0.0769"/><use href="#eLP" stroke-width="10.6" stroke-opacity="0.0833"/><use href="#eLP" stroke-width="10.0" stroke-opacity="0.0909"/><use href="#eLP" stroke-width="9.3" stroke-opacity="0.1000"/><use href="#eLP" stroke-width="8.7" stroke-opacity="0.1111"/><use href="#eLP" stroke-width="8.0" stroke-opacity="0.1250"/><use href="#eLP" stroke-width="7.4" stroke-opacity="0.1429"/><use href="#eLP" stroke-width="6.9" stroke-opacity="0.1667"/><use href="#eLP" stroke-width="6.3" stroke-opacity="0.2000"/><use href="#eLP" stroke-width="5.7" stroke-opacity="0.2500"/><use href="#eLP" stroke-width="4.8" stroke-opacity="0.3333"/><use href="#eLP" stroke-width="3.5" stroke-opacity="0.5000"/><use href="#eLP" stroke-width="1.9" stroke-opacity="1.0000"/></g></g>
</g></g>
<path d="M1506.09,61 L1506.04,63 L1506,65 L1505.95,67 L1505.91,69 L1505.86,71 L1505.81,73 L1505.76,75 L1505.71,77 L1505.66,79 L1505.6,81 L1505.55,83 L1505.49,85 L1505.43,87 L1505.38,89 L1505.32,91 L1505.25,93 L1505.19,95 L1505.12,97 L1505.06,99 L1504.99,101 L1504.92,103 L1504.85,105 L1504.77,107 L1504.7,109 L1504.62,111 L1504.54,113 L1504.45,115 L1504.37,117 L1504.28,119 L1504.19,121 L1504.1,123 L1504,125 L1503.9,127 L1503.8,129 L1503.7,131 L1503.59,133 L1503.47,135 L1503.36,137 L1503.24,139 L1503.11,141 L1502.99,143 L1502.85,145 L1502.72,147 L1502.58,149 L1502.43,151 L1502.28,153 L1502.12,155 L1501.95,157 L1501.78,159 L1501.61,161 L1501.42,163 L1501.23,165 L1501.03,167 L1500.82,169 L1500.61,171 L1500.38,173 L1500.15,175 L1499.91,177 L1499.65,179 L1499.39,181 L1499.11,183 L1498.82,185 L1498.51,187 L1498.2,189 L1497.87,191 L1497.52,193 L1497.15,195 L1496.77,197 L1496.38,199 L1495.96,201 L1495.52,203 L1495.06,205 L1494.58,207 L1494.08,209 L1493.55,211 L1493,213 L1492.42,215 L1491.82,217 L1491.18,219 L1490.52,221 L1489.83,223 L1489.11,225 L1488.35,227 L1487.57,229 L1486.75,231 L1485.89,233 L1485.01,235 L1484.09,237 L1483.14,239 L1482.15,241 L1481.13,243 L1480.08,245 L1478.99,247 L1477.87,249 L1476.72,251 L1475.54,253 L1474.33,255 L1473.09,257 L1471.82,259 L1470.53,261 L1469.2,263 L1467.85,265 L1466.48,267 L1465.09,269 L1463.67,271 L1462.23,273 L1460.77,275 L1459.28,277 L1457.79,279 L1456.27,281 L1454.73,283 L1453.18,285 L1451.62,287 L1450.04,289 L1448.44,291 L1446.83,293 L1445.21,295 L1443.58,297 L1441.94,299 L1440.28,301 L1438.62,303 L1436.94,305 L1435.26,307 L1433.56,309 L1431.86,311 L1430.15,313 L1428.43,315 L1426.7,317 L1424.97,319 L1423.23,321 L1421.48,323 L1419.73,325 L1417.97,327 L1416.2,329 L1414.43,331 L1412.65,333 L1410.87,335 L1409.08,337 L1407.29,339 L1405.49,341 L1403.69,343 L1401.88,345 L1400.07,347 L1398.25,349 L1396.43,351 L1394.61,353 L1392.78,355 L1390.95,357 L1389.12,359 L1387.28,361 L1385.44,363 L1383.6,365 L1381.75,367 L1379.9,369 L1378.04,371 L1376.19,373 L1374.33,375 L1372.46,377 L1370.6,379 L1368.73,381 L1366.86,383 L1364.98,385 L1363.11,387 L1361.23,389 L1359.35,391 L1357.46,393 L1355.58,395 L1353.69,397 L1351.8,399 L1349.9,401 L1348.01,403 L1346.11,405 L1344.21,407 L1342.31,409 L1340.4,411 L1338.5,413 L1336.59,415 L1334.68,417 L1332.77,419 L1330.85,421 L1328.94,423 L1327.02,425 L1325.1,427 L1323.18,429" fill="none" stroke="#fff" stroke-width="1.9" stroke-dasharray="14 13" stroke-dashoffset="21.9" clip-path="url(#clipE)"/>
<path d="M1513.76,429 L1513.8,427 L1513.83,425 L1513.87,423 L1513.91,421 L1513.95,419 L1513.99,417 L1514.03,415 L1514.08,413 L1514.12,411 L1514.16,409 L1514.21,407 L1514.26,405 L1514.3,403 L1514.35,401 L1514.4,399 L1514.45,397 L1514.5,395 L1514.56,393 L1514.61,391 L1514.67,389 L1514.73,387 L1514.78,385 L1514.84,383 L1514.91,381 L1514.97,379 L1515.03,377 L1515.1,375 L1515.17,373 L1515.24,371 L1515.31,369 L1515.38,367 L1515.46,365 L1515.54,363 L1515.62,361 L1515.7,359 L1515.78,357 L1515.87,355 L1515.96,353 L1516.05,351 L1516.15,349 L1516.24,347 L1516.35,345 L1516.45,343 L1516.56,341 L1516.67,339 L1516.78,337 L1516.9,335 L1517.02,333 L1517.15,331 L1517.28,329 L1517.42,327 L1517.56,325 L1517.7,323 L1517.85,321 L1518.01,319 L1518.17,317 L1518.34,315 L1518.52,313 L1518.7,311 L1518.89,309 L1519.08,307 L1519.29,305 L1519.5,303 L1519.72,301 L1519.95,299 L1520.19,297 L1520.44,295 L1520.7,293 L1520.98,291 L1521.26,289 L1521.56,287 L1521.87,285 L1522.2,283 L1522.54,281 L1522.9,279 L1523.27,277 L1523.67,275 L1524.08,273 L1524.5,271 L1524.95,269 L1525.43,267 L1525.92,265 L1526.44,263 L1526.98,261 L1527.54,259 L1528.14,257 L1528.76,255 L1529.41,253 L1530.08,251 L1530.79,249 L1531.53,247 L1532.3,245 L1533.1,243 L1533.93,241 L1534.8,239 L1535.69,237 L1536.62,235 L1537.59,233 L1538.58,231 L1539.61,229 L1540.67,227 L1541.76,225 L1542.88,223 L1544.03,221 L1545.2,219 L1546.41,217 L1547.64,215 L1548.9,213 L1550.18,211 L1551.49,209 L1552.82,207 L1554.17,205 L1555.55,203 L1556.94,201 L1558.35,199 L1559.78,197 L1561.23,195 L1562.69,193 L1564.16,191 L1565.66,189 L1567.16,187 L1568.68,185 L1570.21,183 L1571.75,181 L1573.3,179 L1574.86,177 L1576.43,175 L1578.01,173 L1579.6,171 L1581.2,169 L1582.8,167 L1584.41,165 L1586.03,163 L1587.65,161 L1589.28,159 L1590.91,157 L1592.55,155 L1594.2,153 L1595.85,151 L1597.5,149 L1599.16,147 L1600.82,145 L1602.48,143 L1604.15,141 L1605.82,139 L1607.49,137 L1609.17,135 L1610.85,133 L1612.53,131 L1614.21,129 L1615.9,127 L1617.59,125 L1619.28,123 L1620.97,121 L1622.66,119 L1624.35,117 L1626.05,115 L1627.75,113 L1629.44,111 L1631.14,109 L1632.84,107 L1634.54,105 L1636.25,103 L1637.95,101 L1639.65,99 L1641.35,97 L1643.06,95 L1644.76,93 L1646.47,91 L1648.17,89 L1649.88,87 L1651.59,85 L1653.29,83 L1655,81 L1656.71,79 L1658.41,77 L1660.12,75 L1661.83,73 L1663.53,71 L1665.24,69 L1666.95,67 L1668.65,65 L1670.36,63 L1672.07,61" fill="none" stroke="#fff" stroke-width="1.9" stroke-dasharray="14 13" clip-path="url(#clipE)"/>
<text x="1461" y="97" font-size="24" text-anchor="start" fill="#000">UP</text>
<text x="1476.5" y="404" font-size="24" text-anchor="start" fill="#000">LP</text>
<g clip-path="url(#clipEI)"><g filter="url(#cmR)">
<rect x="1565.3" y="265.3" width="116.1" height="122" fill="#f0f0f0"/>
<g><g filter="url(#bl24)" fill="none" stroke="#000" stroke-linejoin="round"><use href="#eIN" stroke-width="118.4" stroke-opacity="0.0073"/><use href="#eIN" stroke-width="99.3" stroke-opacity="0.0074"/><use href="#eIN" stroke-width="88.2" stroke-opacity="0.0074"/><use href="#eIN" stroke-width="80.7" stroke-opacity="0.0075"/><use href="#eIN" stroke-width="74.6" stroke-opacity="0.0075"/><use href="#eIN" stroke-width="69.2" stroke-opacity="0.0076"/><use href="#eIN" stroke-width="64.2" stroke-opacity="0.0076"/><use href="#eIN" stroke-width="60.0" stroke-opacity="0.0077"/><use href="#eIN" stroke-width="56.7" stroke-opacity="0.0078"/><use href="#eIN" stroke-width="53.7" stroke-opacity="0.0078"/><use href="#eIN" stroke-width="51.1" stroke-opacity="0.0079"/><use href="#eIN" stroke-width="48.6" stroke-opacity="0.0080"/><use href="#eIN" stroke-width="46.3" stroke-opacity="0.0080"/><use href="#eIN" stroke-width="44.2" stroke-opacity="0.0081"/><use href="#eIN" stroke-width="42.1" stroke-opacity="0.0081"/><use href="#eIN" stroke-width="40.2" stroke-opacity="0.0082"/><use href="#eIN" stroke-width="38.4" stroke-opacity="0.0083"/><use href="#eIN" stroke-width="36.8" stroke-opacity="0.0084"/><use href="#eIN" stroke-width="35.3" stroke-opacity="0.0084"/><use href="#eIN" stroke-width="33.9" stroke-opacity="0.0085"/><use href="#eIN" stroke-width="32.6" stroke-opacity="0.0086"/><use href="#eIN" stroke-width="31.4" stroke-opacity="0.0086"/><use href="#eIN" stroke-width="30.3" stroke-opacity="0.0087"/><use href="#eIN" stroke-width="29.2" stroke-opacity="0.0088"/><use href="#eIN" stroke-width="28.2" stroke-opacity="0.0089"/><use href="#eIN" stroke-width="27.3" stroke-opacity="0.0090"/><use href="#eIN" stroke-width="26.5" stroke-opacity="0.0090"/><use href="#eIN" stroke-width="25.7" stroke-opacity="0.0091"/><use href="#eIN" stroke-width="25.0" stroke-opacity="0.0092"/><use href="#eIN" stroke-width="24.4" stroke-opacity="0.0093"/><use href="#eIN" stroke-width="23.8" stroke-opacity="0.0094"/><use href="#eIN" stroke-width="23.2" stroke-opacity="0.0095"/></g></g>
<g><g filter="url(#bl25)" fill="none" stroke="#000" stroke-linejoin="round"><use href="#eIN" stroke-width="22.1" stroke-opacity="0.0278"/><use href="#eIN" stroke-width="20.7" stroke-opacity="0.0286"/><use href="#eIN" stroke-width="19.4" stroke-opacity="0.0294"/><use href="#eIN" stroke-width="18.3" stroke-opacity="0.0303"/><use href="#eIN" stroke-width="17.4" stroke-opacity="0.0312"/><use href="#eIN" stroke-width="16.5" stroke-opacity="0.0323"/><use href="#eIN" stroke-width="15.8" stroke-opacity="0.0333"/><use href="#eIN" stroke-width="15.0" stroke-opacity="0.0345"/><use href="#eIN" stroke-width="14.3" stroke-opacity="0.0357"/><use href="#eIN" stroke-width="13.7" stroke-opacity="0.0370"/><use href="#eIN" stroke-width="13.2" stroke-opacity="0.0385"/><use href="#eIN" stroke-width="12.6" stroke-opacity="0.0400"/><use href="#eIN" stroke-width="12.2" stroke-opacity="0.0417"/><use href="#eIN" stroke-width="11.7" stroke-opacity="0.0435"/><use href="#eIN" stroke-width="11.2" stroke-opacity="0.0455"/><use href="#eIN" stroke-width="10.8" stroke-opacity="0.0476"/><use href="#eIN" stroke-width="10.4" stroke-opacity="0.0500"/><use href="#eIN" stroke-width="10.1" stroke-opacity="0.0526"/><use href="#eIN" stroke-width="9.7" stroke-opacity="0.0556"/><use href="#eIN" stroke-width="9.4" stroke-opacity="0.0588"/><use href="#eIN" stroke-width="9.1" stroke-opacity="0.0625"/><use href="#eIN" stroke-width="8.8" stroke-opacity="0.0667"/><use href="#eIN" stroke-width="8.4" stroke-opacity="0.0714"/><use href="#eIN" stroke-width="8.1" stroke-opacity="0.0769"/><use href="#eIN" stroke-width="7.8" stroke-opacity="0.0833"/><use href="#eIN" stroke-width="7.4" stroke-opacity="0.0909"/><use href="#eIN" stroke-width="7.1" stroke-opacity="0.1000"/><use href="#eIN" stroke-width="6.8" stroke-opacity="0.1111"/><use href="#eIN" stroke-width="6.5" stroke-opacity="0.1250"/><use href="#eIN" stroke-width="6.2" stroke-opacity="0.1429"/><use href="#eIN" stroke-width="5.9" stroke-opacity="0.1667"/><use href="#eIN" stroke-width="5.5" stroke-opacity="0.2000"/><use href="#eIN" stroke-width="5.0" stroke-opacity="0.2500"/><use href="#eIN" stroke-width="3.9" stroke-opacity="0.3333"/><use href="#eIN" stroke-width="2.2" stroke-opacity="0.5000"/></g></g>
</g></g>
<line x1="1553.3" y1="404.68" x2="1693.4" y2="247.92" stroke="#fff" stroke-width="1.7" stroke-dasharray="1.6 3.2" clip-path="url(#clipEI)"/>
<line x1="1622.8" y1="273.3" x2="1622.8" y2="379.3" stroke="#000" stroke-width="1.5" stroke-dasharray="4 3"/>
<rect x="1573.3" y="273.3" width="100.1" height="106" fill="none" stroke="#000" stroke-width="1.7"/>
<text x="1622.5" y="260.9" font-size="24" text-anchor="middle" fill="#e2121c">n-doped</text>
<text x="1631" y="365.7" font-size="24">λ<tspan font-size="16" dy="4">A</tspan></text>
<text x="1583.4" y="405.6" font-size="24">λ<tspan font-size="18" dy="6">0</tspan><tspan dy="-6"> (nm)</tspan></text>
<text transform="translate(1560.5,327) rotate(-90)" font-size="24" text-anchor="middle"><tspan font-family="'Liberation Serif', 'Times New Roman', serif">Λ</tspan> (nm)</text>
<rect x="1336.4" y="60.5" width="349.6" height="370.6" fill="none" stroke="#000" stroke-width="1.7"/>
<line x1="1327.9" y1="60.5" x2="1345.4" y2="60.5" stroke="#000" stroke-width="1.7"/>
<line x1="1327.9" y1="219.33" x2="1345.4" y2="219.33" stroke="#000" stroke-width="1.7"/>
<line x1="1327.9" y1="378.16" x2="1345.4" y2="378.16" stroke="#000" stroke-width="1.7"/>
<line x1="1336.4" y1="113.44" x2="1341.4" y2="113.44" stroke="#000" stroke-width="1.7"/>
<line x1="1336.4" y1="166.39" x2="1341.4" y2="166.39" stroke="#000" stroke-width="1.7"/>
<line x1="1336.4" y1="272.27" x2="1341.4" y2="272.27" stroke="#000" stroke-width="1.7"/>
<line x1="1336.4" y1="325.21" x2="1341.4" y2="325.21" stroke="#000" stroke-width="1.7"/>
<line x1="1380.1" y1="422.4" x2="1380.1" y2="440.1" stroke="#000" stroke-width="1.7"/>
<line x1="1511.2" y1="422.4" x2="1511.2" y2="440.1" stroke="#000" stroke-width="1.7"/>
<line x1="1642.3" y1="422.4" x2="1642.3" y2="440.1" stroke="#000" stroke-width="1.7"/>
<line x1="1423.8" y1="425.6" x2="1423.8" y2="431.1" stroke="#000" stroke-width="1.7"/>
<line x1="1467.5" y1="425.6" x2="1467.5" y2="431.1" stroke="#000" stroke-width="1.7"/>
<line x1="1554.9" y1="425.6" x2="1554.9" y2="431.1" stroke="#000" stroke-width="1.7"/>
<line x1="1598.6" y1="425.6" x2="1598.6" y2="431.1" stroke="#000" stroke-width="1.7"/>
<text x="1314.5" y="70.7" font-size="28.4" text-anchor="end" fill="#000">400</text>
<text x="1314.5" y="229.53" font-size="28.4" text-anchor="end" fill="#000">370</text>
<text x="1314.5" y="388.36" font-size="28.4" text-anchor="end" fill="#000">340</text>
<text x="1380.1" y="476.4" font-size="28.4" text-anchor="middle" fill="#000">590</text>
<text x="1511.2" y="476.4" font-size="28.4" text-anchor="middle" fill="#000">620</text>
<text x="1642.3" y="476.4" font-size="28.4" text-anchor="middle" fill="#000">650</text>
<text x="1511" y="521.5" font-size="29.2" text-anchor="middle" fill="#000">Wavelength (nm)</text>
<text transform="translate(1234,245.7) rotate(-90)" font-size="29.2" text-anchor="middle">Grating period (nm)</text>
<rect x="1697.3" y="60.5" width="19.4" height="370.6" fill="url(#gR)" stroke="#000" stroke-width="1.6"/>
<line x1="1716.7" y1="431.1" x2="1723.7" y2="431.1" stroke="#000" stroke-width="1.6"/>
<line x1="1711.7" y1="356.98" x2="1721.7" y2="356.98" stroke="#000" stroke-width="1.6"/>
<line x1="1711.7" y1="282.86" x2="1721.7" y2="282.86" stroke="#000" stroke-width="1.6"/>
<line x1="1711.7" y1="208.74" x2="1721.7" y2="208.74" stroke="#000" stroke-width="1.6"/>
<line x1="1711.7" y1="134.62" x2="1721.7" y2="134.62" stroke="#000" stroke-width="1.6"/>
<line x1="1716.7" y1="60.5" x2="1723.7" y2="60.5" stroke="#000" stroke-width="1.6"/>
<text x="1777.5" y="70.7" font-size="28.4" text-anchor="end" fill="#000">1.0</text>
<text x="1777.5" y="441.3" font-size="28.4" text-anchor="end" fill="#000">0.0</text>
<text x="1516.8" y="34.7" font-size="29.2" text-anchor="middle" fill="#1f3fc8">intrinsic</text>
<text x="1783" y="34.7" font-size="29.2" text-anchor="end" fill="#000">Reflectance</text>
<text x="1211" y="22.5" font-size="40" text-anchor="start" fill="#000" font-weight="bold">e</text>
<g clip-path="url(#clipF)"><g filter="url(#cmD)">
<rect x="1328.3" y="639.5" width="364.8" height="385.8" fill="#838383"/>
<g><g filter="url(#bl33)" fill="none" stroke="#000" stroke-linejoin="round"><path d="M1500 617.5 L1508 800 L1524 870 L1530 1047.3" fill="none" stroke="#000" stroke-opacity="0.045" stroke-width="34"/></g></g>
<g><g filter="url(#bl34)" fill="none" stroke="#000" stroke-linejoin="round"><ellipse cx="1486" cy="792" rx="22" ry="52" fill="#000" fill-opacity="0.2" stroke="none"/><ellipse cx="1536" cy="878" rx="22" ry="52" fill="#000" fill-opacity="0.2" stroke="none"/></g></g>
<g fill="none" stroke="#000" stroke-linejoin="round"><g mask="url(#mRc)"><g filter="url(#bl26)"><use href="#fR" stroke-width="53.9" stroke-opacity="0.0080" stroke="#fff"/><use href="#fR" stroke-width="48.6" stroke-opacity="0.0080" stroke="#fff"/><use href="#fR" stroke-width="44.4" stroke-opacity="0.0081" stroke="#fff"/><use href="#fR" stroke-width="40.8" stroke-opacity="0.0082" stroke="#fff"/><use href="#fR" stroke-width="38.2" stroke-opacity="0.0082" stroke="#fff"/><use href="#fR" stroke-width="36.0" stroke-opacity="0.0083" stroke="#fff"/><use href="#fR" stroke-width="34.1" stroke-opacity="0.0084" stroke="#fff"/><use href="#fR" stroke-width="32.4" stroke-opacity="0.0084" stroke="#fff"/><use href="#fR" stroke-width="30.8" stroke-opacity="0.0085" stroke="#fff"/><use href="#fR" stroke-width="29.4" stroke-opacity="0.0086" stroke="#fff"/><use href="#fR" stroke-width="28.2" stroke-opacity="0.0087" stroke="#fff"/><use href="#fR" stroke-width="27.2" stroke-opacity="0.0087" stroke="#fff"/><use href="#fR" stroke-width="26.2" stroke-opacity="0.0088" stroke="#fff"/><use href="#fR" stroke-width="25.4" stroke-opacity="0.0089" stroke="#fff"/><use href="#fR" stroke-width="24.6" stroke-opacity="0.0090" stroke="#fff"/><use href="#fR" stroke-width="23.9" stroke-opacity="0.0090" stroke="#fff"/><use href="#fR" stroke-width="23.2" stroke-opacity="0.0091" stroke="#fff"/><use href="#fR" stroke-width="22.5" stroke-opacity="0.0092" stroke="#fff"/><use href="#fR" stroke-width="21.9" stroke-opacity="0.0093" stroke="#fff"/><use href="#fR" stroke-width="21.4" stroke-opacity="0.0094" stroke="#fff"/><use href="#fR" stroke-width="20.8" stroke-opacity="0.0095" stroke="#fff"/><use href="#fR" stroke-width="20.3" stroke-opacity="0.0096" stroke="#fff"/><use href="#fR" stroke-width="18.9" stroke-opacity="0.0493" stroke="#fff"/><use href="#fR" stroke-width="17.2" stroke-opacity="0.0519" stroke="#fff"/><use href="#fR" stroke-width="15.8" stroke-opacity="0.0547" stroke="#fff"/><use href="#fR" stroke-width="14.6" stroke-opacity="0.0579" stroke="#fff"/><use href="#fR" stroke-width="13.6" stroke-opacity="0.0615" stroke="#fff"/><use href="#fR" stroke-width="12.7" stroke-opacity="0.0655" stroke="#fff"/><use href="#fR" stroke-width="12.0" stroke-opacity="0.0701" stroke="#fff"/><use href="#fR" stroke-width="11.3" stroke-opacity="0.0754" stroke="#fff"/><use href="#fR" stroke-width="10.7" stroke-opacity="0.0815" stroke="#fff"/><use href="#fR" stroke-width="10.2" stroke-opacity="0.0888" stroke="#fff"/><use href="#fR" stroke-width="9.8" stroke-opacity="0.0974" stroke="#fff"/><use href="#fR" stroke-width="9.4" stroke-opacity="0.1079" stroke="#fff"/><use href="#fR" stroke-width="9.1" stroke-opacity="0.1210" stroke="#fff"/><use href="#fR" stroke-width="8.7" stroke-opacity="0.1376" stroke="#fff"/><use href="#fR" stroke-width="8.3" stroke-opacity="0.1596" stroke="#fff"/><use href="#fR" stroke-width="7.9" stroke-opacity="0.1899" stroke="#fff"/><use href="#fR" stroke-width="7.5" stroke-opacity="0.2344" stroke="#fff"/><use href="#fR" stroke-width="7.2" stroke-opacity="0.3061" stroke="#fff"/><use href="#fR" stroke-width="6.4" stroke-opacity="0.4412" stroke="#fff"/></g></g></g>
<g fill="none" stroke="#000" stroke-linejoin="round"><g mask="url(#mHlo)"><g clip-path="url(#cpLRlo)"><g filter="url(#bl27)"><use href="#fH1" stroke-width="65.9" stroke-opacity="0.0080" stroke="#fff"/><use href="#fH1" stroke-width="62.8" stroke-opacity="0.0080" stroke="#fff"/><use href="#fH1" stroke-width="60.3" stroke-opacity="0.0081" stroke="#fff"/><use href="#fH1" stroke-width="58.1" stroke-opacity="0.0082" stroke="#fff"/><use href="#fH1" stroke-width="56.0" stroke-opacity="0.0082" stroke="#fff"/><use href="#fH1" stroke-width="54.1" stroke-opacity="0.0083" stroke="#fff"/><use href="#fH1" stroke-width="52.3" stroke-opacity="0.0084" stroke="#fff"/><use href="#fH1" stroke-width="50.5" stroke-opacity="0.0084" stroke="#fff"/><use href="#fH1" stroke-width="48.8" stroke-opacity="0.0085" stroke="#fff"/><use href="#fH1" stroke-width="47.2" stroke-opacity="0.0086" stroke="#fff"/><use href="#fH1" stroke-width="45.8" stroke-opacity="0.0087" stroke="#fff"/><use href="#fH1" stroke-width="44.5" stroke-opacity="0.0087" stroke="#fff"/><use href="#fH1" stroke-width="43.3" stroke-opacity="0.0088" stroke="#fff"/><use href="#fH1" stroke-width="42.2" stroke-opacity="0.0089" stroke="#fff"/><use href="#fH1" stroke-width="41.1" stroke-opacity="0.0090" stroke="#fff"/><use href="#fH1" stroke-width="40.0" stroke-opacity="0.0090" stroke="#fff"/><use href="#fH1" stroke-width="39.0" stroke-opacity="0.0091" stroke="#fff"/><use href="#fH1" stroke-width="38.1" stroke-opacity="0.0092" stroke="#fff"/><use href="#fH1" stroke-width="37.2" stroke-opacity="0.0093" stroke="#fff"/><use href="#fH1" stroke-width="36.4" stroke-opacity="0.0094" stroke="#fff"/><use href="#fH1" stroke-width="35.7" stroke-opacity="0.0095" stroke="#fff"/><use href="#fH1" stroke-width="35.0" stroke-opacity="0.0096" stroke="#fff"/><use href="#fH1" stroke-width="33.0" stroke-opacity="0.0493" stroke="#fff"/><use href="#fH1" stroke-width="30.4" stroke-opacity="0.0519" stroke="#fff"/><use href="#fH1" stroke-width="28.4" stroke-opacity="0.0547" stroke="#fff"/><use href="#fH1" stroke-width="26.8" stroke-opacity="0.0579" stroke="#fff"/><use href="#fH1" stroke-width="25.4" stroke-opacity="0.0615" stroke="#fff"/><use href="#fH1" stroke-width="24.4" stroke-opacity="0.0655" stroke="#fff"/><use href="#fH1" stroke-width="23.6" stroke-opacity="0.0701" stroke="#fff"/><use href="#fH1" stroke-width="22.8" stroke-opacity="0.0754" stroke="#fff"/><use href="#fH1" stroke-width="22.0" stroke-opacity="0.0815" stroke="#fff"/><use href="#fH1" stroke-width="21.4" stroke-opacity="0.0888" stroke="#fff"/><use href="#fH1" stroke-width="20.8" stroke-opacity="0.0974" stroke="#fff"/><use href="#fH1" stroke-width="20.2" stroke-opacity="0.1079" stroke="#fff"/><use href="#fH1" stroke-width="19.7" stroke-opacity="0.1210" stroke="#fff"/><use href="#fH1" stroke-width="19.2" stroke-opacity="0.1376" stroke="#fff"/><use href="#fH1" stroke-width="18.6" stroke-opacity="0.1596" stroke="#fff"/><use href="#fH1" stroke-width="18.2" stroke-opacity="0.1899" stroke="#fff"/><use href="#fH1" stroke-width="17.8" stroke-opacity="0.2344" stroke="#fff"/><use href="#fH1" stroke-width="17.4" stroke-opacity="0.3061" stroke="#fff"/><use href="#fH1" stroke-width="16.5" stroke-opacity="0.4412" stroke="#fff"/></g></g></g></g>
<g fill="none" stroke="#000" stroke-linejoin="round"><g mask="url(#mHhi)"><g clip-path="url(#cpULhi)"><g filter="url(#bl28)"><use href="#fH2" stroke-width="123.1" stroke-opacity="0.0080" stroke="#fff"/><use href="#fH2" stroke-width="113.7" stroke-opacity="0.0080" stroke="#fff"/><use href="#fH2" stroke-width="106.4" stroke-opacity="0.0081" stroke="#fff"/><use href="#fH2" stroke-width="99.9" stroke-opacity="0.0082" stroke="#fff"/><use href="#fH2" stroke-width="93.9" stroke-opacity="0.0082" stroke="#fff"/><use href="#fH2" stroke-width="88.2" stroke-opacity="0.0083" stroke="#fff"/><use href="#fH2" stroke-width="83.0" stroke-opacity="0.0084" stroke="#fff"/><use href="#fH2" stroke-width="78.5" stroke-opacity="0.0084" stroke="#fff"/><use href="#fH2" stroke-width="74.4" stroke-opacity="0.0085" stroke="#fff"/><use href="#fH2" stroke-width="70.6" stroke-opacity="0.0086" stroke="#fff"/><use href="#fH2" stroke-width="67.2" stroke-opacity="0.0087" stroke="#fff"/><use href="#fH2" stroke-width="64.1" stroke-opacity="0.0087" stroke="#fff"/><use href="#fH2" stroke-width="61.2" stroke-opacity="0.0088" stroke="#fff"/><use href="#fH2" stroke-width="58.6" stroke-opacity="0.0089" stroke="#fff"/><use href="#fH2" stroke-width="56.2" stroke-opacity="0.0090" stroke="#fff"/><use href="#fH2" stroke-width="54.1" stroke-opacity="0.0090" stroke="#fff"/><use href="#fH2" stroke-width="52.2" stroke-opacity="0.0091" stroke="#fff"/><use href="#fH2" stroke-width="50.4" stroke-opacity="0.0092" stroke="#fff"/><use href="#fH2" stroke-width="48.8" stroke-opacity="0.0093" stroke="#fff"/><use href="#fH2" stroke-width="47.3" stroke-opacity="0.0094" stroke="#fff"/><use href="#fH2" stroke-width="46.0" stroke-opacity="0.0095" stroke="#fff"/><use href="#fH2" stroke-width="44.6" stroke-opacity="0.0096" stroke="#fff"/><use href="#fH2" stroke-width="41.3" stroke-opacity="0.0493" stroke="#fff"/><use href="#fH2" stroke-width="37.3" stroke-opacity="0.0519" stroke="#fff"/><use href="#fH2" stroke-width="33.8" stroke-opacity="0.0547" stroke="#fff"/><use href="#fH2" stroke-width="30.5" stroke-opacity="0.0579" stroke="#fff"/><use href="#fH2" stroke-width="27.6" stroke-opacity="0.0615" stroke="#fff"/><use href="#fH2" stroke-width="25.2" stroke-opacity="0.0655" stroke="#fff"/><use href="#fH2" stroke-width="23.3" stroke-opacity="0.0701" stroke="#fff"/><use href="#fH2" stroke-width="21.9" stroke-opacity="0.0754" stroke="#fff"/><use href="#fH2" stroke-width="20.7" stroke-opacity="0.0815" stroke="#fff"/><use href="#fH2" stroke-width="19.6" stroke-opacity="0.0888" stroke="#fff"/><use href="#fH2" stroke-width="18.7" stroke-opacity="0.0974" stroke="#fff"/><use href="#fH2" stroke-width="17.8" stroke-opacity="0.1079" stroke="#fff"/><use href="#fH2" stroke-width="17.1" stroke-opacity="0.1210" stroke="#fff"/><use href="#fH2" stroke-width="16.4" stroke-opacity="0.1376" stroke="#fff"/><use href="#fH2" stroke-width="15.8" stroke-opacity="0.1596" stroke="#fff"/><use href="#fH2" stroke-width="15.5" stroke-opacity="0.1899" stroke="#fff"/><use href="#fH2" stroke-width="15.1" stroke-opacity="0.2344" stroke="#fff"/><use href="#fH2" stroke-width="14.7" stroke-opacity="0.3061" stroke="#fff"/><use href="#fH2" stroke-width="13.9" stroke-opacity="0.4412" stroke="#fff"/></g></g></g></g>
<g fill="none" stroke="#000" stroke-linejoin="round"><g mask="url(#mBlo)"><g clip-path="url(#cpULlo)"><g filter="url(#bl29)"><use href="#fB1" stroke-width="78.5" stroke-opacity="0.0074"/><use href="#fB1" stroke-width="74.0" stroke-opacity="0.0075"/><use href="#fB1" stroke-width="70.5" stroke-opacity="0.0075"/><use href="#fB1" stroke-width="67.3" stroke-opacity="0.0076"/><use href="#fB1" stroke-width="64.4" stroke-opacity="0.0077"/><use href="#fB1" stroke-width="62.2" stroke-opacity="0.0077"/><use href="#fB1" stroke-width="60.3" stroke-opacity="0.0078"/><use href="#fB1" stroke-width="58.6" stroke-opacity="0.0078"/><use href="#fB1" stroke-width="57.1" stroke-opacity="0.0079"/><use href="#fB1" stroke-width="55.6" stroke-opacity="0.0080"/><use href="#fB1" stroke-width="54.3" stroke-opacity="0.0080"/><use href="#fB1" stroke-width="53.0" stroke-opacity="0.0081"/><use href="#fB1" stroke-width="51.7" stroke-opacity="0.0082"/><use href="#fB1" stroke-width="50.5" stroke-opacity="0.0082"/><use href="#fB1" stroke-width="49.4" stroke-opacity="0.0083"/><use href="#fB1" stroke-width="48.4" stroke-opacity="0.0084"/><use href="#fB1" stroke-width="47.4" stroke-opacity="0.0084"/><use href="#fB1" stroke-width="44.8" stroke-opacity="0.0429"/><use href="#fB1" stroke-width="41.1" stroke-opacity="0.0448"/><use href="#fB1" stroke-width="38.0" stroke-opacity="0.0469"/><use href="#fB1" stroke-width="35.5" stroke-opacity="0.0492"/><use href="#fB1" stroke-width="33.4" stroke-opacity="0.0517"/><use href="#fB1" stroke-width="31.4" stroke-opacity="0.0545"/><use href="#fB1" stroke-width="29.7" stroke-opacity="0.0577"/><use href="#fB1" stroke-width="28.2" stroke-opacity="0.0612"/><use href="#fB1" stroke-width="26.7" stroke-opacity="0.0652"/><use href="#fB1" stroke-width="25.4" stroke-opacity="0.0698"/><use href="#fB1" stroke-width="24.2" stroke-opacity="0.0750"/><use href="#fB1" stroke-width="23.0" stroke-opacity="0.0811"/><use href="#fB1" stroke-width="22.0" stroke-opacity="0.0882"/><use href="#fB1" stroke-width="20.9" stroke-opacity="0.0968"/><use href="#fB1" stroke-width="19.9" stroke-opacity="0.1071"/><use href="#fB1" stroke-width="19.0" stroke-opacity="0.1200"/><use href="#fB1" stroke-width="18.2" stroke-opacity="0.1364"/><use href="#fB1" stroke-width="17.3" stroke-opacity="0.1579"/><use href="#fB1" stroke-width="16.4" stroke-opacity="0.1875"/><use href="#fB1" stroke-width="15.6" stroke-opacity="0.2308"/><use href="#fB1" stroke-width="11.9" stroke-opacity="0.3000"/></g></g></g></g>
<g fill="none" stroke="#000" stroke-linejoin="round"><g mask="url(#mBhi)"><g clip-path="url(#cpLRhi)"><g filter="url(#bl30)"><use href="#fB2" stroke-width="69.7" stroke-opacity="0.0074"/><use href="#fB2" stroke-width="64.6" stroke-opacity="0.0075"/><use href="#fB2" stroke-width="60.8" stroke-opacity="0.0075"/><use href="#fB2" stroke-width="57.4" stroke-opacity="0.0076"/><use href="#fB2" stroke-width="54.4" stroke-opacity="0.0077"/><use href="#fB2" stroke-width="52.2" stroke-opacity="0.0077"/><use href="#fB2" stroke-width="50.4" stroke-opacity="0.0078"/><use href="#fB2" stroke-width="48.7" stroke-opacity="0.0078"/><use href="#fB2" stroke-width="47.3" stroke-opacity="0.0079"/><use href="#fB2" stroke-width="45.9" stroke-opacity="0.0080"/><use href="#fB2" stroke-width="44.6" stroke-opacity="0.0080"/><use href="#fB2" stroke-width="43.4" stroke-opacity="0.0081"/><use href="#fB2" stroke-width="42.2" stroke-opacity="0.0082"/><use href="#fB2" stroke-width="41.0" stroke-opacity="0.0082"/><use href="#fB2" stroke-width="39.9" stroke-opacity="0.0083"/><use href="#fB2" stroke-width="38.8" stroke-opacity="0.0084"/><use href="#fB2" stroke-width="37.9" stroke-opacity="0.0084"/><use href="#fB2" stroke-width="35.3" stroke-opacity="0.0433"/><use href="#fB2" stroke-width="31.5" stroke-opacity="0.0452"/><use href="#fB2" stroke-width="28.2" stroke-opacity="0.0474"/><use href="#fB2" stroke-width="25.1" stroke-opacity="0.0497"/><use href="#fB2" stroke-width="22.4" stroke-opacity="0.0523"/><use href="#fB2" stroke-width="20.3" stroke-opacity="0.0552"/><use href="#fB2" stroke-width="18.7" stroke-opacity="0.0585"/><use href="#fB2" stroke-width="17.4" stroke-opacity="0.0621"/><use href="#fB2" stroke-width="16.3" stroke-opacity="0.0662"/><use href="#fB2" stroke-width="15.1" stroke-opacity="0.0709"/><use href="#fB2" stroke-width="14.1" stroke-opacity="0.0763"/><use href="#fB2" stroke-width="13.1" stroke-opacity="0.0826"/><use href="#fB2" stroke-width="12.3" stroke-opacity="0.0900"/><use href="#fB2" stroke-width="11.6" stroke-opacity="0.0989"/><use href="#fB2" stroke-width="11.1" stroke-opacity="0.1098"/><use href="#fB2" stroke-width="10.6" stroke-opacity="0.1233"/><use href="#fB2" stroke-width="10.2" stroke-opacity="0.1407"/><use href="#fB2" stroke-width="9.6" stroke-opacity="0.1637"/><use href="#fB2" stroke-width="6.5" stroke-opacity="0.1958"/></g></g></g></g>
<g fill="none" stroke="#000" stroke-linejoin="round"><g mask="url(#mBlo)"><g filter="url(#bl31)"><path d="M1254.13,1093.48 L1256.13,1091.38 L1258.13,1089.29 L1260.13,1087.19 L1262.13,1085.09 L1264.13,1082.99 L1266.13,1080.9 L1268.13,1078.81 L1270.13,1076.71 L1272.13,1074.62 L1274.13,1072.53 L1276.13,1070.44 L1278.13,1068.35 L1280.13,1066.26 L1282.13,1064.18 L1284.14,1062.09 L1286.14,1060.01 L1288.14,1057.92 L1290.14,1055.84 L1292.14,1053.76 L1294.14,1051.68 L1296.14,1049.6 L1298.14,1047.52 L1300.14,1045.44 L1302.14,1043.36 L1304.14,1041.29 L1306.14,1039.21 L1308.14,1037.14 L1310.14,1035.06 L1312.14,1032.99 L1314.14,1030.92 L1316.14,1028.85 L1318.14,1026.78 L1320.14,1024.71 L1322.14,1022.65 L1324.14,1020.58 L1326.15,1018.51 L1328.15,1016.45 L1330.15,1014.39 L1332.15,1012.33 L1334.15,1010.26 L1336.15,1008.2 L1338.15,1006.14 L1340.15,1004.09 L1342.15,1002.03 L1344.15,999.97 L1346.15,997.92 L1348.15,995.86 L1350.15,993.81 L1352.15,991.76 L1354.15,989.71 L1356.15,987.66 L1358.15,985.61 L1360.15,983.56 L1362.15,981.51 L1364.15,979.46 L1366.16,977.42 L1368.16,975.37 L1370.16,973.33 L1372.16,971.29 L1374.16,969.25 L1376.16,967.21 L1378.16,965.17 L1380.16,963.13 L1382.16,961.09 L1384.16,959.05 L1386.16,957.02 L1388.16,954.98 L1390.16,952.95 L1392.16,950.92 L1394.16,948.88 L1396.16,946.85 L1398.16,944.82 L1400.16,942.8 L1402.16,940.77 L1404.17,938.74 L1406.17,936.72 L1408.17,934.69 L1410.17,932.67 L1412.17,930.64 L1414.17,928.62 L1416.17,926.6 L1418.17,924.58 L1420.17,922.56 L1422.17,920.55 L1424.17,918.53 L1426.17,916.51 L1428.17,914.5 L1430.17,912.48 L1432.17,910.47 L1434.17,908.46 L1436.17,906.45 L1438.17,904.44 L1440.17,902.43 L1442.18,900.42 L1444.18,898.41 L1446.18,896.41 L1448.18,894.4 L1450.18,892.4 L1452.18,890.4 L1454.18,888.39 L1456.18,886.39 L1458.18,884.39 L1460.18,882.39 L1462.18,880.4 L1464.18,878.4 L1466.18,876.4 L1468.18,874.41 L1470.18,872.41 L1472.18,870.42 L1474.18,868.43 L1476.18,866.44 L1478.18,864.45 L1480.18,862.46 L1482.19,860.47 L1484.19,858.48 L1486.19,856.5 L1488.19,854.51 L1490.19,852.53 L1492.19,850.54 L1494.19,848.56 L1496.19,846.58 L1498.19,844.6 L1500.19,842.62 L1502.19,840.64 L1504.19,838.66 L1506.19,836.69 L1508.19,834.71 L1510.19,832.74 L1512.19,830.76 L1514.19,828.79 L1516.19,826.82 L1518.2,824.85 L1520.2,822.88 L1522.2,820.91 L1524.2,818.94 L1526.2,816.98 L1528.2,815.01 L1530.2,813.05 L1532.2,811.08 L1534.2,809.12 L1536.2,807.16 L1538.2,805.2 L1540.2,803.24 L1542.2,801.28 L1544.2,799.32 L1546.2,797.37 L1548.2,795.41 L1550.2,793.46 L1552.2,791.5 L1554.2,789.55 L1556.21,787.6 L1558.21,785.65 L1560.21,783.7 L1562.21,781.75 L1564.21,779.8 L1566.21,777.85 L1568.21,775.91 L1570.21,773.96 L1572.21,772.02 L1574.21,770.08 L1576.21,768.14 L1578.21,766.19 L1580.21,764.25 L1582.21,762.32 L1584.21,760.38 L1586.21,758.44 L1588.21,756.5 L1590.21,754.57 L1592.22,752.64 L1594.22,750.7 L1596.22,748.77 L1598.22,746.84 L1600.22,744.91 L1602.22,742.98 L1604.22,741.05 L1606.22,739.13 L1608.22,737.2 L1610.22,735.27 L1612.22,733.35 L1614.22,731.43 L1616.22,729.51 L1618.22,727.58 L1620.22,725.66 L1622.22,723.74 L1624.22,721.83 L1626.22,719.91 L1628.23,717.99 L1630.23,716.08 L1632.23,714.16 L1634.23,712.25 L1636.23,710.34 L1638.23,708.43 L1640.23,706.52 L1642.23,704.61 L1644.23,702.7 L1646.23,700.79 L1648.23,698.89 L1650.23,696.98 L1652.23,695.08 L1654.23,693.17 L1656.23,691.27 L1658.23,689.37 L1660.23,687.47 L1662.23,685.57 L1664.24,683.67 L1666.24,681.77 L1668.24,679.88 L1670.24,677.98 L1672.24,676.09 L1674.24,674.19 L1676.24,672.3 L1678.24,670.41 L1680.24,668.52 L1682.24,666.63 L1684.24,664.74 L1686.24,662.85 L1688.24,660.97 L1690.24,659.08 L1692.24,657.2 L1694.24,655.31 L1696.24,653.43 L1698.24,651.55 L1700.25,649.67 L1702.25,647.79 L1704.25,645.91 L1706.25,644.03 L1708.25,642.15 L1710.25,640.28 L1712.25,638.4 L1714.25,636.53 L1716.25,634.66 L1718.25,632.79 L1720.25,630.91 L1722.25,629.04 L1724.25,627.18 L1726.25,625.31 L1728.25,623.44 L1730.25,621.58 L1732.25,619.71 L1734.26,617.85 L1736.26,615.98 L1738.26,614.12 L1740.26,612.26 L1742.26,610.4 L1744.26,608.54 L1746.26,606.68 L1748.26,604.83 L1750.26,602.97 L1752.26,601.12 L1754.26,599.26 L1756.26,597.41 L1758.26,595.56 L1760.26,593.71 L1762.26,591.86" stroke="#808080" stroke-width="2.0" fill="none"/></g></g></g>
<g fill="none" stroke="#000" stroke-linejoin="round"><g mask="url(#mBhi)"><g filter="url(#bl32)"><path d="M1259.92,1099 L1261.92,1096.9 L1263.92,1094.81 L1265.92,1092.71 L1267.92,1090.61 L1269.92,1088.52 L1271.92,1086.43 L1273.91,1084.33 L1275.91,1082.24 L1277.91,1080.15 L1279.91,1078.06 L1281.91,1075.97 L1283.91,1073.89 L1285.91,1071.8 L1287.91,1069.71 L1289.91,1067.63 L1291.91,1065.55 L1293.91,1063.46 L1295.91,1061.38 L1297.9,1059.3 L1299.9,1057.22 L1301.9,1055.14 L1303.9,1053.07 L1305.9,1050.99 L1307.9,1048.91 L1309.9,1046.84 L1311.9,1044.76 L1313.9,1042.69 L1315.9,1040.62 L1317.9,1038.55 L1319.9,1036.48 L1321.9,1034.41 L1323.89,1032.34 L1325.89,1030.28 L1327.89,1028.21 L1329.89,1026.15 L1331.89,1024.08 L1333.89,1022.02 L1335.89,1019.96 L1337.89,1017.9 L1339.89,1015.84 L1341.89,1013.78 L1343.89,1011.72 L1345.89,1009.66 L1347.88,1007.61 L1349.88,1005.55 L1351.88,1003.5 L1353.88,1001.44 L1355.88,999.39 L1357.88,997.34 L1359.88,995.29 L1361.88,993.24 L1363.88,991.19 L1365.88,989.15 L1367.88,987.1 L1369.88,985.06 L1371.87,983.01 L1373.87,980.97 L1375.87,978.93 L1377.87,976.89 L1379.87,974.85 L1381.87,972.81 L1383.87,970.77 L1385.87,968.73 L1387.87,966.7 L1389.87,964.66 L1391.87,962.63 L1393.86,960.59 L1395.86,958.56 L1397.86,956.53 L1399.86,954.5 L1401.86,952.47 L1403.86,950.44 L1405.86,948.41 L1407.86,946.39 L1409.86,944.36 L1411.86,942.34 L1413.86,940.31 L1415.86,938.29 L1417.85,936.27 L1419.85,934.25 L1421.85,932.23 L1423.85,930.21 L1425.85,928.2 L1427.85,926.18 L1429.85,924.16 L1431.85,922.15 L1433.85,920.14 L1435.85,918.12 L1437.85,916.11 L1439.85,914.1 L1441.84,912.09 L1443.84,910.08 L1445.84,908.07 L1447.84,906.07 L1449.84,904.06 L1451.84,902.06 L1453.84,900.05 L1455.84,898.05 L1457.84,896.05 L1459.84,894.05 L1461.84,892.05 L1463.83,890.05 L1465.83,888.05 L1467.83,886.06 L1469.83,884.06 L1471.83,882.07 L1473.83,880.07 L1475.83,878.08 L1477.83,876.09 L1479.83,874.1 L1481.83,872.11 L1483.83,870.12 L1485.83,868.13 L1487.82,866.14 L1489.82,864.16 L1491.82,862.17 L1493.82,860.19 L1495.82,858.21 L1497.82,856.22 L1499.82,854.24 L1501.82,852.26 L1503.82,850.28 L1505.82,848.31 L1507.82,846.33 L1509.81,844.35 L1511.81,842.38 L1513.81,840.41 L1515.81,838.43 L1517.81,836.46 L1519.81,834.49 L1521.81,832.52 L1523.81,830.55 L1525.81,828.58 L1527.81,826.61 L1529.81,824.65 L1531.8,822.68 L1533.8,820.72 L1535.8,818.76 L1537.8,816.79 L1539.8,814.83 L1541.8,812.87 L1543.8,810.91 L1545.8,808.96 L1547.8,807 L1549.8,805.04 L1551.8,803.09 L1553.79,801.13 L1555.79,799.18 L1557.79,797.23 L1559.79,795.28 L1561.79,793.33 L1563.79,791.38 L1565.79,789.43 L1567.79,787.48 L1569.79,785.53 L1571.79,783.59 L1573.79,781.64 L1575.78,779.7 L1577.78,777.76 L1579.78,775.82 L1581.78,773.88 L1583.78,771.94 L1585.78,770 L1587.78,768.06 L1589.78,766.12 L1591.78,764.19 L1593.78,762.25 L1595.78,760.32 L1597.77,758.39 L1599.77,756.46 L1601.77,754.53 L1603.77,752.6 L1605.77,750.67 L1607.77,748.74 L1609.77,746.81 L1611.77,744.89 L1613.77,742.96 L1615.77,741.04 L1617.77,739.12 L1619.76,737.2 L1621.76,735.27 L1623.76,733.36 L1625.76,731.44 L1627.76,729.52 L1629.76,727.6 L1631.76,725.69 L1633.76,723.77 L1635.76,721.86 L1637.76,719.94 L1639.76,718.03 L1641.75,716.12 L1643.75,714.21 L1645.75,712.3 L1647.75,710.4 L1649.75,708.49 L1651.75,706.58 L1653.75,704.68 L1655.75,702.77 L1657.75,700.87 L1659.75,698.97 L1661.75,697.07 L1663.74,695.17 L1665.74,693.27 L1667.74,691.37 L1669.74,689.47 L1671.74,687.58 L1673.74,685.68 L1675.74,683.79 L1677.74,681.9 L1679.74,680 L1681.74,678.11 L1683.73,676.22 L1685.73,674.33 L1687.73,672.45 L1689.73,670.56 L1691.73,668.67 L1693.73,666.79 L1695.73,664.9 L1697.73,663.02 L1699.73,661.14 L1701.73,659.26 L1703.73,657.38 L1705.72,655.5 L1707.72,653.62 L1709.72,651.74 L1711.72,649.86 L1713.72,647.99 L1715.72,646.12 L1717.72,644.24 L1719.72,642.37 L1721.72,640.5 L1723.72,638.63 L1725.71,636.76 L1727.71,634.89 L1729.71,633.02 L1731.71,631.16 L1733.71,629.29 L1735.71,627.43 L1737.71,625.56 L1739.71,623.7 L1741.71,621.84 L1743.71,619.98 L1745.7,618.12 L1747.7,616.26 L1749.7,614.4 L1751.7,612.55 L1753.7,610.69 L1755.7,608.84 L1757.7,606.98 L1759.7,605.13 L1761.7,603.28 L1763.7,601.43 L1765.7,599.58 L1767.69,597.73" stroke="#808080" stroke-width="2.0" fill="none"/></g></g></g>
</g></g>
<line x1="1336.3" y1="834" x2="1685.1" y2="834" stroke="#fff" stroke-width="2.2" stroke-dasharray="14 13.7" stroke-dashoffset="26"/>
<text x="1360.5" y="828" font-size="27.5" text-anchor="start" fill="#000" font-family="'Liberation Serif', 'Times New Roman', serif">Λ</text>
<rect x="1336.3" y="647.5" width="348.8" height="369.8" fill="none" stroke="#000" stroke-width="1.7"/>
<line x1="1327.8" y1="689.8" x2="1345.3" y2="689.8" stroke="#000" stroke-width="1.7"/>
<line x1="1327.8" y1="821" x2="1345.3" y2="821" stroke="#000" stroke-width="1.7"/>
<line x1="1327.8" y1="952.2" x2="1345.3" y2="952.2" stroke="#000" stroke-width="1.7"/>
<line x1="1336.3" y1="755.4" x2="1341.3" y2="755.4" stroke="#000" stroke-width="1.7"/>
<line x1="1336.3" y1="886.6" x2="1341.3" y2="886.6" stroke="#000" stroke-width="1.7"/>
<line x1="1336.3" y1="1008.6" x2="1336.3" y2="1026.3" stroke="#000" stroke-width="1.7"/>
<line x1="1510.7" y1="1008.6" x2="1510.7" y2="1026.3" stroke="#000" stroke-width="1.7"/>
<line x1="1685.1" y1="1008.6" x2="1685.1" y2="1026.3" stroke="#000" stroke-width="1.7"/>
<line x1="1394.43" y1="1011.8" x2="1394.43" y2="1017.3" stroke="#000" stroke-width="1.7"/>
<line x1="1452.57" y1="1011.8" x2="1452.57" y2="1017.3" stroke="#000" stroke-width="1.7"/>
<line x1="1568.83" y1="1011.8" x2="1568.83" y2="1017.3" stroke="#000" stroke-width="1.7"/>
<line x1="1626.97" y1="1011.8" x2="1626.97" y2="1017.3" stroke="#000" stroke-width="1.7"/>
<text x="1313" y="700" font-size="28.4" text-anchor="end" fill="#000">390</text>
<text x="1313" y="831.2" font-size="28.4" text-anchor="end" fill="#000">370</text>
<text x="1313" y="962.4" font-size="28.4" text-anchor="end" fill="#000">350</text>
<text x="1336.3" y="1063.8" font-size="28.4" text-anchor="middle" fill="#000">590</text>
<text x="1510.7" y="1063.8" font-size="28.4" text-anchor="middle" fill="#000">620</text>
<text x="1685.1" y="1063.8" font-size="28.4" text-anchor="middle" fill="#000">650</text>
<text x="1511" y="1110.3" font-size="29.2" text-anchor="middle" fill="#000">Wavelength (nm)</text>
<text transform="translate(1234,834) rotate(-90)" font-size="29.2" text-anchor="middle">Grating period (nm)</text>
<rect x="1696.1" y="647.2" width="18.7" height="370.9" fill="url(#gD)" stroke="#000" stroke-width="1.6"/>
<line x1="1714.8" y1="1018.1" x2="1721.8" y2="1018.1" stroke="#000" stroke-width="1.6"/>
<line x1="1709.8" y1="925.38" x2="1715.8" y2="925.38" stroke="#000" stroke-width="1.6"/>
<line x1="1707.8" y1="832.65" x2="1722.8" y2="832.65" stroke="#000" stroke-width="1.6"/>
<line x1="1709.8" y1="739.93" x2="1715.8" y2="739.93" stroke="#000" stroke-width="1.6"/>
<line x1="1714.8" y1="647.2" x2="1721.8" y2="647.2" stroke="#000" stroke-width="1.6"/>
<text x="1738.6" y="657.4" font-size="28" text-anchor="start" fill="#000">+12</text>
<text x="1738.6" y="842.85" font-size="28" text-anchor="start" fill="#000">0</text>
<text x="1738.6" y="1028.3" font-size="28" text-anchor="start" fill="#000">−12</text>
<text x="1813.5" y="621.3" font-size="29.3" text-anchor="end" fill="#000">Modulation depth (dB)</text>
<text x="1211" y="611" font-size="40" text-anchor="start" fill="#000" font-weight="bold">f</text>
</svg></body></html>
